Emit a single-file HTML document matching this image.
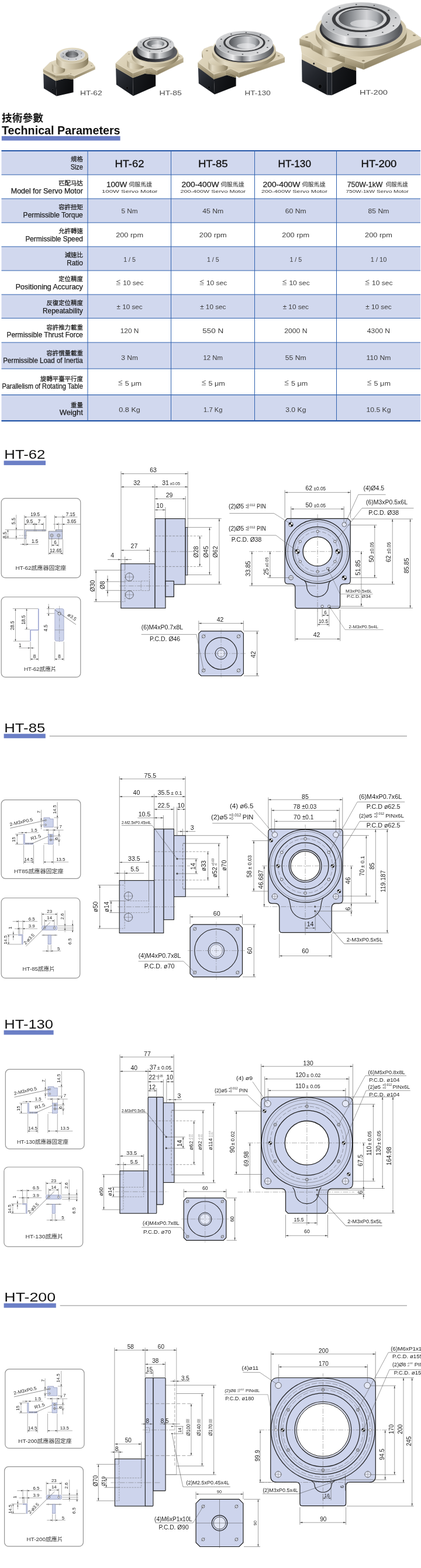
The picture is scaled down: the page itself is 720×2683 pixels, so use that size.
<!DOCTYPE html>
<html lang="zh-Hant">
<head>
<meta charset="utf-8">
<title>HT Series Hollow Rotary Table - Technical Parameters</title>
<style>
html,body{margin:0;padding:0;background:#fff;}
body{width:720px;height:2683px;overflow:hidden;}
svg{display:block;font-family:"Liberation Sans", "Noto Sans CJK TC", sans-serif;will-change:transform;}
</style>
</head>
<body>
<svg width="720" height="2683" viewBox="0 0 720 2683">
<rect width="720" height="2683" fill="#ffffff"/>
<g fill="#222">
<g id="header">
<defs>
<linearGradient id="gBlkL" x1="0" y1="0" x2="0.7" y2="1"><stop offset="0" stop-color="#3a3e46"/><stop offset="0.5" stop-color="#24272d"/><stop offset="1" stop-color="#15171b"/></linearGradient>
<linearGradient id="gBlkR" x1="0" y1="0" x2="1" y2="0.3"><stop offset="0" stop-color="#1a1c20"/><stop offset="1" stop-color="#0b0c0e"/></linearGradient>
<linearGradient id="gTop" x1="0" y1="0" x2="1" y2="0.4"><stop offset="0" stop-color="#e4dbc4"/><stop offset="0.55" stop-color="#d3c8ac"/><stop offset="1" stop-color="#ddd3ba"/></linearGradient>
<linearGradient id="gRim" x1="0" y1="0" x2="0" y2="1"><stop offset="0" stop-color="#bfb396"/><stop offset="1" stop-color="#8d8163"/></linearGradient>
<linearGradient id="gBodyL" x1="0" y1="0" x2="0" y2="1"><stop offset="0" stop-color="#ddd3ba"/><stop offset="1" stop-color="#c0b497"/></linearGradient>
<linearGradient id="gBodyF" x1="0" y1="0" x2="1" y2="0.5"><stop offset="0" stop-color="#c2b699"/><stop offset="1" stop-color="#7f7457"/></linearGradient>
<linearGradient id="gCylS" x1="0" y1="0" x2="1" y2="0"><stop offset="0" stop-color="#a99d80"/><stop offset="0.2" stop-color="#e3dbc5"/><stop offset="0.5" stop-color="#c9bea2"/><stop offset="0.8" stop-color="#a99d80"/><stop offset="1" stop-color="#84795c"/></linearGradient>
<linearGradient id="gCylT" x1="0" y1="0" x2="1" y2="1"><stop offset="0" stop-color="#e6dec8"/><stop offset="1" stop-color="#c6bb9e"/></linearGradient>
<linearGradient id="gSteelS" x1="0" y1="0" x2="1" y2="0"><stop offset="0" stop-color="#5f6164"/><stop offset="0.14" stop-color="#a5a7aa"/><stop offset="0.3" stop-color="#eeeeef"/><stop offset="0.46" stop-color="#6f7174"/><stop offset="0.6" stop-color="#dcdddf"/><stop offset="0.8" stop-color="#8e9093"/><stop offset="1" stop-color="#4f5154"/></linearGradient>
<linearGradient id="gSteelT" x1="0" y1="0" x2="1" y2="1"><stop offset="0" stop-color="#e9e9ea"/><stop offset="0.4" stop-color="#b4b6b9"/><stop offset="0.7" stop-color="#cfd0d2"/><stop offset="1" stop-color="#e6e6e7"/></linearGradient>
<linearGradient id="gHole" x1="0" y1="0" x2="1" y2="0"><stop offset="0" stop-color="#4d4f53"/><stop offset="0.3" stop-color="#8f9296"/><stop offset="0.62" stop-color="#d2d3d6"/><stop offset="0.85" stop-color="#a3a6aa"/><stop offset="1" stop-color="#5a5c60"/></linearGradient>
<linearGradient id="gHoleD" x1="0" y1="0" x2="1" y2="0"><stop offset="0" stop-color="#3a3b3e"/><stop offset="0.55" stop-color="#8a8c90"/><stop offset="1" stop-color="#55575a"/></linearGradient>
<linearGradient id="gSeal" x1="0" y1="0" x2="1" y2="0.3"><stop offset="0" stop-color="#4a4b50"/><stop offset="0.35" stop-color="#1d1d20"/><stop offset="0.7" stop-color="#34353a"/><stop offset="1" stop-color="#5a5b60"/></linearGradient>
</defs>
<polygon points="74.2,125.5 95.2,138.2 96.8,164.5 74.9,151.3" fill="url(#gBlkL)"/>
<polygon points="95.2,138.2 111.2,134.2 125.5,135.8 125.5,158.1 96.8,164.5" fill="url(#gBlkR)"/>
<polygon points="74.2,118.3 95.2,128.7 95.2,138.4 74.2,125.7" fill="url(#gBodyL)"/>
<polygon points="95.2,128.7 112.8,127.9 125.5,131 125.5,136 111.2,134.4 95.2,138.4" fill="url(#gBodyF)"/>
<polygon points="74.2,118.3 85.7,106.8 85.7,111.6 74.2,123.1" fill="url(#gRim)" stroke="#b3a88d" stroke-width="0.5" stroke-linejoin="round"/>
<polygon points="85.7,106.8 96,103 96,107.8 85.7,111.6" fill="url(#gRim)" stroke="#b3a88d" stroke-width="0.5" stroke-linejoin="round"/>
<polygon points="96,103 150,103 150,107.8 96,107.8" fill="url(#gRim)" stroke="#b3a88d" stroke-width="0.5" stroke-linejoin="round"/>
<polygon points="150,103 158,108 158,112.8 150,107.8" fill="url(#gRim)" stroke="#b3a88d" stroke-width="0.5" stroke-linejoin="round"/>
<polygon points="158,108 162.1,114 162.1,118.8 158,112.8" fill="url(#gRim)" stroke="#b3a88d" stroke-width="0.5" stroke-linejoin="round"/>
<polygon points="162.1,114 127.1,129.9 127.1,134.7 162.1,118.8" fill="url(#gRim)" stroke="#b3a88d" stroke-width="0.5" stroke-linejoin="round"/>
<polygon points="127.1,129.9 118.3,126.7 118.3,131.5 127.1,134.7" fill="url(#gRim)" stroke="#b3a88d" stroke-width="0.5" stroke-linejoin="round"/>
<polygon points="118.3,126.7 112.8,127.9 112.8,132.7 118.3,131.5" fill="url(#gRim)" stroke="#b3a88d" stroke-width="0.5" stroke-linejoin="round"/>
<polygon points="112.8,127.9 95.2,128.7 95.2,133.5 112.8,132.7" fill="url(#gRim)" stroke="#b3a88d" stroke-width="0.5" stroke-linejoin="round"/>
<polygon points="95.2,128.7 74.2,118.3 74.2,123.1 95.2,133.5" fill="url(#gRim)" stroke="#b3a88d" stroke-width="0.5" stroke-linejoin="round"/>
<polygon points="74.2,118.3 85.7,106.8 96,103 150,103 158,108 162.1,114 127.1,129.9 118.3,126.7 112.8,127.9 95.2,128.7" fill="url(#gTop)" stroke="#ebe4d1" stroke-width="0.6" stroke-linejoin="round"/>
<ellipse cx="156.5" cy="112.3" rx="1.3" ry="0.65" fill="#8d8268" stroke="#c9bfa6" stroke-width="0.4"/>
<ellipse cx="121" cy="126.2" rx="1.2" ry="0.6" fill="#8d8268" stroke="#c9bfa6" stroke-width="0.4"/>
<ellipse cx="90.3" cy="153.6" rx="1.5" ry="1.72" fill="#050505" stroke="#3d4046" stroke-width="0.5"/>
<path d="M88.8 108.5 V120.5 A11.2 5.6 0 0 0 111.2 120.5 V108.5 Z" fill="url(#gCylS)"/>
<ellipse cx="100" cy="108.5" rx="11.2" ry="5.6" fill="url(#gCylT)"/>
<path d="M96.2 94.9 V105.9 A27.4 13.1 0 0 0 151 105.9 V94.9 Z" fill="url(#gCylS)"/>
<ellipse cx="123.6" cy="94.9" rx="27.4" ry="13.1" fill="url(#gCylT)" stroke="#ece6d5" stroke-width="0.5"/>
<ellipse cx="123.6" cy="94.1" rx="21.5" ry="9.9" fill="url(#gSteelT)" stroke="#f6f6f6" stroke-width="0.5"/>
<ellipse cx="139.15" cy="96.99" rx="0.9" ry="0.6" fill="#55575a"/>
<ellipse cx="130.15" cy="101.21" rx="0.9" ry="0.6" fill="#55575a"/>
<ellipse cx="117.32" cy="101.26" rx="0.9" ry="0.6" fill="#55575a"/>
<ellipse cx="108.16" cy="97.12" rx="0.9" ry="0.6" fill="#55575a"/>
<ellipse cx="108.05" cy="91.21" rx="0.9" ry="0.6" fill="#55575a"/>
<ellipse cx="117.05" cy="86.99" rx="0.9" ry="0.6" fill="#55575a"/>
<ellipse cx="129.88" cy="86.94" rx="0.9" ry="0.6" fill="#55575a"/>
<ellipse cx="139.04" cy="91.08" rx="0.9" ry="0.6" fill="#55575a"/>
<ellipse cx="123.1" cy="93.3" rx="11.5" ry="6" fill="url(#gHoleD)" stroke="#e6e6e6" stroke-width="0.6"/>
<path d="M111.6 93.3 A11.5 6 0 0 1 129.42 88.32 A12.65 5.4 0 0 0 111.6 93.3 Z" fill="#3a3c40" opacity="0.8"/>
<ellipse cx="124.48" cy="96.3" rx="6.9" ry="2.28" fill="#f1f1f2" opacity="0.15"/>
<text x="137" y="163.4" font-size="10.6" textLength="37.8" lengthAdjust="spacingAndGlyphs" fill="#4a4a4a">HT-62</text>
<polygon points="198.1,116 227.1,133 227.8,164.2 198.9,144.7" fill="url(#gBlkL)"/>
<polygon points="227.1,133 247.3,125.8 266.2,127.8 266.2,147.3 227.8,164.2" fill="url(#gBlkR)"/>
<polygon points="198.1,108.2 227.1,125.2 227.1,133.2 198.1,116.2" fill="url(#gBodyL)"/>
<polygon points="227.1,125.2 247.3,118.5 266.2,120.5 266.2,128 247.3,126 227.1,133.2" fill="url(#gBodyF)"/>
<polygon points="198.1,108.2 215.4,91.5 215.4,99.3 198.1,116" fill="url(#gRim)" stroke="#b3a88d" stroke-width="0.5" stroke-linejoin="round"/>
<polygon points="215.4,91.5 219.3,88.1 219.3,95.9 215.4,99.3" fill="url(#gRim)" stroke="#b3a88d" stroke-width="0.5" stroke-linejoin="round"/>
<polygon points="219.3,88.1 232,85 232,92.8 219.3,95.9" fill="url(#gRim)" stroke="#b3a88d" stroke-width="0.5" stroke-linejoin="round"/>
<polygon points="232,85 305.3,92 305.3,99.8 232,92.8" fill="url(#gRim)" stroke="#b3a88d" stroke-width="0.5" stroke-linejoin="round"/>
<polygon points="305.3,92 311.1,95.3 311.1,103.1 305.3,99.8" fill="url(#gRim)" stroke="#b3a88d" stroke-width="0.5" stroke-linejoin="round"/>
<polygon points="311.1,95.3 313.1,98.8 313.1,106.6 311.1,103.1" fill="url(#gRim)" stroke="#b3a88d" stroke-width="0.5" stroke-linejoin="round"/>
<polygon points="313.1,98.8 268.1,120.7 268.1,128.5 313.1,106.6" fill="url(#gRim)" stroke="#b3a88d" stroke-width="0.5" stroke-linejoin="round"/>
<polygon points="268.1,120.7 257.4,115.4 257.4,123.2 268.1,128.5" fill="url(#gRim)" stroke="#b3a88d" stroke-width="0.5" stroke-linejoin="round"/>
<polygon points="257.4,115.4 248.6,117.4 248.6,125.2 257.4,123.2" fill="url(#gRim)" stroke="#b3a88d" stroke-width="0.5" stroke-linejoin="round"/>
<polygon points="248.6,117.4 227.1,125.2 227.1,133 248.6,125.2" fill="url(#gRim)" stroke="#b3a88d" stroke-width="0.5" stroke-linejoin="round"/>
<polygon points="227.1,125.2 198.1,108.2 198.1,116 227.1,133" fill="url(#gRim)" stroke="#b3a88d" stroke-width="0.5" stroke-linejoin="round"/>
<polygon points="198.1,108.2 215.4,91.5 219.3,88.1 232,85 305.3,92 311.1,95.3 313.1,98.8 268.1,120.7 257.4,115.4 248.6,117.4 227.1,125.2" fill="url(#gTop)" stroke="#ebe4d1" stroke-width="0.6" stroke-linejoin="round"/>
<ellipse cx="306.5" cy="96.5" rx="1.5" ry="0.75" fill="#8d8268" stroke="#c9bfa6" stroke-width="0.4"/>
<ellipse cx="259.5" cy="117.5" rx="1.5" ry="0.75" fill="#8d8268" stroke="#c9bfa6" stroke-width="0.4"/>
<ellipse cx="220.5" cy="92.5" rx="1.4" ry="0.7" fill="#8d8268" stroke="#c9bfa6" stroke-width="0.4"/>
<ellipse cx="217.5" cy="150.5" rx="1.9" ry="2.18" fill="#050505" stroke="#3d4046" stroke-width="0.5"/>
<path d="M217.5 102.5 V112.5 A14.5 6.5 0 0 0 246.5 112.5 V102.5 Z" fill="url(#gCylS)"/>
<ellipse cx="232" cy="102.5" rx="14.5" ry="6.5" fill="url(#gCylT)"/>
<path d="M225.2 90 V97 A40 18.6 0 0 0 305.2 97 V90 Z" fill="url(#gCylS)"/>
<ellipse cx="265.2" cy="90" rx="40" ry="18.6" fill="url(#gCylT)" stroke="#ece6d5" stroke-width="0.5"/>
<ellipse cx="265.2" cy="89.1" rx="38.1" ry="17.2" fill="url(#gSeal)"/>
<path d="M234.6 76.4 V87.1 A31.6 14.1 0 0 0 297.8 87.1 V76.4 Z" fill="url(#gSteelS)"/>
<ellipse cx="266.2" cy="76.4" rx="31.6" ry="14.1" fill="url(#gSteelT)" stroke="#f6f6f6" stroke-width="0.5"/>
<ellipse cx="266.2" cy="75.4" rx="22.5" ry="9.8" fill="#3a3b3e"/>
<ellipse cx="266.2" cy="75.1" rx="19.5" ry="8.4" fill="url(#gSteelT)" stroke="#fafafa" stroke-width="0.4"/>
<ellipse cx="291.4" cy="80.94" rx="0.9" ry="0.6" fill="#55575a"/>
<ellipse cx="276.82" cy="87.56" rx="0.9" ry="0.6" fill="#55575a"/>
<ellipse cx="256.02" cy="87.64" rx="0.9" ry="0.6" fill="#55575a"/>
<ellipse cx="241.18" cy="81.14" rx="0.9" ry="0.6" fill="#55575a"/>
<ellipse cx="241" cy="71.86" rx="0.9" ry="0.6" fill="#55575a"/>
<ellipse cx="255.58" cy="65.24" rx="0.9" ry="0.6" fill="#55575a"/>
<ellipse cx="276.38" cy="65.16" rx="0.9" ry="0.6" fill="#55575a"/>
<ellipse cx="291.22" cy="71.66" rx="0.9" ry="0.6" fill="#55575a"/>
<ellipse cx="266.2" cy="75" rx="15.2" ry="6.8" fill="url(#gHole)" stroke="#e6e6e6" stroke-width="0.6"/>
<path d="M251 75 A15.2 6.8 0 0 1 274.56 69.36 A16.72 6.12 0 0 0 251 75 Z" fill="#3a3c40" opacity="0.8"/>
<ellipse cx="268.02" cy="78.4" rx="9.12" ry="2.58" fill="#f1f1f2" opacity="0.55"/>
<text x="272.6" y="162.7" font-size="10.6" textLength="38.2" lengthAdjust="spacingAndGlyphs" fill="#4a4a4a">HT-85</text>
<polygon points="338.9,115.4 365.8,133.6 367.1,161.6 339.8,142.7" fill="url(#gBlkL)"/>
<polygon points="365.8,133.6 386,127.8 403.6,133 403.6,147.3 367.1,161.6" fill="url(#gBlkR)"/>
<polygon points="338.9,106.9 365.8,127.1 365.8,133.8 338.9,115.6" fill="url(#gBodyL)"/>
<polygon points="365.8,127.1 386,120.6 403.6,124 403.6,133.2 386,128 365.8,133.8" fill="url(#gBodyF)"/>
<polygon points="338.9,106.9 347.9,98.1 347.9,106.5 338.9,115.3" fill="url(#gRim)" stroke="#b3a88d" stroke-width="0.5" stroke-linejoin="round"/>
<polygon points="347.9,98.1 345.5,88.5 345.5,96.9 347.9,106.5" fill="url(#gRim)" stroke="#b3a88d" stroke-width="0.5" stroke-linejoin="round"/>
<polygon points="345.5,88.5 349.1,83.7 349.1,92.1 345.5,96.9" fill="url(#gRim)" stroke="#b3a88d" stroke-width="0.5" stroke-linejoin="round"/>
<polygon points="349.1,83.7 361,79 361,87.4 349.1,92.1" fill="url(#gRim)" stroke="#b3a88d" stroke-width="0.5" stroke-linejoin="round"/>
<polygon points="361,79 473.3,88.5 473.3,96.9 361,87.4" fill="url(#gRim)" stroke="#b3a88d" stroke-width="0.5" stroke-linejoin="round"/>
<polygon points="473.3,88.5 482.8,93.3 482.8,101.7 473.3,96.9" fill="url(#gRim)" stroke="#b3a88d" stroke-width="0.5" stroke-linejoin="round"/>
<polygon points="482.8,93.3 486.4,98.1 486.4,106.5 482.8,101.7" fill="url(#gRim)" stroke="#b3a88d" stroke-width="0.5" stroke-linejoin="round"/>
<polygon points="486.4,98.1 408.8,124.3 408.8,132.7 486.4,106.5" fill="url(#gRim)" stroke="#b3a88d" stroke-width="0.5" stroke-linejoin="round"/>
<polygon points="408.8,124.3 394.5,117.2 394.5,125.6 408.8,132.7" fill="url(#gRim)" stroke="#b3a88d" stroke-width="0.5" stroke-linejoin="round"/>
<polygon points="394.5,117.2 386,120.6 386,129 394.5,125.6" fill="url(#gRim)" stroke="#b3a88d" stroke-width="0.5" stroke-linejoin="round"/>
<polygon points="386,120.6 365.8,127.1 365.8,135.5 386,129" fill="url(#gRim)" stroke="#b3a88d" stroke-width="0.5" stroke-linejoin="round"/>
<polygon points="365.8,127.1 338.9,106.9 338.9,115.3 365.8,135.5" fill="url(#gRim)" stroke="#b3a88d" stroke-width="0.5" stroke-linejoin="round"/>
<polygon points="338.9,106.9 347.9,98.1 345.5,88.5 349.1,83.7 361,79 473.3,88.5 482.8,93.3 486.4,98.1 408.8,124.3 394.5,117.2 386,120.6 365.8,127.1" fill="url(#gTop)" stroke="#ebe4d1" stroke-width="0.6" stroke-linejoin="round"/>
<ellipse cx="354" cy="86.8" rx="2" ry="1" fill="#8d8268" stroke="#c9bfa6" stroke-width="0.4"/>
<ellipse cx="476.5" cy="95.5" rx="2" ry="1" fill="#8d8268" stroke="#c9bfa6" stroke-width="0.4"/>
<ellipse cx="419.5" cy="122" rx="2" ry="1" fill="#8d8268" stroke="#c9bfa6" stroke-width="0.4"/>
<ellipse cx="357.5" cy="149.5" rx="1.9" ry="2.18" fill="#050505" stroke="#3d4046" stroke-width="0.5"/>
<path d="M356.5 105 V116 A16.5 7.5 0 0 0 389.5 116 V105 Z" fill="url(#gCylS)"/>
<ellipse cx="373" cy="105" rx="16.5" ry="7.5" fill="url(#gCylT)"/>
<path d="M362.8 84.9 V91.9 A54.4 25.1 0 0 0 471.6 91.9 V84.9 Z" fill="url(#gCylS)"/>
<ellipse cx="417.2" cy="84.9" rx="54.4" ry="25.1" fill="url(#gCylT)" stroke="#ece6d5" stroke-width="0.5"/>
<ellipse cx="417.2" cy="83.7" rx="51.3" ry="23.4" fill="url(#gSeal)"/>
<path d="M369 74.2 V83.8 A48.9 21.5 0 0 0 466.8 83.8 V74.2 Z" fill="url(#gSteelS)"/>
<ellipse cx="417.9" cy="74.2" rx="48.9" ry="21.5" fill="url(#gSteelT)" stroke="#f6f6f6" stroke-width="0.5"/>
<ellipse cx="417.9" cy="73" rx="35.8" ry="15.5" fill="#3a3b3e"/>
<ellipse cx="417.9" cy="72.7" rx="32.2" ry="13.8" fill="url(#gSteelT)" stroke="#fafafa" stroke-width="0.4"/>
<ellipse cx="457.35" cy="81.21" rx="1.4" ry="0.9" fill="#55575a"/>
<ellipse cx="440.44" cy="90.06" rx="1.4" ry="0.9" fill="#55575a"/>
<ellipse cx="414.93" cy="92.86" rx="1.4" ry="0.9" fill="#55575a"/>
<ellipse cx="390.55" cy="88.53" rx="1.4" ry="0.9" fill="#55575a"/>
<ellipse cx="376.62" cy="78.73" rx="1.4" ry="0.9" fill="#55575a"/>
<ellipse cx="378.45" cy="67.19" rx="1.4" ry="0.9" fill="#55575a"/>
<ellipse cx="395.36" cy="58.34" rx="1.4" ry="0.9" fill="#55575a"/>
<ellipse cx="420.87" cy="55.54" rx="1.4" ry="0.9" fill="#55575a"/>
<ellipse cx="445.25" cy="59.87" rx="1.4" ry="0.9" fill="#55575a"/>
<ellipse cx="459.18" cy="69.67" rx="1.4" ry="0.9" fill="#55575a"/>
<ellipse cx="417.9" cy="72.5" rx="26.7" ry="11.9" fill="url(#gHole)" stroke="#e6e6e6" stroke-width="0.6"/>
<path d="M391.2 72.5 A26.7 11.9 0 0 1 432.58 62.62 A29.37 10.71 0 0 0 391.2 72.5 Z" fill="#3a3c40" opacity="0.8"/>
<ellipse cx="421.1" cy="78.45" rx="16.02" ry="4.52" fill="#f1f1f2" opacity="0.55"/>
<text x="418.5" y="163.3" font-size="10.6" textLength="44.2" lengthAdjust="spacingAndGlyphs" fill="#4a4a4a">HT-130</text>
<polygon points="516,101.6 559.4,123.6 559.4,162.4 516.6,139.8" fill="url(#gBlkL)"/>
<polygon points="559.4,123.6 567.5,124.2 567.5,162.9 559.4,162.4" fill="#23262c"/>
<polygon points="567.5,124.2 586.6,113.8 609.2,120.8 609.2,143.4 567.5,162.9" fill="url(#gBlkR)"/>
<polygon points="516,91.2 559.4,114.9 559.4,123.8 516,101.8" fill="url(#gBodyL)"/>
<polygon points="559.4,114.9 567.5,115.5 567.5,124.4 559.4,123.8" fill="#e9e2cf"/>
<polygon points="567.5,115.5 588.4,105.5 609.2,112 609.2,121 586.6,114 567.5,124.4" fill="url(#gBodyF)"/>
<polygon points="516,91.2 513.7,77.4 560,80 600,100 588.4,105.5 567.5,115.5 559.4,114.9" fill="url(#gTop)"/>
<polygon points="512.8,66.1 517.2,61.7 517.2,72.7 512.8,77.1" fill="url(#gRim)" stroke="#b3a88d" stroke-width="0.5" stroke-linejoin="round"/>
<polygon points="517.2,61.7 540.8,51.3 540.8,62.3 517.2,72.7" fill="url(#gRim)" stroke="#b3a88d" stroke-width="0.5" stroke-linejoin="round"/>
<polygon points="540.8,51.3 688.6,45.1 688.6,56.1 540.8,62.3" fill="url(#gRim)" stroke="#b3a88d" stroke-width="0.5" stroke-linejoin="round"/>
<polygon points="688.6,45.1 704,52.9 704,63.9 688.6,56.1" fill="url(#gRim)" stroke="#b3a88d" stroke-width="0.5" stroke-linejoin="round"/>
<polygon points="704,52.9 719.7,64.7 719.7,75.7 704,63.9" fill="url(#gRim)" stroke="#b3a88d" stroke-width="0.5" stroke-linejoin="round"/>
<polygon points="719.7,64.7 720,66 720,77 719.7,75.7" fill="url(#gRim)" stroke="#b3a88d" stroke-width="0.5" stroke-linejoin="round"/>
<polygon points="720,66 622,108 622,119 720,77" fill="url(#gRim)" stroke="#b3a88d" stroke-width="0.5" stroke-linejoin="round"/>
<polygon points="622,108 590,97 590,108 622,119" fill="url(#gRim)" stroke="#b3a88d" stroke-width="0.5" stroke-linejoin="round"/>
<polygon points="590,97 551.9,84.3 551.9,95.3 590,108" fill="url(#gRim)" stroke="#b3a88d" stroke-width="0.5" stroke-linejoin="round"/>
<polygon points="551.9,84.3 535.4,75.6 535.4,86.6 551.9,95.3" fill="url(#gRim)" stroke="#b3a88d" stroke-width="0.5" stroke-linejoin="round"/>
<polygon points="535.4,75.6 531,71.3 531,82.3 535.4,86.6" fill="url(#gRim)" stroke="#b3a88d" stroke-width="0.5" stroke-linejoin="round"/>
<polygon points="531,71.3 512.8,66.1 512.8,77.1 531,82.3" fill="url(#gRim)" stroke="#b3a88d" stroke-width="0.5" stroke-linejoin="round"/>
<polygon points="512.8,66.1 517.2,61.7 540.8,51.3 688.6,45.1 704,52.9 719.7,64.7 720,66 622,108 590,97 551.9,84.3 535.4,75.6 531,71.3" fill="url(#gTop)" stroke="#ebe4d1" stroke-width="0.6" stroke-linejoin="round"/>
<ellipse cx="524.5" cy="63.5" rx="2.6" ry="1.3" fill="#8d8268" stroke="#c9bfa6" stroke-width="0.4"/>
<ellipse cx="708.5" cy="60.5" rx="2.6" ry="1.3" fill="#8d8268" stroke="#c9bfa6" stroke-width="0.4"/>
<ellipse cx="621.4" cy="104" rx="2.6" ry="1.3" fill="#8d8268" stroke="#c9bfa6" stroke-width="0.4"/>
<ellipse cx="547.3" cy="147.9" rx="3.2" ry="3.68" fill="#050505" stroke="#3d4046" stroke-width="0.5"/>
<ellipse cx="536.8" cy="108.9" rx="1.2" ry="1.38" fill="#050505" stroke="#3d4046" stroke-width="0.5"/>
<path d="M550 76 V91 A16 7.5 0 0 0 582 91 V76 Z" fill="url(#gCylS)"/>
<ellipse cx="566" cy="76" rx="16" ry="7.5" fill="url(#gCylT)"/>
<path d="M539.8 51.3 V61.3 A77.8 35.8 0 0 0 695.4 61.3 V51.3 Z" fill="url(#gCylS)"/>
<ellipse cx="617.6" cy="51.3" rx="77.8" ry="35.8" fill="url(#gCylT)" stroke="#ece6d5" stroke-width="0.5"/>
<ellipse cx="617.6" cy="49.8" rx="70.9" ry="32.4" fill="url(#gSeal)"/>
<path d="M549.8 34.2 V48.2 A67.8 30.5 0 0 0 685.4 48.2 V34.2 Z" fill="url(#gSteelS)"/>
<ellipse cx="617.6" cy="34.2" rx="67.8" ry="30.5" fill="url(#gSteelT)" stroke="#f6f6f6" stroke-width="0.5"/>
<ellipse cx="617.6" cy="32.7" rx="49.8" ry="22.4" fill="#3a3b3e"/>
<ellipse cx="617.6" cy="32.4" rx="43.6" ry="19.3" fill="url(#gSteelT)" stroke="#fafafa" stroke-width="0.4"/>
<ellipse cx="672.92" cy="44.25" rx="1.4" ry="0.9" fill="#55575a"/>
<ellipse cx="654.33" cy="55.35" rx="1.4" ry="0.9" fill="#55575a"/>
<ellipse cx="625.9" cy="60.78" rx="1.4" ry="0.9" fill="#55575a"/>
<ellipse cx="595.25" cy="59.09" rx="1.4" ry="0.9" fill="#55575a"/>
<ellipse cx="570.58" cy="50.72" rx="1.4" ry="0.9" fill="#55575a"/>
<ellipse cx="558.52" cy="37.94" rx="1.4" ry="0.9" fill="#55575a"/>
<ellipse cx="562.28" cy="24.15" rx="1.4" ry="0.9" fill="#55575a"/>
<ellipse cx="580.87" cy="13.05" rx="1.4" ry="0.9" fill="#55575a"/>
<ellipse cx="609.3" cy="7.62" rx="1.4" ry="0.9" fill="#55575a"/>
<ellipse cx="639.95" cy="9.31" rx="1.4" ry="0.9" fill="#55575a"/>
<ellipse cx="664.62" cy="17.68" rx="1.4" ry="0.9" fill="#55575a"/>
<ellipse cx="676.68" cy="30.46" rx="1.4" ry="0.9" fill="#55575a"/>
<ellipse cx="617.6" cy="31.7" rx="38.9" ry="17.1" fill="url(#gHole)" stroke="#e6e6e6" stroke-width="0.6"/>
<path d="M578.7 31.7 A38.9 17.1 0 0 1 639 17.51 A42.79 15.39 0 0 0 578.7 31.7 Z" fill="#3a3c40" opacity="0.8"/>
<ellipse cx="622.27" cy="40.25" rx="23.34" ry="6.5" fill="#f1f1f2" opacity="0.55"/>
<text x="615" y="161.5" font-size="10.6" textLength="48" lengthAdjust="spacingAndGlyphs" fill="#4a4a4a">HT-200</text>
<text x="3" y="207.5" font-size="17.5" font-weight="bold" textLength="71" lengthAdjust="spacingAndGlyphs" fill="#111">技術參數</text>
<text x="3" y="229.6" font-size="19.8" font-weight="bold" textLength="202.6" lengthAdjust="spacingAndGlyphs" fill="#111">Technical Parameters</text>
<rect x="2.8" y="232.9" width="202.8" height="7.6" fill="#6b7fc6"/>
</g>
<g id="table">
<rect x="2.5" y="258" width="716.5" height="41" fill="#d1d8ee"/>
<rect x="2.5" y="340" width="716.5" height="41" fill="#d1d8ee"/>
<rect x="2.5" y="422" width="716.5" height="41" fill="#d1d8ee"/>
<rect x="2.5" y="504" width="716.5" height="40.5" fill="#d1d8ee"/>
<rect x="2.5" y="586" width="716.5" height="45" fill="#d1d8ee"/>
<rect x="2.5" y="675.6" width="716.5" height="44.9" fill="#d1d8ee"/>
<line x1="2.5" y1="258" x2="719" y2="258" stroke="#2456a8" stroke-width="2"/>
<line x1="2.5" y1="299" x2="719" y2="299" stroke="#2f61ae" stroke-width="1.1"/>
<line x1="2.5" y1="340" x2="719" y2="340" stroke="#2f61ae" stroke-width="1.1"/>
<line x1="2.5" y1="381" x2="719" y2="381" stroke="#2f61ae" stroke-width="1.1"/>
<line x1="2.5" y1="422" x2="719" y2="422" stroke="#2f61ae" stroke-width="1.1"/>
<line x1="2.5" y1="463" x2="719" y2="463" stroke="#2f61ae" stroke-width="1.1"/>
<line x1="2.5" y1="504" x2="719" y2="504" stroke="#2f61ae" stroke-width="1.1"/>
<line x1="2.5" y1="544.5" x2="719" y2="544.5" stroke="#2f61ae" stroke-width="1.1"/>
<line x1="2.5" y1="586" x2="719" y2="586" stroke="#2f61ae" stroke-width="1.1"/>
<line x1="2.5" y1="631" x2="719" y2="631" stroke="#2f61ae" stroke-width="1.1"/>
<line x1="2.5" y1="675.6" x2="719" y2="675.6" stroke="#2f61ae" stroke-width="1.1"/>
<line x1="2.5" y1="720.2" x2="719" y2="720.2" stroke="#2456a8" stroke-width="2.2"/>
<line x1="150" y1="258" x2="150" y2="720.5" stroke="#2f61ae" stroke-width="1"/>
<line x1="292.5" y1="258" x2="292.5" y2="720.5" stroke="#2f61ae" stroke-width="1"/>
<line x1="435.5" y1="258" x2="435.5" y2="720.5" stroke="#2f61ae" stroke-width="1"/>
<line x1="575.5" y1="258" x2="575.5" y2="720.5" stroke="#2f61ae" stroke-width="1"/>
<text x="141.8" y="276.2" font-size="10.4" text-anchor="end" fill="#1a1a1a" stroke="#1a1a1a" stroke-width="0.25">規格</text>
<text x="141.8" y="289.5" font-size="12.3" text-anchor="end" textLength="21.1" lengthAdjust="spacingAndGlyphs" fill="#1a1a1a" stroke="#1a1a1a" stroke-width="0.25">Size</text>
<text x="141.8" y="317.2" font-size="10.4" text-anchor="end" fill="#1a1a1a" stroke="#1a1a1a" stroke-width="0.25">匹配马达</text>
<text x="141.8" y="330.5" font-size="12.3" text-anchor="end" textLength="123" lengthAdjust="spacingAndGlyphs" fill="#1a1a1a" stroke="#1a1a1a" stroke-width="0.25">Model for Servo Motor</text>
<text x="141.8" y="358.2" font-size="10.4" text-anchor="end" fill="#1a1a1a" stroke="#1a1a1a" stroke-width="0.25">容許扭矩</text>
<text x="141.8" y="371.5" font-size="12.3" text-anchor="end" textLength="102.2" lengthAdjust="spacingAndGlyphs" fill="#1a1a1a" stroke="#1a1a1a" stroke-width="0.25">Permissible Torque</text>
<text x="141.8" y="399.2" font-size="10.4" text-anchor="end" fill="#1a1a1a" stroke="#1a1a1a" stroke-width="0.25">允許轉速</text>
<text x="141.8" y="412.5" font-size="12.3" text-anchor="end" textLength="98.4" lengthAdjust="spacingAndGlyphs" fill="#1a1a1a" stroke="#1a1a1a" stroke-width="0.25">Permissible Speed</text>
<text x="141.8" y="440.2" font-size="10.4" text-anchor="end" fill="#1a1a1a" stroke="#1a1a1a" stroke-width="0.25">減速比</text>
<text x="141.8" y="453.5" font-size="12.3" text-anchor="end" textLength="27.5" lengthAdjust="spacingAndGlyphs" fill="#1a1a1a" stroke="#1a1a1a" stroke-width="0.25">Ratio</text>
<text x="141.8" y="481.2" font-size="10.4" text-anchor="end" fill="#1a1a1a" stroke="#1a1a1a" stroke-width="0.25">定位精度</text>
<text x="141.8" y="494.5" font-size="12.3" text-anchor="end" textLength="115" lengthAdjust="spacingAndGlyphs" fill="#1a1a1a" stroke="#1a1a1a" stroke-width="0.25">Positioning Accuracy</text>
<text x="141.8" y="522.2" font-size="10.4" text-anchor="end" fill="#1a1a1a" stroke="#1a1a1a" stroke-width="0.25">反復定位精度</text>
<text x="141.8" y="535.5" font-size="12.3" text-anchor="end" textLength="68.9" lengthAdjust="spacingAndGlyphs" fill="#1a1a1a" stroke="#1a1a1a" stroke-width="0.25">Repeatability</text>
<text x="141.8" y="564.2" font-size="10.4" text-anchor="end" fill="#1a1a1a" stroke="#1a1a1a" stroke-width="0.25">容許推力載重</text>
<text x="141.8" y="577.3" font-size="12.3" text-anchor="end" textLength="130.2" lengthAdjust="spacingAndGlyphs" fill="#1a1a1a" stroke="#1a1a1a" stroke-width="0.25">Permissible Thrust Force</text>
<text x="141.8" y="608.2" font-size="10.4" text-anchor="end" fill="#1a1a1a" stroke="#1a1a1a" stroke-width="0.25">容許慣量載重</text>
<text x="141.8" y="621.3" font-size="12.3" text-anchor="end" textLength="136.6" lengthAdjust="spacingAndGlyphs" fill="#1a1a1a" stroke="#1a1a1a" stroke-width="0.25">Permissible Load of Inertia</text>
<text x="141.8" y="651.6" font-size="10.4" text-anchor="end" fill="#1a1a1a" stroke="#1a1a1a" stroke-width="0.25">旋轉平臺平行度</text>
<text x="141.8" y="665" font-size="12.3" text-anchor="end" textLength="138.4" lengthAdjust="spacingAndGlyphs" fill="#1a1a1a" stroke="#1a1a1a" stroke-width="0.25">Parallelism of Rotating Table</text>
<text x="141.8" y="697.3" font-size="10.4" text-anchor="end" fill="#1a1a1a" stroke="#1a1a1a" stroke-width="0.25">重量</text>
<text x="141.8" y="709.6" font-size="12.3" text-anchor="end" textLength="40" lengthAdjust="spacingAndGlyphs" fill="#1a1a1a" stroke="#1a1a1a" stroke-width="0.25">Weight</text>
<text x="196.4" y="285.6" font-size="16.2" textLength="50" lengthAdjust="spacingAndGlyphs" fill="#111" stroke="#111" stroke-width="0.3">HT-62</text>
<text x="338.9" y="285.6" font-size="16.2" textLength="50.8" lengthAdjust="spacingAndGlyphs" fill="#111" stroke="#111" stroke-width="0.3">HT-85</text>
<text x="475.6" y="285.6" font-size="16.2" textLength="56.4" lengthAdjust="spacingAndGlyphs" fill="#111" stroke="#111" stroke-width="0.3">HT-130</text>
<text x="617.6" y="285.6" font-size="16.2" textLength="60.8" lengthAdjust="spacingAndGlyphs" fill="#111" stroke="#111" stroke-width="0.3">HT-200</text>
<text x="182.1" y="319.5" font-size="12.8" textLength="35.2" lengthAdjust="spacingAndGlyphs" stroke="#222" stroke-width="0.25">100W</text>
<text x="220.3" y="318.6" font-size="9.4" textLength="40" lengthAdjust="spacingAndGlyphs">伺服馬達</text>
<text x="173.9" y="330.3" font-size="8" textLength="95.5" lengthAdjust="spacingAndGlyphs" fill="#333">100W Servo Motor</text>
<text x="310.6" y="319.5" font-size="12.8" textLength="63.9" lengthAdjust="spacingAndGlyphs" stroke="#222" stroke-width="0.25">200-400W</text>
<text x="377.5" y="318.6" font-size="9.4" textLength="40.4" lengthAdjust="spacingAndGlyphs">伺服馬達</text>
<text x="308.5" y="330.3" font-size="8" textLength="111.6" lengthAdjust="spacingAndGlyphs" fill="#333">200-400W Servo Motor</text>
<text x="449.5" y="319.5" font-size="12.8" textLength="63.9" lengthAdjust="spacingAndGlyphs" stroke="#222" stroke-width="0.25">200-400W</text>
<text x="516.4" y="318.6" font-size="9.4" textLength="40.4" lengthAdjust="spacingAndGlyphs">伺服馬達</text>
<text x="446.9" y="330.3" font-size="8" textLength="112.9" lengthAdjust="spacingAndGlyphs" fill="#333">200-400W Servo Motor</text>
<text x="593.7" y="319.5" font-size="12.8" textLength="60.8" lengthAdjust="spacingAndGlyphs" stroke="#222" stroke-width="0.25">750W-1kW</text>
<text x="659.7" y="318.6" font-size="9.4" textLength="38.2" lengthAdjust="spacingAndGlyphs">伺服馬達</text>
<text x="591.5" y="330.3" font-size="8" textLength="107.3" lengthAdjust="spacingAndGlyphs" fill="#333">750W-1kW Servo Motor</text>
<text x="221.6" y="364.8" font-size="11.5" text-anchor="middle" textLength="28.2" lengthAdjust="spacingAndGlyphs" fill="#3c3c3c">5 Nm</text>
<text x="364.3" y="364.8" font-size="11.5" text-anchor="middle" textLength="36" lengthAdjust="spacingAndGlyphs" fill="#3c3c3c">45 Nm</text>
<text x="505.8" y="364.8" font-size="11.5" text-anchor="middle" textLength="35.9" lengthAdjust="spacingAndGlyphs" fill="#3c3c3c">60 Nm</text>
<text x="647.5" y="364.8" font-size="11.5" text-anchor="middle" textLength="35.9" lengthAdjust="spacingAndGlyphs" fill="#3c3c3c">85 Nm</text>
<text x="221.6" y="406" font-size="11.5" text-anchor="middle" textLength="46.9" lengthAdjust="spacingAndGlyphs" fill="#3c3c3c">200 rpm</text>
<text x="364.3" y="406" font-size="11.5" text-anchor="middle" textLength="46.9" lengthAdjust="spacingAndGlyphs" fill="#3c3c3c">200 rpm</text>
<text x="505.8" y="406" font-size="11.5" text-anchor="middle" textLength="46.9" lengthAdjust="spacingAndGlyphs" fill="#3c3c3c">200 rpm</text>
<text x="647.5" y="406" font-size="11.5" text-anchor="middle" textLength="46.9" lengthAdjust="spacingAndGlyphs" fill="#3c3c3c">200 rpm</text>
<text x="221.6" y="447.7" font-size="11.5" text-anchor="middle" textLength="20.8" lengthAdjust="spacingAndGlyphs" fill="#3c3c3c">1 / 5</text>
<text x="364.3" y="447.7" font-size="11.5" text-anchor="middle" textLength="20.8" lengthAdjust="spacingAndGlyphs" fill="#3c3c3c">1 / 5</text>
<text x="505.8" y="447.7" font-size="11.5" text-anchor="middle" textLength="20.8" lengthAdjust="spacingAndGlyphs" fill="#3c3c3c">1 / 5</text>
<text x="647.5" y="447.7" font-size="11.5" text-anchor="middle" textLength="27.5" lengthAdjust="spacingAndGlyphs" fill="#3c3c3c">1 / 10</text>
<text x="197.7" y="487" font-size="9" fill="#3c3c3c">≦</text>
<text x="245.5" y="487.6" font-size="11.5" text-anchor="end" textLength="35.3" lengthAdjust="spacingAndGlyphs" fill="#3c3c3c">10 sec</text>
<text x="340.4" y="487" font-size="9" fill="#3c3c3c">≦</text>
<text x="388.2" y="487.6" font-size="11.5" text-anchor="end" textLength="35.3" lengthAdjust="spacingAndGlyphs" fill="#3c3c3c">10 sec</text>
<text x="481.9" y="487" font-size="9" fill="#3c3c3c">≦</text>
<text x="529.7" y="487.6" font-size="11.5" text-anchor="end" textLength="35.3" lengthAdjust="spacingAndGlyphs" fill="#3c3c3c">10 sec</text>
<text x="623.6" y="487" font-size="9" fill="#3c3c3c">≦</text>
<text x="671.4" y="487.6" font-size="11.5" text-anchor="end" textLength="35.3" lengthAdjust="spacingAndGlyphs" fill="#3c3c3c">10 sec</text>
<text x="221.6" y="529.1" font-size="11.5" text-anchor="middle" textLength="44.3" lengthAdjust="spacingAndGlyphs" fill="#3c3c3c">± 10 sec</text>
<text x="364.3" y="529.1" font-size="11.5" text-anchor="middle" textLength="44.3" lengthAdjust="spacingAndGlyphs" fill="#3c3c3c">± 10 sec</text>
<text x="505.8" y="529.1" font-size="11.5" text-anchor="middle" textLength="44.3" lengthAdjust="spacingAndGlyphs" fill="#3c3c3c">± 10 sec</text>
<text x="647.5" y="529.1" font-size="11.5" text-anchor="middle" textLength="44.3" lengthAdjust="spacingAndGlyphs" fill="#3c3c3c">± 10 sec</text>
<text x="221.6" y="570.3" font-size="11.5" text-anchor="middle" textLength="31.7" lengthAdjust="spacingAndGlyphs" fill="#3c3c3c">120 N</text>
<text x="364.3" y="570.3" font-size="11.5" text-anchor="middle" textLength="36" lengthAdjust="spacingAndGlyphs" fill="#3c3c3c">550 N</text>
<text x="505.8" y="570.3" font-size="11.5" text-anchor="middle" textLength="39.31" lengthAdjust="spacingAndGlyphs" fill="#3c3c3c">2000 N</text>
<text x="647.5" y="570.3" font-size="11.5" text-anchor="middle" textLength="39.31" lengthAdjust="spacingAndGlyphs" fill="#3c3c3c">4300 N</text>
<text x="221.6" y="616.4" font-size="11.5" text-anchor="middle" textLength="28.7" lengthAdjust="spacingAndGlyphs" fill="#3c3c3c">3 Nm</text>
<text x="364.3" y="616.4" font-size="11.5" text-anchor="middle" textLength="33.5" lengthAdjust="spacingAndGlyphs" fill="#3c3c3c">12 Nm</text>
<text x="505.8" y="616.4" font-size="11.5" text-anchor="middle" textLength="35.9" lengthAdjust="spacingAndGlyphs" fill="#3c3c3c">55 Nm</text>
<text x="647.5" y="616.4" font-size="11.5" text-anchor="middle" textLength="41.78" lengthAdjust="spacingAndGlyphs" fill="#3c3c3c">110 Nm</text>
<text x="201.2" y="658.9" font-size="9" fill="#3c3c3c">≦</text>
<text x="242" y="659.5" font-size="11.5" text-anchor="end" textLength="28.3" lengthAdjust="spacingAndGlyphs" fill="#3c3c3c">5 μm</text>
<text x="343.9" y="658.9" font-size="9" fill="#3c3c3c">≦</text>
<text x="384.7" y="659.5" font-size="11.5" text-anchor="end" textLength="28.3" lengthAdjust="spacingAndGlyphs" fill="#3c3c3c">5 μm</text>
<text x="485.4" y="658.9" font-size="9" fill="#3c3c3c">≦</text>
<text x="526.2" y="659.5" font-size="11.5" text-anchor="end" textLength="28.3" lengthAdjust="spacingAndGlyphs" fill="#3c3c3c">5 μm</text>
<text x="627.1" y="658.9" font-size="9" fill="#3c3c3c">≦</text>
<text x="667.9" y="659.5" font-size="11.5" text-anchor="end" textLength="28.3" lengthAdjust="spacingAndGlyphs" fill="#3c3c3c">5 μm</text>
<text x="221.6" y="705.1" font-size="11.5" text-anchor="middle" textLength="36.5" lengthAdjust="spacingAndGlyphs" fill="#3c3c3c">0.8 Kg</text>
<text x="364.3" y="705.1" font-size="11.5" text-anchor="middle" textLength="32.5" lengthAdjust="spacingAndGlyphs" fill="#3c3c3c">1.7 Kg</text>
<text x="505.8" y="705.1" font-size="11.5" text-anchor="middle" textLength="35.24" lengthAdjust="spacingAndGlyphs" fill="#3c3c3c">3.0 Kg</text>
<text x="647.5" y="705.1" font-size="11.5" text-anchor="middle" textLength="42.02" lengthAdjust="spacingAndGlyphs" fill="#3c3c3c">10.5 Kg</text>
</g>
<g id="ht62">
<text x="7.3" y="785.2" font-size="21.5" textLength="70.1" lengthAdjust="spacingAndGlyphs" fill="#111">HT-62</text>
<rect x="6.6" y="788.3" width="71.4" height="7.6" fill="#6b7fc6"/>
<rect x="2.2" y="852.6" width="135.6" height="136.1" fill="#fff" rx="7" stroke="#939393" stroke-width="1.2"/>
<path d="M41.68 906.43 H78.58 V908.6 H44.5 V922.06 H41.68 Z" fill="#cdd4ec" stroke="#555" stroke-width="0.6"/>
<line x1="58.61" y1="905.78" x2="58.61" y2="909.25" stroke="#666" stroke-width="0.5"/>
<line x1="61.43" y1="905.78" x2="61.43" y2="909.25" stroke="#666" stroke-width="0.5"/>
<line x1="72.72" y1="905.78" x2="72.72" y2="909.25" stroke="#666" stroke-width="0.5"/>
<line x1="75.54" y1="905.78" x2="75.54" y2="909.25" stroke="#666" stroke-width="0.5"/>
<line x1="32.56" y1="916.2" x2="46.67" y2="916.2" stroke="#666" stroke-width="0.4" stroke-dasharray="3 1.2"/>
<line x1="41.68" y1="881.47" x2="41.68" y2="905.78" stroke="#5a5a5a" stroke-width="0.5"/>
<line x1="78.58" y1="881.47" x2="78.58" y2="905.78" stroke="#5a5a5a" stroke-width="0.5"/>
<line x1="41.68" y1="884.72" x2="78.58" y2="884.72" stroke="#666" stroke-width="0.5"/>
<polygon points="41.68,884.72 44.88,883.62 44.88,885.82" fill="#444"/>
<polygon points="78.58,884.72 75.38,885.82 75.38,883.62" fill="#444"/>
<text x="60.13" y="882.77" font-size="8.2" text-anchor="middle">19.5</text>
<line x1="59.69" y1="894.06" x2="59.69" y2="905.78" stroke="#5a5a5a" stroke-width="0.5"/>
<line x1="74.45" y1="894.06" x2="74.45" y2="905.78" stroke="#5a5a5a" stroke-width="0.5"/>
<line x1="41.68" y1="897.09" x2="59.69" y2="897.09" stroke="#666" stroke-width="0.5"/>
<polygon points="41.68,897.09 44.88,895.99 44.88,898.19" fill="#444"/>
<polygon points="59.69,897.09 56.49,898.19 56.49,895.99" fill="#444"/>
<text x="50.68" y="894.71" font-size="8.2" text-anchor="middle">9.5</text>
<line x1="59.69" y1="897.09" x2="74.45" y2="897.09" stroke="#666" stroke-width="0.5"/>
<polygon points="59.69,897.09 62.89,895.99 62.89,898.19" fill="#444"/>
<polygon points="74.45,897.09 71.25,898.19 71.25,895.99" fill="#444"/>
<text x="67.07" y="894.71" font-size="8.2" text-anchor="middle">7</text>
<line x1="8.68" y1="906.43" x2="40.16" y2="906.43" stroke="#5a5a5a" stroke-width="0.5"/>
<line x1="8.68" y1="920.97" x2="40.16" y2="920.97" stroke="#5a5a5a" stroke-width="0.5"/>
<line x1="13.46" y1="906.43" x2="13.46" y2="920.97" stroke="#666" stroke-width="0.5"/>
<polygon points="13.46,906.43 14.56,909.63 12.36,909.63" fill="#444"/>
<polygon points="13.46,920.97 12.36,917.77 14.56,917.77" fill="#444"/>
<text x="11.29" y="915.54" font-size="8.2" text-anchor="middle" transform="rotate(-90 11.29 915.54)">8.5</text>
<line x1="27.78" y1="880.82" x2="27.78" y2="923.58" stroke="#5a5a5a" stroke-width="0.5"/>
<polygon points="27.78,906.43 26.68,903.23 28.88,903.23" fill="#444"/>
<polygon points="27.78,916.2 28.88,919.4 26.68,919.4" fill="#444"/>
<text x="26.05" y="891.67" font-size="8.2" text-anchor="middle" transform="rotate(-90 26.05 891.67)">5.5</text>
<line x1="34.73" y1="931.39" x2="66.2" y2="931.39" stroke="#5a5a5a" stroke-width="0.5"/>
<line x1="41.68" y1="923.14" x2="41.68" y2="934" stroke="#5a5a5a" stroke-width="0.5"/>
<line x1="44.5" y1="923.14" x2="44.5" y2="934" stroke="#5a5a5a" stroke-width="0.5"/>
<polygon points="41.68,931.39 38.48,932.49 38.48,930.29" fill="#444"/>
<polygon points="44.5,931.39 47.7,930.29 47.7,932.49" fill="#444"/>
<text x="59.69" y="929.22" font-size="8.2" text-anchor="middle">1.5</text>
<rect x="95.51" y="906.43" width="11.29" height="3.04" fill="#cdd4ec" stroke="#555" stroke-width="0.6"/>
<rect x="83.13" y="909.03" width="23.66" height="13.02" fill="#cdd4ec" stroke="#555" stroke-width="0.6"/>
<circle cx="88.56" cy="916.2" r="2.6" fill="#e9ecf8" stroke="#444" stroke-width="0.6"/>
<circle cx="88.56" cy="916.2" r="1.3" fill="none" stroke="#444" stroke-width="0.5"/>
<circle cx="100.28" cy="916.2" r="2.6" fill="#e9ecf8" stroke="#444" stroke-width="0.6"/>
<circle cx="100.28" cy="916.2" r="1.3" fill="none" stroke="#444" stroke-width="0.5"/>
<line x1="93.34" y1="881.47" x2="93.34" y2="905.78" stroke="#5a5a5a" stroke-width="0.5"/>
<line x1="106.79" y1="881.47" x2="106.79" y2="905.78" stroke="#5a5a5a" stroke-width="0.5"/>
<line x1="100.28" y1="894.06" x2="100.28" y2="905.78" stroke="#5a5a5a" stroke-width="0.5"/>
<line x1="93.34" y1="884.72" x2="132.41" y2="884.72" stroke="#5a5a5a" stroke-width="0.5"/>
<polygon points="93.34,884.72 96.54,883.62 96.54,885.82" fill="#444"/>
<polygon points="106.79,884.72 109.99,883.62 109.99,885.82" fill="#444"/>
<text x="120.69" y="882.77" font-size="8.2" text-anchor="middle">7.15</text>
<line x1="91.17" y1="897.09" x2="137.83" y2="897.09" stroke="#5a5a5a" stroke-width="0.5"/>
<polygon points="100.28,897.09 97.08,898.19 97.08,895.99" fill="#444"/>
<polygon points="106.79,897.09 109.99,895.99 109.99,898.19" fill="#444"/>
<text x="122.42" y="894.71" font-size="8.2" text-anchor="middle">3.65</text>
<line x1="88.56" y1="919.89" x2="88.56" y2="935.08" stroke="#5a5a5a" stroke-width="0.5"/>
<line x1="100.28" y1="919.89" x2="100.28" y2="935.08" stroke="#5a5a5a" stroke-width="0.5"/>
<line x1="88.56" y1="932.91" x2="100.28" y2="932.91" stroke="#666" stroke-width="0.5"/>
<polygon points="88.56,932.91 91.76,931.81 91.76,934.01" fill="#444"/>
<polygon points="100.28,932.91 97.08,934.01 97.08,931.81" fill="#444"/>
<text x="94.42" y="930.52" font-size="8.2" text-anchor="middle">6</text>
<line x1="83.13" y1="922.71" x2="83.13" y2="949.19" stroke="#5a5a5a" stroke-width="0.5"/>
<line x1="107.45" y1="922.71" x2="107.45" y2="949.19" stroke="#5a5a5a" stroke-width="0.5"/>
<line x1="83.13" y1="947.02" x2="107.45" y2="947.02" stroke="#666" stroke-width="0.5"/>
<polygon points="83.13,947.02 86.33,945.92 86.33,948.12" fill="#444"/>
<polygon points="107.45,947.02 104.25,948.12 104.25,945.92" fill="#444"/>
<text x="95.29" y="944.85" font-size="8.2" text-anchor="middle">12.65</text>
<text x="69.89" y="975.24" font-size="9.6" text-anchor="middle" textLength="86.8" lengthAdjust="spacingAndGlyphs" fill="#333">HT-62感應器固定座</text>
<rect x="2.2" y="1021.5" width="135.6" height="137.2" fill="#fff" rx="7" stroke="#939393" stroke-width="1.2"/>
<polyline points="65.77,1041.48 65.77,1077.95 52.09,1077.95 52.09,1097.05" fill="none" stroke="#9aa3cf" stroke-width="1.6"/>
<line x1="21.71" y1="1041.48" x2="65.12" y2="1041.48" stroke="#5a5a5a" stroke-width="0.5"/>
<line x1="22.79" y1="1097.05" x2="51.01" y2="1097.05" stroke="#5a5a5a" stroke-width="0.5"/>
<line x1="26.48" y1="1041.48" x2="26.48" y2="1097.05" stroke="#666" stroke-width="0.5"/>
<polygon points="26.48,1041.48 27.58,1044.68 25.38,1044.68" fill="#444"/>
<polygon points="26.48,1097.05 25.38,1093.85 27.58,1093.85" fill="#444"/>
<text x="23.88" y="1070.35" font-size="8.2" text-anchor="middle" transform="rotate(-90 23.88 1070.35)">28.5</text>
<line x1="42.33" y1="1076.86" x2="51.01" y2="1076.86" stroke="#5a5a5a" stroke-width="0.5"/>
<line x1="45.58" y1="1041.48" x2="45.58" y2="1076.86" stroke="#666" stroke-width="0.5"/>
<polygon points="45.58,1041.48 46.68,1044.68 44.48,1044.68" fill="#444"/>
<polygon points="45.58,1076.86 44.48,1073.66 46.68,1073.66" fill="#444"/>
<text x="42.98" y="1060.58" font-size="8.2" text-anchor="middle" transform="rotate(-90 42.98 1060.58)">18.5</text>
<line x1="32.56" y1="1108.77" x2="58.61" y2="1108.77" stroke="#5a5a5a" stroke-width="0.5"/>
<polygon points="51.23,1108.77 48.03,1109.87 48.03,1107.67" fill="#444"/>
<polygon points="52.96,1108.77 56.16,1107.67 56.16,1109.87" fill="#444"/>
<text x="34.3" y="1106.6" font-size="8.2" text-anchor="middle">1</text>
<line x1="52.09" y1="1097.92" x2="52.09" y2="1130.48" stroke="#5a5a5a" stroke-width="0.5"/>
<line x1="65.77" y1="1078.82" x2="65.77" y2="1130.48" stroke="#5a5a5a" stroke-width="0.5"/>
<line x1="52.09" y1="1127.87" x2="65.77" y2="1127.87" stroke="#666" stroke-width="0.5"/>
<polygon points="52.09,1127.87 55.29,1126.77 55.29,1128.97" fill="#444"/>
<polygon points="65.77,1127.87 62.57,1128.97 62.57,1126.77" fill="#444"/>
<text x="58.93" y="1125.7" font-size="8.2" text-anchor="middle">8</text>
<rect x="93.77" y="1041.48" width="15.41" height="55.57" fill="#cdd4ec" rx="3" stroke="#8a90b5" stroke-width="0.6"/>
<line x1="93.77" y1="1077.95" x2="109.18" y2="1077.95" stroke="#666" stroke-width="0.5"/>
<line x1="101.58" y1="1036.71" x2="101.58" y2="1099.65" stroke="#666" stroke-width="0.4" stroke-dasharray="6 1.5 1.5 1.5"/>
<circle cx="101.58" cy="1049.73" r="2.6" fill="#e9ecf8" stroke="#333" stroke-width="0.7"/>
<line x1="83.13" y1="1033.45" x2="83.13" y2="1054.07" stroke="#5a5a5a" stroke-width="0.5"/>
<line x1="79.88" y1="1041.48" x2="93.34" y2="1041.48" stroke="#5a5a5a" stroke-width="0.5"/>
<line x1="79.88" y1="1049.73" x2="93.34" y2="1049.73" stroke="#5a5a5a" stroke-width="0.5"/>
<polygon points="83.13,1041.48 82.03,1038.28 84.23,1038.28" fill="#444"/>
<polygon points="83.13,1049.73 84.23,1052.93 82.03,1052.93" fill="#444"/>
<text x="81.4" y="1074.69" font-size="8.2" text-anchor="middle" transform="rotate(-90 81.4 1074.69)">4.5</text>
<line x1="93.34" y1="1043.22" x2="129.8" y2="1068.61" stroke="#444" stroke-width="0.6"/>
<text x="121.55" y="1057.98" font-size="8.2" text-anchor="middle" transform="rotate(35 121.55 1057.98)">ø3.5</text>
<line x1="93.77" y1="1097.92" x2="93.77" y2="1130.48" stroke="#5a5a5a" stroke-width="0.5"/>
<line x1="109.18" y1="1097.92" x2="109.18" y2="1130.48" stroke="#5a5a5a" stroke-width="0.5"/>
<line x1="93.77" y1="1127.87" x2="109.18" y2="1127.87" stroke="#666" stroke-width="0.5"/>
<polygon points="93.77,1127.87 96.97,1126.77 96.97,1128.97" fill="#444"/>
<polygon points="109.18,1127.87 105.98,1128.97 105.98,1126.77" fill="#444"/>
<text x="101.48" y="1125.7" font-size="8.2" text-anchor="middle">8</text>
<text x="68.81" y="1148.49" font-size="9.6" text-anchor="middle" textLength="55.4" lengthAdjust="spacingAndGlyphs" fill="#333">HT-62感應片</text>
<line x1="207" y1="806.5" x2="207" y2="964.7" stroke="#5a5a5a" stroke-width="0.6"/>
<line x1="321.2" y1="806.5" x2="321.2" y2="902" stroke="#5a5a5a" stroke-width="0.6"/>
<line x1="264.8" y1="829" x2="264.8" y2="887.5" stroke="#5a5a5a" stroke-width="0.6"/>
<line x1="317.3" y1="849" x2="317.3" y2="887.5" stroke="#5a5a5a" stroke-width="0.6"/>
<line x1="282.9" y1="868" x2="282.9" y2="887.5" stroke="#5a5a5a" stroke-width="0.6"/>
<line x1="207" y1="810.6" x2="321.2" y2="810.6" stroke="#666" stroke-width="0.6"/>
<polygon points="207,810.6 211.5,809.5 211.5,811.7" fill="#444"/>
<polygon points="321.2,810.6 316.7,811.7 316.7,809.5" fill="#444"/>
<text x="262" y="807.9" font-size="10.5" text-anchor="middle">63</text>
<line x1="207" y1="833.2" x2="264.8" y2="833.2" stroke="#666" stroke-width="0.6"/>
<polygon points="207,833.2 211.5,832.1 211.5,834.3" fill="#444"/>
<polygon points="264.8,833.2 260.3,834.3 260.3,832.1" fill="#444"/>
<text x="234" y="829.9" font-size="10.5" text-anchor="middle">32</text>
<line x1="264.8" y1="833.2" x2="321.2" y2="833.2" stroke="#666" stroke-width="0.6"/>
<polygon points="264.8,833.2 269.3,832.1 269.3,834.3" fill="#444"/>
<polygon points="321.2,833.2 316.7,834.3 316.7,832.1" fill="#444"/>
<text x="277.2" y="829.9" font-size="10.5">31</text>
<text x="290.38" y="829.9" font-size="7">±0.05</text>
<line x1="264.8" y1="853.5" x2="317.3" y2="853.5" stroke="#666" stroke-width="0.6"/>
<polygon points="264.8,853.5 269.3,852.4 269.3,854.6" fill="#444"/>
<polygon points="317.3,853.5 312.8,854.6 312.8,852.4" fill="#444"/>
<text x="289.5" y="850.5" font-size="10.5" text-anchor="middle">29</text>
<line x1="264.8" y1="872.5" x2="282.9" y2="872.5" stroke="#666" stroke-width="0.6"/>
<polygon points="264.8,872.5 269.3,871.4 269.3,873.6" fill="#444"/>
<polygon points="282.9,872.5 278.4,873.6 278.4,871.4" fill="#444"/>
<text x="273.2" y="868.9" font-size="10.5" text-anchor="middle">10</text>
<rect x="206.8" y="964.7" width="58.3" height="75.9" fill="#cdd4ec" stroke="#1c1c1c" stroke-width="1.1"/>
<rect x="317.2" y="902.4" width="3.6" height="81.6" fill="#cdd4ec" stroke="#1c1c1c" stroke-width="0.9"/>
<rect x="283" y="994.3" width="14.3" height="26.7" fill="#cdd4ec" stroke="#1c1c1c" stroke-width="1.1"/>
<rect x="265.1" y="887.5" width="17.9" height="153.1" fill="#cdd4ec" stroke="#1c1c1c" stroke-width="1.1"/>
<rect x="283" y="887.5" width="33.9" height="112.6" fill="#cdd4ec" stroke="#1c1c1c" stroke-width="1.1"/>
<rect x="283" y="994.3" width="14.3" height="26.7" fill="#cdd4ec" stroke="#1c1c1c" stroke-width="1.1"/>
<line x1="265.1" y1="917.1" x2="346" y2="917.1" stroke="#666" stroke-width="0.6" stroke-dasharray="4 2"/>
<line x1="265.1" y1="969.4" x2="346" y2="969.4" stroke="#666" stroke-width="0.6" stroke-dasharray="4 2"/>
<line x1="262" y1="943.8" x2="330" y2="943.8" stroke="#666" stroke-width="0.5" stroke-dasharray="9 2 2 2"/>
<line x1="204.6" y1="1002.6" x2="290" y2="1002.6" stroke="#666" stroke-width="0.5" stroke-dasharray="9 2 2 2"/>
<path d="M206.8 975.7 H213.7 V1029.6 H206.8" fill="none" stroke="#666" stroke-width="0.5" stroke-dasharray="3 1.5"/>
<path d="M213.7 994.6 H241.2 M213.7 1010.4 H241.2" fill="none" stroke="#666" stroke-width="0.5" stroke-dasharray="3 1.5"/>
<rect x="241.2" y="994.1" width="14.3" height="16.5" fill="none" stroke="#666" stroke-width="0.5" stroke-dasharray="3 1.5"/>
<line x1="255.5" y1="941" x2="255.5" y2="1010.6" stroke="#666" stroke-width="0.5" stroke-dasharray="3 1.5"/>
<circle cx="221.3" cy="987.3" r="6.9" fill="#cdd4ec" stroke="#333" stroke-width="0.7"/>
<line x1="213.4" y1="987.3" x2="229.2" y2="987.3" stroke="#555" stroke-width="0.4"/>
<line x1="221.3" y1="979.4" x2="221.3" y2="995.2" stroke="#555" stroke-width="0.4"/>
<circle cx="221.3" cy="1017.7" r="6.9" fill="#cdd4ec" stroke="#333" stroke-width="0.7"/>
<line x1="213.4" y1="1017.7" x2="229.2" y2="1017.7" stroke="#555" stroke-width="0.4"/>
<line x1="221.3" y1="1009.8" x2="221.3" y2="1025.6" stroke="#555" stroke-width="0.4"/>
<line x1="255.5" y1="937" x2="255.5" y2="962" stroke="#5a5a5a" stroke-width="0.6"/>
<line x1="206.8" y1="941.6" x2="255.5" y2="941.6" stroke="#666" stroke-width="0.6"/>
<polygon points="206.8,941.6 211.3,940.5 211.3,942.7" fill="#444"/>
<polygon points="255.5,941.6 251,942.7 251,940.5" fill="#444"/>
<text x="229.4" y="938.3" font-size="10.5" text-anchor="middle">27</text>
<line x1="184" y1="957.5" x2="225.2" y2="957.5" stroke="#5a5a5a" stroke-width="0.6"/>
<line x1="213.7" y1="952.5" x2="213.7" y2="975" stroke="#5a5a5a" stroke-width="0.6"/>
<polygon points="206.8,957.5 202.3,958.6 202.3,956.4" fill="#444"/>
<polygon points="213.7,957.5 218.2,956.4 218.2,958.6" fill="#444"/>
<text x="192.2" y="953.7" font-size="10.5" text-anchor="middle">4</text>
<line x1="160.5" y1="975.7" x2="206.8" y2="975.7" stroke="#5a5a5a" stroke-width="0.6"/>
<line x1="160.5" y1="1029.6" x2="206.8" y2="1029.6" stroke="#5a5a5a" stroke-width="0.6"/>
<line x1="164.2" y1="975.7" x2="164.2" y2="1029.6" stroke="#666" stroke-width="0.6"/>
<polygon points="164.2,975.7 165.3,980.2 163.1,980.2" fill="#444"/>
<polygon points="164.2,1029.6 163.1,1025.1 165.3,1025.1" fill="#444"/>
<text x="162" y="1002.6" font-size="10.5" text-anchor="middle" transform="rotate(-90 162 1002.6)">Ø30</text>
<line x1="180.5" y1="995.2" x2="214" y2="995.2" stroke="#5a5a5a" stroke-width="0.6"/>
<line x1="180.5" y1="1010.3" x2="214" y2="1010.3" stroke="#5a5a5a" stroke-width="0.6"/>
<line x1="184" y1="984.7" x2="184" y2="1020.5" stroke="#5a5a5a" stroke-width="0.6"/>
<polygon points="184,995.2 182.9,990.7 185.1,990.7" fill="#444"/>
<polygon points="184,1010.3 185.1,1014.8 182.9,1014.8" fill="#444"/>
<text x="179.5" y="1001.2" font-size="10.5" text-anchor="middle" transform="rotate(-90 179.5 1001.2)">Ø8</text>
<line x1="320.5" y1="887.3" x2="378.8" y2="887.3" stroke="#5a5a5a" stroke-width="0.6"/>
<line x1="317" y1="999.8" x2="378.8" y2="999.8" stroke="#5a5a5a" stroke-width="0.6"/>
<line x1="321" y1="902.4" x2="362.3" y2="902.4" stroke="#5a5a5a" stroke-width="0.6"/>
<line x1="321" y1="983.6" x2="362.3" y2="983.6" stroke="#5a5a5a" stroke-width="0.6"/>
<line x1="346" y1="918.1" x2="346" y2="918.1" stroke="#5a5a5a" stroke-width="0.6"/>
<line x1="374.9" y1="887.3" x2="374.9" y2="999.8" stroke="#666" stroke-width="0.6"/>
<polygon points="374.9,887.3 376,891.8 373.8,891.8" fill="#444"/>
<polygon points="374.9,999.8 373.8,995.3 376,995.3" fill="#444"/>
<text x="372.4" y="944.2" font-size="10.5" text-anchor="middle" transform="rotate(-90 372.4 944.2)">Ø62</text>
<line x1="358.4" y1="902.4" x2="358.4" y2="983.6" stroke="#666" stroke-width="0.6"/>
<polygon points="358.4,902.4 359.5,906.9 357.3,906.9" fill="#444"/>
<polygon points="358.4,983.6 357.3,979.1 359.5,979.1" fill="#444"/>
<text x="355.9" y="944.2" font-size="10.5" text-anchor="middle" transform="rotate(-90 355.9 944.2)">Ø45</text>
<line x1="341.7" y1="917.1" x2="341.7" y2="969.4" stroke="#666" stroke-width="0.6"/>
<polygon points="341.7,917.1 342.8,921.6 340.6,921.6" fill="#444"/>
<polygon points="341.7,969.4 340.6,964.9 342.8,964.9" fill="#444"/>
<text x="339.3" y="944.2" font-size="10.5" text-anchor="middle" transform="rotate(-90 339.3 944.2)">Ø28</text>
<path d="M343.9 1079.9 H412.4 L416.4 1083.9 V1152.5 L412.4 1156.5 H343.9 L339.9 1152.5 V1083.9 Z" fill="#cdd4ec" stroke="#1c1c1c" stroke-width="1.1"/>
<circle cx="378.1" cy="1118.2" r="27.3" fill="none" stroke="#1c1c1c" stroke-width="1.1"/>
<circle cx="378.1" cy="1118.2" r="10" fill="none" stroke="#1c1c1c" stroke-width="1"/>
<circle cx="378.1" cy="1118.2" r="6" fill="#e4e8f6" stroke="#555" stroke-width="0.6"/>
<line x1="378.1" y1="1076" x2="378.1" y2="1160" stroke="#666" stroke-width="0.4" stroke-dasharray="9 2 2 2"/>
<line x1="336" y1="1118.2" x2="420" y2="1118.2" stroke="#666" stroke-width="0.4" stroke-dasharray="9 2 2 2"/>
<circle cx="348.2" cy="1088.9" r="2.7" fill="#e4e8f6" stroke="#333" stroke-width="0.7"/>
<line x1="344.96" y1="1092.14" x2="351.44" y2="1085.66" stroke="#333" stroke-width="0.5"/>
<circle cx="348.2" cy="1147.2" r="2.7" fill="#e4e8f6" stroke="#333" stroke-width="0.7"/>
<line x1="344.96" y1="1150.44" x2="351.44" y2="1143.96" stroke="#333" stroke-width="0.5"/>
<circle cx="408.1" cy="1088.9" r="2.7" fill="#e4e8f6" stroke="#333" stroke-width="0.7"/>
<line x1="404.86" y1="1092.14" x2="411.34" y2="1085.66" stroke="#333" stroke-width="0.5"/>
<circle cx="408.1" cy="1147.2" r="2.7" fill="#e4e8f6" stroke="#333" stroke-width="0.7"/>
<line x1="404.86" y1="1150.44" x2="411.34" y2="1143.96" stroke="#333" stroke-width="0.5"/>
<line x1="339.9" y1="1062" x2="339.9" y2="1079" stroke="#5a5a5a" stroke-width="0.6"/>
<line x1="416.4" y1="1062" x2="416.4" y2="1079" stroke="#5a5a5a" stroke-width="0.6"/>
<line x1="339.9" y1="1066.6" x2="416.4" y2="1066.6" stroke="#666" stroke-width="0.6"/>
<polygon points="339.9,1066.6 344.4,1065.5 344.4,1067.7" fill="#444"/>
<polygon points="416.4,1066.6 411.9,1067.7 411.9,1065.5" fill="#444"/>
<text x="376.5" y="1064" font-size="10.5" text-anchor="middle">42</text>
<line x1="417" y1="1079.9" x2="443" y2="1079.9" stroke="#5a5a5a" stroke-width="0.6"/>
<line x1="417" y1="1156.5" x2="443" y2="1156.5" stroke="#5a5a5a" stroke-width="0.6"/>
<line x1="439.7" y1="1079.9" x2="439.7" y2="1156.5" stroke="#666" stroke-width="0.6"/>
<polygon points="439.7,1079.9 440.8,1084.4 438.6,1084.4" fill="#444"/>
<polygon points="439.7,1156.5 438.6,1152 440.8,1152" fill="#444"/>
<text x="437.4" y="1119.9" font-size="10.5" text-anchor="middle" transform="rotate(-90 437.4 1119.9)">42</text>
<text x="241.7" y="1077.3" font-size="10" textLength="71.5" lengthAdjust="spacingAndGlyphs">(6)M4xP0.7x8L</text>
<polyline points="241.7,1085.6 335.9,1085.6 348.2,1147.2" fill="none" stroke="#5a5a5a" stroke-width="0.6"/>
<text x="256" y="1097.3" font-size="10" textLength="52.2" lengthAdjust="spacingAndGlyphs">P.C.D. Ø46</text>
<path d="M491.1 887.4 H595.2 L599.2 891.4 V993.8 Q599.2 999.1 594.2 999.1 H588.4 Q581.6 999.1 581.6 1005.9 V1036.2 Q581.6 1040.9 576.9 1040.9 H509.5 Q504.8 1040.9 504.8 1036.2 V1005.9 Q504.8 999.1 498 999.1 H492.1 Q487.1 999.1 487.1 993.8 V891.4 Z" fill="#cdd4ec" stroke="#1c1c1c" stroke-width="1.2"/>
<path d="M520.5 993.8 Q523.7 996 524.6 1003 A18.4 18.1 0 0 0 561.4 1003 Q562.3 996 565.6 993.8" fill="none" stroke="#1c1c1c" stroke-width="1.1"/>
<circle cx="543.1" cy="943.7" r="54.6" fill="none" stroke="#1c1c1c" stroke-width="1.2"/>
<circle cx="543.1" cy="943.7" r="51.3" fill="none" stroke="#444" stroke-width="0.6"/>
<circle cx="543.1" cy="943.7" r="42.3" fill="none" stroke="#1c1c1c" stroke-width="1.2"/>
<circle cx="543.1" cy="943.7" r="39.5" fill="none" stroke="#555" stroke-width="0.5"/>
<circle cx="543.1" cy="943.7" r="34.4" fill="none" stroke-dasharray="7 3" stroke="#555" stroke-width="0.5"/>
<circle cx="543.1" cy="943.7" r="25" fill="#fff" stroke="#1c1c1c" stroke-width="1.3"/>
<circle cx="543.1" cy="909.3" r="2.2" fill="#dfe3f3" stroke="#333" stroke-width="0.7"/>
<circle cx="572.89" cy="926.5" r="2.2" fill="#dfe3f3" stroke="#333" stroke-width="0.7"/>
<circle cx="572.89" cy="960.9" r="2.2" fill="#dfe3f3" stroke="#333" stroke-width="0.7"/>
<circle cx="543.1" cy="978.1" r="2.2" fill="#dfe3f3" stroke="#333" stroke-width="0.7"/>
<circle cx="513.31" cy="960.9" r="2.2" fill="#dfe3f3" stroke="#333" stroke-width="0.7"/>
<circle cx="513.31" cy="926.5" r="2.2" fill="#dfe3f3" stroke="#333" stroke-width="0.7"/>
<circle cx="508.5" cy="943.7" r="3.8" fill="#fff" stroke="#1c1c1c" stroke-width="0.7"/>
<path d="M508.5 943.7 L504.7 943.7 A3.8 3.8 0 0 1 508.5 939.9 Z M508.5 943.7 L512.3 943.7 A3.8 3.8 0 0 1 508.5 947.5 Z" fill="#111"/>
<circle cx="577.7" cy="943.7" r="3.8" fill="#fff" stroke="#1c1c1c" stroke-width="0.7"/>
<path d="M577.7 943.7 L573.9 943.7 A3.8 3.8 0 0 1 577.7 939.9 Z M577.7 943.7 L581.5 943.7 A3.8 3.8 0 0 1 577.7 947.5 Z" fill="#111"/>
<circle cx="560.7" cy="973" r="2.2" fill="#dfe3f3" stroke="#333" stroke-width="0.7"/>
<circle cx="497.5" cy="897.5" r="3.8" fill="#fff" stroke="#1c1c1c" stroke-width="0.7"/>
<path d="M497.5 897.5 L493.7 897.5 A3.8 3.8 0 0 1 497.5 893.7 Z M497.5 897.5 L501.3 897.5 A3.8 3.8 0 0 1 497.5 901.3 Z" fill="#111"/>
<circle cx="588.8" cy="988.8" r="3.8" fill="#fff" stroke="#1c1c1c" stroke-width="0.7"/>
<path d="M588.8 988.8 L585 988.8 A3.8 3.8 0 0 1 588.8 985 Z M588.8 988.8 L592.6 988.8 A3.8 3.8 0 0 1 588.8 992.6 Z" fill="#111"/>
<circle cx="588.8" cy="897.5" r="3.8" fill="#e4e8f6" stroke="#333" stroke-width="0.7"/>
<circle cx="497.6" cy="988.5" r="3.8" fill="#e4e8f6" stroke="#333" stroke-width="0.7"/>
<line x1="492.8" y1="988.5" x2="502.4" y2="988.5" stroke="#555" stroke-width="0.4"/>
<line x1="497.6" y1="983.7" x2="497.6" y2="993.3" stroke="#555" stroke-width="0.4"/>
<circle cx="551.1" cy="1037.5" r="2.2" fill="#dfe3f3" stroke="#333" stroke-width="0.7"/>
<circle cx="562.7" cy="1037.5" r="2.2" fill="#dfe3f3" stroke="#333" stroke-width="0.7"/>
<line x1="426.3" y1="943.7" x2="622" y2="943.7" stroke="#666" stroke-width="0.5" stroke-dasharray="9 2 2 2"/>
<line x1="543.1" y1="880" x2="543.1" y2="1046" stroke="#666" stroke-width="0.5" stroke-dasharray="9 2 2 2"/>
<line x1="487.2" y1="838.5" x2="487.2" y2="886" stroke="#5a5a5a" stroke-width="0.6"/>
<line x1="599.4" y1="838.5" x2="599.4" y2="886" stroke="#5a5a5a" stroke-width="0.6"/>
<line x1="487.2" y1="842.6" x2="599.4" y2="842.6" stroke="#666" stroke-width="0.6"/>
<polygon points="487.2,842.6 491.7,841.5 491.7,843.7" fill="#444"/>
<polygon points="599.4,842.6 594.9,843.7 594.9,841.5" fill="#444"/>
<text x="522.4" y="839.3" font-size="10.5">62</text>
<text x="536.58" y="839.3" font-size="8.2">±0.05</text>
<line x1="497.7" y1="866.5" x2="497.7" y2="893" stroke="#5a5a5a" stroke-width="0.6"/>
<line x1="588.2" y1="866.5" x2="588.2" y2="893" stroke="#5a5a5a" stroke-width="0.6"/>
<line x1="497.7" y1="870.9" x2="588.2" y2="870.9" stroke="#666" stroke-width="0.6"/>
<polygon points="497.7,870.9 502.2,869.8 502.2,872" fill="#444"/>
<polygon points="588.2,870.9 583.7,872 583.7,869.8" fill="#444"/>
<text x="522.5" y="867.9" font-size="10.5">50</text>
<text x="536.68" y="867.9" font-size="8.2">±0.05</text>
<text x="391" y="870.1" font-size="10.2" textLength="26.1" lengthAdjust="spacingAndGlyphs">(2)Ø5</text>
<text x="439.1" y="870.1" font-size="10.2" textLength="15.7" lengthAdjust="spacingAndGlyphs">PIN</text>
<text x="419.9" y="865.6" font-size="5" textLength="16.5" lengthAdjust="spacingAndGlyphs">+0.012</text>
<text x="419.9" y="870.3" font-size="5">+0</text>
<polyline points="392.4,878.4 468.5,878.4 494.9,894.9" fill="none" stroke="#5a5a5a" stroke-width="0.6"/>
<text x="391" y="908.1" font-size="10.2" textLength="26.1" lengthAdjust="spacingAndGlyphs">(2)Ø5</text>
<text x="439.1" y="908.1" font-size="10.2" textLength="15.7" lengthAdjust="spacingAndGlyphs">PIN</text>
<text x="419.9" y="903.6" font-size="5" textLength="16.5" lengthAdjust="spacingAndGlyphs">+0.012</text>
<text x="419.9" y="908.3" font-size="5">+0</text>
<polyline points="392.4,916 472.1,916 506,941.5" fill="none" stroke="#5a5a5a" stroke-width="0.6"/>
<text x="395.7" y="927" font-size="10.2" textLength="51.7" lengthAdjust="spacingAndGlyphs">P.C.D. Ø38</text>
<line x1="426.3" y1="1002.3" x2="540" y2="1002.3" stroke="#5a5a5a" stroke-width="0.6"/>
<line x1="430.8" y1="943.6" x2="430.8" y2="1002.3" stroke="#666" stroke-width="0.6"/>
<polygon points="430.8,943.6 431.9,948.1 429.7,948.1" fill="#444"/>
<polygon points="430.8,1002.3 429.7,997.8 431.9,997.8" fill="#444"/>
<text x="428.4" y="973" font-size="10.5" text-anchor="middle" transform="rotate(-90 428.4 973)">33.85</text>
<line x1="457.7" y1="988.5" x2="495" y2="988.5" stroke="#5a5a5a" stroke-width="0.6"/>
<line x1="461.8" y1="943.6" x2="461.8" y2="988.5" stroke="#666" stroke-width="0.6"/>
<polygon points="461.8,943.6 462.9,948.1 460.7,948.1" fill="#444"/>
<polygon points="461.8,988.5 460.7,984 462.9,984" fill="#444"/>
<g transform="translate(459.3 984) rotate(-90)">
<text x="0" y="0" font-size="10.5">25</text>
<text x="13.18" y="0" font-size="7">±0.05</text>
</g>
<text x="621.4" y="839.4" font-size="10.2" textLength="35.8" lengthAdjust="spacingAndGlyphs">(4)Ø4.5</text>
<polyline points="659.6,846.3 612.8,846.3 590.1,896.1" fill="none" stroke="#5a5a5a" stroke-width="0.6"/>
<text x="626" y="863" font-size="10.2" textLength="71" lengthAdjust="spacingAndGlyphs">(6)M3xP0.5x6L</text>
<polyline points="707.5,869.5 619,869.5 573.9,926.2" fill="none" stroke="#5a5a5a" stroke-width="0.6"/>
<text x="630.2" y="880.6" font-size="10.2" textLength="51.8" lengthAdjust="spacingAndGlyphs">P.C.D. Ø38</text>
<line x1="599.4" y1="888" x2="705.9" y2="888" stroke="#5a5a5a" stroke-width="0.6"/>
<line x1="594.7" y1="898.4" x2="644.5" y2="898.4" stroke="#5a5a5a" stroke-width="0.6"/>
<line x1="599.2" y1="988.5" x2="644.8" y2="988.5" stroke="#5a5a5a" stroke-width="0.6"/>
<line x1="597.2" y1="999.7" x2="674.8" y2="999.7" stroke="#5a5a5a" stroke-width="0.6"/>
<line x1="565" y1="1037.4" x2="621.5" y2="1037.4" stroke="#5a5a5a" stroke-width="0.6"/>
<line x1="581.4" y1="1040.4" x2="706" y2="1040.4" stroke="#5a5a5a" stroke-width="0.6"/>
<line x1="617.9" y1="943.6" x2="617.9" y2="1037.4" stroke="#666" stroke-width="0.6"/>
<polygon points="617.9,943.6 619,948.1 616.8,948.1" fill="#444"/>
<polygon points="617.9,1037.4 616.8,1032.9 619,1032.9" fill="#444"/>
<text x="615.6" y="971.3" font-size="10.5" text-anchor="middle" transform="rotate(-90 615.6 971.3)">51.85</text>
<line x1="640.8" y1="898.4" x2="640.8" y2="988.5" stroke="#666" stroke-width="0.6"/>
<polygon points="640.8,898.4 641.9,902.9 639.7,902.9" fill="#444"/>
<polygon points="640.8,988.5 639.7,984 641.9,984" fill="#444"/>
<g transform="translate(638.7 962) rotate(-90)">
<text x="0" y="0" font-size="10.5">50</text>
<text x="14.18" y="0" font-size="8.2">±0.05</text>
</g>
<line x1="671.2" y1="888" x2="671.2" y2="999.7" stroke="#666" stroke-width="0.6"/>
<polygon points="671.2,888 672.3,892.5 670.1,892.5" fill="#444"/>
<polygon points="671.2,999.7 670.1,995.2 672.3,995.2" fill="#444"/>
<g transform="translate(668.4 962) rotate(-90)">
<text x="0" y="0" font-size="10.5">62</text>
<text x="14.18" y="0" font-size="8.2">±0.05</text>
</g>
<line x1="701.6" y1="888" x2="701.6" y2="1040.4" stroke="#666" stroke-width="0.6"/>
<polygon points="701.6,888 702.7,892.5 700.5,892.5" fill="#444"/>
<polygon points="701.6,1040.4 700.5,1035.9 702.7,1035.9" fill="#444"/>
<text x="699.4" y="967.9" font-size="10.5" text-anchor="middle" transform="rotate(-90 699.4 967.9)">85.85</text>
<text x="591" y="1014.2" font-size="7.3" textLength="45.3" lengthAdjust="spacingAndGlyphs">M3xP0.5x6L</text>
<polyline points="637.7,1016.4 581.4,1016.4 561,973.5" fill="none" stroke="#5a5a5a" stroke-width="0.5"/>
<text x="592.9" y="1023.2" font-size="7.3" textLength="41.2" lengthAdjust="spacingAndGlyphs">P.C.D.  Ø34</text>
<text x="596.5" y="1074.9" font-size="7.6" textLength="50.3" lengthAdjust="spacingAndGlyphs">2-M3xP0.5x4L</text>
<polyline points="655.6,1077.4 590.2,1077.4 563.5,1038.3" fill="none" stroke="#5a5a5a" stroke-width="0.5"/>
<polygon points="563.3,1038 566.58,1040.59 564.61,1041.96" fill="#222"/>
<polygon points="561,973.3 563.89,976.32 561.75,977.41" fill="#222"/>
<line x1="543.1" y1="1042" x2="543.1" y2="1072" stroke="#5a5a5a" stroke-width="0.6"/>
<line x1="551.1" y1="1042" x2="551.1" y2="1056" stroke="#5a5a5a" stroke-width="0.6"/>
<line x1="562.7" y1="1042" x2="562.7" y2="1072" stroke="#5a5a5a" stroke-width="0.6"/>
<line x1="551.1" y1="1052.9" x2="562.7" y2="1052.9" stroke="#666" stroke-width="0.6"/>
<polygon points="551.1,1052.9 554.6,1051.8 554.6,1054" fill="#444"/>
<polygon points="562.7,1052.9 559.2,1054 559.2,1051.8" fill="#444"/>
<text x="556.5" y="1050.7" font-size="8.2" text-anchor="middle">6</text>
<line x1="543.1" y1="1068.6" x2="562.7" y2="1068.6" stroke="#666" stroke-width="0.6"/>
<polygon points="543.1,1068.6 546.6,1067.5 546.6,1069.7" fill="#444"/>
<polygon points="562.7,1068.6 559.2,1069.7 559.2,1067.5" fill="#444"/>
<text x="553" y="1066" font-size="8.2" text-anchor="middle">10.5</text>
<line x1="504.8" y1="1043" x2="504.8" y2="1097" stroke="#5a5a5a" stroke-width="0.6"/>
<line x1="581.6" y1="1043" x2="581.6" y2="1097" stroke="#5a5a5a" stroke-width="0.6"/>
<line x1="504.8" y1="1093.4" x2="581.6" y2="1093.4" stroke="#666" stroke-width="0.6"/>
<polygon points="504.8,1093.4 509.3,1092.3 509.3,1094.5" fill="#444"/>
<polygon points="581.6,1093.4 577.1,1094.5 577.1,1092.3" fill="#444"/>
<text x="541.5" y="1090" font-size="10.5" text-anchor="middle">42</text>
</g>
<g id="ht85">
<text x="7.3" y="1252.5" font-size="21.5" textLength="69.9" lengthAdjust="spacingAndGlyphs" fill="#111">HT-85</text>
<rect x="6.6" y="1255.6" width="71.2" height="7.6" fill="#6b7fc6"/>
<line x1="84.7" y1="1259.5" x2="696" y2="1259.5" stroke="#8a8a8a" stroke-width="1"/>
<rect x="2.2" y="1368.7" width="135.6" height="134.6" fill="#fff" rx="7" stroke="#939393" stroke-width="1.2"/>
<path d="M74.89 1399.07 H85.09 V1401.24 H91.17 V1415.35 H74.89 Z" fill="#cdd4ec" stroke="#7f86ad" stroke-width="0.6"/>
<circle cx="78.14" cy="1403.41" r="1.3" fill="#fff" stroke="#333" stroke-width="0.6"/>
<circle cx="78.14" cy="1411.44" r="1.3" fill="#fff" stroke="#333" stroke-width="0.6"/>
<g transform="rotate(-12.5 17.36 1413.4)">
<text x="17.36" y="1413.4" font-size="7.8" textLength="40" lengthAdjust="spacingAndGlyphs">2-M3xP0.5</text>
</g>
<line x1="17.36" y1="1417.09" x2="77.71" y2="1403.85" stroke="#444" stroke-width="0.6"/>
<line x1="70.54" y1="1385.61" x2="70.54" y2="1419.04" stroke="#5a5a5a" stroke-width="0.5"/>
<polygon points="70.54,1403.41 69.44,1400.41 71.64,1400.41" fill="#444"/>
<polygon points="70.54,1411.44 71.64,1414.44 69.44,1414.44" fill="#444"/>
<line x1="68.37" y1="1403.41" x2="74.89" y2="1403.41" stroke="#5a5a5a" stroke-width="0.5"/>
<line x1="68.37" y1="1411.44" x2="74.89" y2="1411.44" stroke="#5a5a5a" stroke-width="0.5"/>
<text x="69.46" y="1389.3" font-size="7.8" text-anchor="middle" transform="rotate(-90 69.46 1389.3)">7</text>
<line x1="98.11" y1="1372.59" x2="98.11" y2="1416" stroke="#5a5a5a" stroke-width="0.5"/>
<polygon points="98.11,1399.07 97.01,1396.07 99.21,1396.07" fill="#444"/>
<polygon points="98.11,1415.35 99.21,1418.35 97.01,1418.35" fill="#444"/>
<line x1="92.25" y1="1399.07" x2="100.28" y2="1399.07" stroke="#5a5a5a" stroke-width="0.5"/>
<line x1="92.25" y1="1415.35" x2="100.28" y2="1415.35" stroke="#5a5a5a" stroke-width="0.5"/>
<text x="95.51" y="1384.96" font-size="7.8" text-anchor="middle" transform="rotate(-90 95.51 1384.96)">14.5</text>
<text x="103.76" y="1416.87" font-size="7.8" text-anchor="middle">7</text>
<line x1="73.8" y1="1420.34" x2="108.53" y2="1420.34" stroke="#5a5a5a" stroke-width="0.5"/>
<line x1="82.48" y1="1418.17" x2="82.48" y2="1426.85" stroke="#5a5a5a" stroke-width="0.5"/>
<line x1="91.17" y1="1418.17" x2="91.17" y2="1426.85" stroke="#5a5a5a" stroke-width="0.5"/>
<polygon points="82.48,1420.34 79.48,1421.44 79.48,1419.24" fill="#444"/>
<polygon points="91.17,1420.34 94.17,1419.24 94.17,1421.44" fill="#444"/>
<path d="M40.16 1427.29 H42.33 V1442.48 H56.87 V1444.65 H40.16 Z" fill="#cdd4ec" stroke="#7f86ad" stroke-width="0.6"/>
<line x1="31.47" y1="1424.68" x2="66.2" y2="1424.68" stroke="#5a5a5a" stroke-width="0.5"/>
<polygon points="40.16,1424.68 37.16,1425.78 37.16,1423.58" fill="#444"/>
<polygon points="42.33,1424.68 45.33,1423.58 45.33,1425.78" fill="#444"/>
<text x="58.17" y="1422.95" font-size="7.8" text-anchor="middle">1.5</text>
<line x1="26.05" y1="1427.29" x2="39.51" y2="1427.29" stroke="#5a5a5a" stroke-width="0.5"/>
<line x1="26.05" y1="1444.65" x2="39.51" y2="1444.65" stroke="#5a5a5a" stroke-width="0.5"/>
<line x1="29.3" y1="1427.29" x2="29.3" y2="1444.65" stroke="#666" stroke-width="0.5"/>
<polygon points="29.3,1427.29 30.4,1430.29 28.2,1430.29" fill="#444"/>
<polygon points="29.3,1444.65 28.2,1441.65 30.4,1441.65" fill="#444"/>
<text x="26.48" y="1436.41" font-size="7.8" text-anchor="middle" transform="rotate(-90 26.48 1436.41)">15</text>
<g transform="rotate(-16 53.18 1437.71)">
<text x="53.18" y="1437.71" font-size="7.8" textLength="18" lengthAdjust="spacingAndGlyphs">R1.5</text>
</g>
<line x1="54.27" y1="1443.57" x2="85.09" y2="1430.11" stroke="#444" stroke-width="0.6"/>
<circle cx="44.5" cy="1443.57" r="0.8" fill="#fff" stroke="#444" stroke-width="0.4"/>
<circle cx="48.19" cy="1443.57" r="0.8" fill="#fff" stroke="#444" stroke-width="0.4"/>
<circle cx="53.18" cy="1443.57" r="0.8" fill="#fff" stroke="#444" stroke-width="0.4"/>
<line x1="43.41" y1="1443.57" x2="56.87" y2="1443.57" stroke="#666" stroke-width="0.4"/>
<rect x="82.48" y="1427.29" width="8.68" height="17.36" fill="#cdd4ec" stroke="#7f86ad" stroke-width="0.6"/>
<circle cx="86.82" cy="1430.54" r="1.7" fill="#fff" stroke="#333" stroke-width="0.6"/>
<circle cx="86.82" cy="1430.54" r="0.8" fill="none" stroke="#333" stroke-width="0.4"/>
<circle cx="86.82" cy="1437.06" r="1.7" fill="#fff" stroke="#333" stroke-width="0.6"/>
<circle cx="86.82" cy="1437.06" r="0.8" fill="none" stroke="#333" stroke-width="0.4"/>
<line x1="100.93" y1="1420.78" x2="100.93" y2="1447.26" stroke="#5a5a5a" stroke-width="0.5"/>
<polygon points="100.93,1430.54 99.83,1427.54 102.03,1427.54" fill="#444"/>
<polygon points="100.93,1437.06 102.03,1440.06 99.83,1440.06" fill="#444"/>
<line x1="89" y1="1430.54" x2="103.76" y2="1430.54" stroke="#5a5a5a" stroke-width="0.5"/>
<line x1="89" y1="1437.06" x2="103.76" y2="1437.06" stroke="#5a5a5a" stroke-width="0.5"/>
<text x="98.98" y="1434.89" font-size="7.8" text-anchor="middle" transform="rotate(-90 98.98 1434.89)">6</text>
<line x1="74.89" y1="1443.57" x2="82.48" y2="1443.57" stroke="#666" stroke-width="0.4"/>
<line x1="40.59" y1="1445.74" x2="40.59" y2="1478.3" stroke="#5a5a5a" stroke-width="0.5"/>
<line x1="57.52" y1="1445.74" x2="57.52" y2="1478.3" stroke="#5a5a5a" stroke-width="0.5"/>
<line x1="40.59" y1="1475.04" x2="57.52" y2="1475.04" stroke="#666" stroke-width="0.5"/>
<polygon points="40.59,1475.04 43.59,1473.94 43.59,1476.14" fill="#444"/>
<polygon points="57.52,1475.04 54.52,1476.14 54.52,1473.94" fill="#444"/>
<text x="49.06" y="1472.87" font-size="7.8" text-anchor="middle">14.5</text>
<line x1="74.89" y1="1445.74" x2="74.89" y2="1478.3" stroke="#5a5a5a" stroke-width="0.5"/>
<line x1="91.17" y1="1445.74" x2="91.17" y2="1478.3" stroke="#5a5a5a" stroke-width="0.5"/>
<line x1="74.89" y1="1475.04" x2="117.21" y2="1475.04" stroke="#5a5a5a" stroke-width="0.5"/>
<polygon points="74.89,1475.04 77.89,1473.94 77.89,1476.14" fill="#444"/>
<polygon points="91.17,1475.04 88.17,1476.14 88.17,1473.94" fill="#444"/>
<text x="103.76" y="1472.87" font-size="7.8" text-anchor="middle">13.5</text>
<text x="66.2" y="1494.1" font-size="9.6" text-anchor="middle" textLength="84.6" lengthAdjust="spacingAndGlyphs" fill="#333">HT85感應器固定座</text>
<rect x="2.2" y="1536.5" width="134.6" height="137.2" fill="#fff" rx="7" stroke="#939393" stroke-width="1.2"/>
<rect x="71.63" y="1584.27" width="26.05" height="7.16" fill="#cdd4ec" rx="1.8" stroke="#7f86ad" stroke-width="0.6"/>
<circle cx="76.41" cy="1587.96" r="1.6" fill="#fff" stroke="#333" stroke-width="0.6"/>
<circle cx="92.9" cy="1587.96" r="1.6" fill="#fff" stroke="#333" stroke-width="0.6"/>
<line x1="71.63" y1="1561.47" x2="71.63" y2="1583.83" stroke="#5a5a5a" stroke-width="0.5"/>
<line x1="97.68" y1="1561.47" x2="97.68" y2="1583.83" stroke="#5a5a5a" stroke-width="0.5"/>
<line x1="71.63" y1="1564.3" x2="97.68" y2="1564.3" stroke="#666" stroke-width="0.5"/>
<polygon points="71.63,1564.3 74.63,1563.2 74.63,1565.4" fill="#444"/>
<polygon points="97.68,1564.3 94.68,1565.4 94.68,1563.2" fill="#444"/>
<text x="84.65" y="1562.13" font-size="7.8" text-anchor="middle">23</text>
<line x1="76.41" y1="1572.98" x2="76.41" y2="1586.87" stroke="#5a5a5a" stroke-width="0.5"/>
<line x1="92.9" y1="1572.98" x2="92.9" y2="1586.87" stroke="#5a5a5a" stroke-width="0.5"/>
<line x1="76.41" y1="1575.58" x2="92.9" y2="1575.58" stroke="#666" stroke-width="0.5"/>
<polygon points="76.41,1575.58 79.41,1574.48 79.41,1576.68" fill="#444"/>
<polygon points="92.9,1575.58 89.9,1576.68 89.9,1574.48" fill="#444"/>
<text x="84.65" y="1573.41" font-size="7.8" text-anchor="middle">14</text>
<line x1="111.14" y1="1557.78" x2="111.14" y2="1595.12" stroke="#5a5a5a" stroke-width="0.5"/>
<polygon points="111.14,1584.27 110.04,1581.27 112.24,1581.27" fill="#444"/>
<polygon points="111.14,1587.96 112.24,1590.96 110.04,1590.96" fill="#444"/>
<text x="108.53" y="1567.99" font-size="7.8" text-anchor="middle" transform="rotate(-90 108.53 1567.99)">2.6</text>
<line x1="124.16" y1="1574.5" x2="124.16" y2="1595.12" stroke="#5a5a5a" stroke-width="0.5"/>
<polygon points="124.16,1584.27 123.06,1581.27 125.26,1581.27" fill="#444"/>
<polygon points="124.16,1591.43 125.26,1594.43 123.06,1594.43" fill="#444"/>
<text x="121.55" y="1610.75" font-size="7.8" text-anchor="middle" transform="rotate(-90 121.55 1610.75)">6.5</text>
<line x1="98.76" y1="1584.27" x2="126.33" y2="1584.27" stroke="#5a5a5a" stroke-width="0.5"/>
<line x1="98.76" y1="1587.96" x2="126.33" y2="1587.96" stroke="#5a5a5a" stroke-width="0.5"/>
<line x1="98.76" y1="1591.43" x2="126.33" y2="1591.43" stroke="#5a5a5a" stroke-width="0.5"/>
<line x1="71.63" y1="1600.11" x2="97.68" y2="1600.11" stroke="#555" stroke-width="0.8"/>
<line x1="74.89" y1="1598.59" x2="74.89" y2="1601.63" stroke="#666" stroke-width="0.4"/>
<line x1="94.42" y1="1598.59" x2="94.42" y2="1601.63" stroke="#666" stroke-width="0.4"/>
<rect x="82.05" y="1600.11" width="5.21" height="15.63" fill="#cdd4ec" stroke="#7f86ad" stroke-width="0.6"/>
<line x1="82.05" y1="1616.82" x2="82.05" y2="1629.41" stroke="#5a5a5a" stroke-width="0.5"/>
<line x1="87.26" y1="1616.82" x2="87.26" y2="1629.41" stroke="#5a5a5a" stroke-width="0.5"/>
<line x1="72.72" y1="1627.24" x2="104.19" y2="1627.24" stroke="#5a5a5a" stroke-width="0.5"/>
<polygon points="82.05,1627.24 79.05,1628.34 79.05,1626.14" fill="#444"/>
<polygon points="87.26,1627.24 90.26,1626.14 90.26,1628.34" fill="#444"/>
<text x="100.28" y="1625.51" font-size="7.8" text-anchor="middle">5</text>
<path d="M31.47 1599.03 H39.07 V1615.74 H37.33 V1600.54 H31.47 Z" fill="#cdd4ec" stroke="#7f86ad" stroke-width="0.6"/>
<line x1="31.47" y1="1574.5" x2="31.47" y2="1598.37" stroke="#5a5a5a" stroke-width="0.5"/>
<line x1="39.07" y1="1574.5" x2="39.07" y2="1598.37" stroke="#5a5a5a" stroke-width="0.5"/>
<line x1="33.64" y1="1586.87" x2="33.64" y2="1598.37" stroke="#5a5a5a" stroke-width="0.5"/>
<line x1="21.71" y1="1576.67" x2="64.03" y2="1576.67" stroke="#5a5a5a" stroke-width="0.5"/>
<polygon points="31.47,1576.67 28.47,1577.77 28.47,1575.57" fill="#444"/>
<polygon points="39.07,1576.67 42.07,1575.57 42.07,1577.77" fill="#444"/>
<text x="54.27" y="1574.71" font-size="7.8" text-anchor="middle">6.5</text>
<line x1="24.96" y1="1589.04" x2="64.03" y2="1589.04" stroke="#5a5a5a" stroke-width="0.5"/>
<polygon points="33.64,1589.04 30.64,1590.14 30.64,1587.94" fill="#444"/>
<polygon points="39.07,1589.04 42.07,1587.94 42.07,1590.14" fill="#444"/>
<text x="54.27" y="1587.09" font-size="7.8" text-anchor="middle">3.9</text>
<line x1="22.79" y1="1592.95" x2="22.79" y2="1608.58" stroke="#5a5a5a" stroke-width="0.5"/>
<polygon points="22.79,1599.03 21.69,1596.03 23.89,1596.03" fill="#444"/>
<polygon points="22.79,1600.76 23.89,1603.76 21.69,1603.76" fill="#444"/>
<line x1="20.62" y1="1599.46" x2="30.39" y2="1599.46" stroke="#5a5a5a" stroke-width="0.5"/>
<text x="19.97" y="1587.52" font-size="7.8" text-anchor="middle" transform="rotate(-90 19.97 1587.52)">1</text>
<line x1="11.94" y1="1599.46" x2="19.97" y2="1599.46" stroke="#5a5a5a" stroke-width="0.5"/>
<line x1="11.94" y1="1615.74" x2="36.47" y2="1615.74" stroke="#5a5a5a" stroke-width="0.5"/>
<line x1="14.76" y1="1599.46" x2="14.76" y2="1615.74" stroke="#666" stroke-width="0.5"/>
<polygon points="14.76,1599.46 15.86,1602.46 13.66,1602.46" fill="#444"/>
<polygon points="14.76,1615.74 13.66,1612.74 15.86,1612.74" fill="#444"/>
<text x="11.94" y="1608.14" font-size="7.8" text-anchor="middle" transform="rotate(-90 11.94 1608.14)">14.5</text>
<line x1="44.5" y1="1619" x2="85.74" y2="1578.19" stroke="#444" stroke-width="0.6"/>
<text x="51.66" y="1608.58" font-size="7.8" text-anchor="middle" transform="rotate(-45 51.66 1608.58)">2-ø3.5</text>
<text x="66.2" y="1661.3" font-size="9.6" text-anchor="middle" textLength="55.2" lengthAdjust="spacingAndGlyphs" fill="#333">HT-85感應片</text>
<line x1="204.3" y1="1328.5" x2="204.3" y2="1506.6" stroke="#5a5a5a" stroke-width="0.6"/>
<line x1="317" y1="1328.5" x2="317" y2="1429.6" stroke="#5a5a5a" stroke-width="0.6"/>
<line x1="263.7" y1="1358.5" x2="263.7" y2="1418.5" stroke="#5a5a5a" stroke-width="0.6"/>
<line x1="297.2" y1="1380.5" x2="297.2" y2="1418.5" stroke="#5a5a5a" stroke-width="0.6"/>
<line x1="302.7" y1="1380.5" x2="302.7" y2="1429.5" stroke="#5a5a5a" stroke-width="0.6"/>
<line x1="279.4" y1="1395" x2="279.4" y2="1418.5" stroke="#5a5a5a" stroke-width="0.6"/>
<line x1="204.3" y1="1332.8" x2="317" y2="1332.8" stroke="#666" stroke-width="0.6"/>
<polygon points="204.3,1332.8 208.8,1331.7 208.8,1333.9" fill="#444"/>
<polygon points="317,1332.8 312.5,1333.9 312.5,1331.7" fill="#444"/>
<text x="256.8" y="1330.6" font-size="10.6" text-anchor="middle">75.5</text>
<line x1="204.3" y1="1363.1" x2="263.7" y2="1363.1" stroke="#666" stroke-width="0.6"/>
<polygon points="204.3,1363.1 208.8,1362 208.8,1364.2" fill="#444"/>
<polygon points="263.7,1363.1 259.2,1364.2 259.2,1362" fill="#444"/>
<text x="233.4" y="1360.3" font-size="10.6" text-anchor="middle">40</text>
<line x1="263.7" y1="1363.1" x2="317" y2="1363.1" stroke="#666" stroke-width="0.6"/>
<polygon points="263.7,1363.1 268.2,1362 268.2,1364.2" fill="#444"/>
<polygon points="317,1363.1 312.5,1364.2 312.5,1362" fill="#444"/>
<text x="269.7" y="1360.3" font-size="10.6">35.5</text>
<text x="292.33" y="1360.3" font-size="8.6">± 0.1</text>
<line x1="263.7" y1="1384.8" x2="297.2" y2="1384.8" stroke="#666" stroke-width="0.6"/>
<polygon points="263.7,1384.8 268.2,1383.7 268.2,1385.9" fill="#444"/>
<polygon points="297.2,1384.8 292.7,1385.9 292.7,1383.7" fill="#444"/>
<text x="280" y="1382" font-size="10.6" text-anchor="middle">22.5</text>
<line x1="302.7" y1="1384.8" x2="317" y2="1384.8" stroke="#666" stroke-width="0.6"/>
<polygon points="302.7,1384.8 306.7,1383.7 306.7,1385.9" fill="#444"/>
<polygon points="317,1384.8 313,1385.9 313,1383.7" fill="#444"/>
<text x="309.5" y="1382" font-size="10.6" text-anchor="middle">10</text>
<line x1="235.4" y1="1399.4" x2="279.4" y2="1399.4" stroke="#5a5a5a" stroke-width="0.6"/>
<polygon points="263.7,1399.4 268.2,1398.3 268.2,1400.5" fill="#444"/>
<polygon points="279.4,1399.4 274.9,1400.5 274.9,1398.3" fill="#444"/>
<text x="247" y="1396.6" font-size="10.6" text-anchor="middle">10.5</text>
<line x1="304.1" y1="1422.7" x2="334.3" y2="1422.7" stroke="#5a5a5a" stroke-width="0.6"/>
<line x1="312.4" y1="1418" x2="312.4" y2="1442" stroke="#5a5a5a" stroke-width="0.6"/>
<polygon points="312.4,1422.7 308.4,1423.8 308.4,1421.6" fill="#444"/>
<polygon points="317,1422.7 321,1421.6 321,1423.8" fill="#444"/>
<text x="328.8" y="1420" font-size="10.6" text-anchor="middle">3</text>
<rect x="204.2" y="1506.6" width="59.5" height="89.9" fill="#cdd4ec" stroke="#1c1c1c" stroke-width="1.1"/>
<rect x="297.4" y="1429.7" width="19.9" height="104.6" fill="#cdd4ec" stroke="#1c1c1c" stroke-width="1.1"/>
<rect x="279.8" y="1418.5" width="17.6" height="155.2" fill="#cdd4ec" stroke="#1c1c1c" stroke-width="1.1"/>
<rect x="263.7" y="1418.5" width="16.1" height="178" fill="#cdd4ec" stroke="#1c1c1c" stroke-width="1.1"/>
<line x1="263.7" y1="1457.2" x2="359" y2="1457.2" stroke="#666" stroke-width="0.6" stroke-dasharray="4 2"/>
<line x1="263.7" y1="1505.9" x2="359" y2="1505.9" stroke="#666" stroke-width="0.6" stroke-dasharray="4 2"/>
<line x1="260" y1="1481.7" x2="325" y2="1481.7" stroke="#666" stroke-width="0.5" stroke-dasharray="9 2 2 2"/>
<path d="M317.3 1443.2 H312.5 V1521 H317.3" fill="none" stroke="#555" stroke-width="0.6" stroke-dasharray="4 2"/>
<line x1="200.9" y1="1551.7" x2="299.8" y2="1551.7" stroke="#666" stroke-width="0.5" stroke-dasharray="9 2 2 2"/>
<path d="M204.2 1514.5 H213.2 V1588.8 H204.2" fill="none" stroke="#666" stroke-width="0.5" stroke-dasharray="3 1.5"/>
<rect x="213.2" y="1541.5" width="41.3" height="20.1" fill="none" stroke="#666" stroke-width="0.5" stroke-dasharray="3 1.5"/>
<line x1="254.5" y1="1472" x2="254.5" y2="1541.5" stroke="#5a5a5a" stroke-width="0.6"/>
<circle cx="219.6" cy="1533.2" r="7" fill="#cdd4ec" stroke="#333" stroke-width="0.7"/>
<line x1="211.6" y1="1533.2" x2="227.6" y2="1533.2" stroke="#555" stroke-width="0.4"/>
<line x1="219.6" y1="1525.2" x2="219.6" y2="1541.2" stroke="#555" stroke-width="0.4"/>
<circle cx="219.6" cy="1569.5" r="7" fill="#cdd4ec" stroke="#333" stroke-width="0.7"/>
<line x1="211.6" y1="1569.5" x2="227.6" y2="1569.5" stroke="#555" stroke-width="0.4"/>
<line x1="219.6" y1="1561.5" x2="219.6" y2="1577.5" stroke="#555" stroke-width="0.4"/>
<path d="M302.9 1468 l1.6 1.6 l-1.6 1.6 l-1.6 -1.6 Z" fill="#444" stroke="#333" stroke-width="0.5"/>
<path d="M302.9 1493.3 l1.6 1.6 l-1.6 1.6 l-1.6 -1.6 Z" fill="#444" stroke="#333" stroke-width="0.5"/>
<text x="207.9" y="1410.4" font-size="6.4" textLength="50.8" lengthAdjust="spacingAndGlyphs">2-M2.5xP0.45x4L</text>
<polyline points="207.9,1412.3 260.1,1412.3 302.5,1469" fill="none" stroke="#333" stroke-width="0.5"/>
<line x1="204.2" y1="1475.5" x2="254.5" y2="1475.5" stroke="#666" stroke-width="0.6"/>
<polygon points="204.2,1475.5 208.7,1474.4 208.7,1476.6" fill="#444"/>
<polygon points="254.5,1475.5 250,1476.6 250,1474.4" fill="#444"/>
<text x="229.4" y="1472.5" font-size="10.6" text-anchor="middle">33.5</text>
<line x1="195.4" y1="1494.2" x2="246.2" y2="1494.2" stroke="#5a5a5a" stroke-width="0.6"/>
<line x1="213.2" y1="1489.5" x2="213.2" y2="1513" stroke="#5a5a5a" stroke-width="0.6"/>
<polygon points="204.2,1494.2 199.7,1495.3 199.7,1493.1" fill="#444"/>
<polygon points="213.2,1494.2 217.7,1493.1 217.7,1495.3" fill="#444"/>
<text x="230.6" y="1491.4" font-size="10.6" text-anchor="middle">5.5</text>
<line x1="167.5" y1="1514.5" x2="204" y2="1514.5" stroke="#5a5a5a" stroke-width="0.6"/>
<line x1="167.5" y1="1588.8" x2="204" y2="1588.8" stroke="#5a5a5a" stroke-width="0.6"/>
<line x1="170.6" y1="1514.5" x2="170.6" y2="1588.8" stroke="#666" stroke-width="0.6"/>
<polygon points="170.6,1514.5 171.7,1519 169.5,1519" fill="#444"/>
<polygon points="170.6,1588.8 169.5,1584.3 171.7,1584.3" fill="#444"/>
<text x="167.5" y="1551.7" font-size="10.6" text-anchor="middle" transform="rotate(-90 167.5 1551.7)">ø50</text>
<line x1="187" y1="1541.5" x2="213" y2="1541.5" stroke="#5a5a5a" stroke-width="0.6"/>
<line x1="187" y1="1561.6" x2="213" y2="1561.6" stroke="#5a5a5a" stroke-width="0.6"/>
<line x1="189.9" y1="1541.5" x2="189.9" y2="1561.6" stroke="#666" stroke-width="0.6"/>
<polygon points="189.9,1541.5 191,1546 188.8,1546" fill="#444"/>
<polygon points="189.9,1561.6 188.8,1557.1 191,1557.1" fill="#444"/>
<text x="186" y="1551.7" font-size="10.6" text-anchor="middle" transform="rotate(-90 186 1551.7)">ø14</text>
<line x1="317.4" y1="1429.7" x2="392" y2="1429.7" stroke="#5a5a5a" stroke-width="0.6"/>
<line x1="317.4" y1="1534.3" x2="392" y2="1534.3" stroke="#5a5a5a" stroke-width="0.6"/>
<line x1="312.5" y1="1443.2" x2="377" y2="1443.2" stroke="#5a5a5a" stroke-width="0.6"/>
<line x1="312.5" y1="1521" x2="377" y2="1521" stroke="#5a5a5a" stroke-width="0.6"/>
<line x1="302.9" y1="1469.6" x2="338.5" y2="1469.6" stroke="#5a5a5a" stroke-width="0.6"/>
<line x1="302.9" y1="1494.9" x2="338.5" y2="1494.9" stroke="#5a5a5a" stroke-width="0.6"/>
<line x1="388.8" y1="1429.7" x2="388.8" y2="1534.3" stroke="#666" stroke-width="0.6"/>
<polygon points="388.8,1429.7 389.9,1434.2 387.7,1434.2" fill="#444"/>
<polygon points="388.8,1534.3 387.7,1529.8 389.9,1529.8" fill="#444"/>
<text x="386.8" y="1480.8" font-size="10.6" text-anchor="middle" transform="rotate(-90 386.8 1480.8)">ø70</text>
<line x1="374.2" y1="1443.2" x2="374.2" y2="1521" stroke="#666" stroke-width="0.6"/>
<polygon points="374.2,1443.2 375.3,1447.7 373.1,1447.7" fill="#444"/>
<polygon points="374.2,1521 373.1,1516.5 375.3,1516.5" fill="#444"/>
<g transform="translate(371.2 1501.6) rotate(-90)">
<text x="0" y="0" font-size="10.6">ø52</text>
<text x="19.77" y="0" font-size="5"></text>
</g>
<text x="365.8" y="1481.5" font-size="5" transform="rotate(-90 365.8 1481.5)">+0.03</text>
<text x="371" y="1481.5" font-size="5" transform="rotate(-90 371 1481.5)">-0</text>
<line x1="355.5" y1="1457.2" x2="355.5" y2="1505.9" stroke="#666" stroke-width="0.6"/>
<polygon points="355.5,1457.2 356.6,1461.7 354.4,1461.7" fill="#444"/>
<polygon points="355.5,1505.9 354.4,1501.4 356.6,1501.4" fill="#444"/>
<text x="352" y="1481.4" font-size="10.6" text-anchor="middle" transform="rotate(-90 352 1481.4)">ø33</text>
<line x1="335.3" y1="1469.6" x2="335.3" y2="1494.9" stroke="#666" stroke-width="0.6"/>
<polygon points="335.3,1469.6 336.4,1473.6 334.2,1473.6" fill="#444"/>
<polygon points="335.3,1494.9 334.2,1490.9 336.4,1490.9" fill="#444"/>
<text x="334" y="1482.3" font-size="10.6" text-anchor="middle" transform="rotate(-90 334 1482.3)">14</text>
<path d="M330.6 1581.9 H409 L414.5 1587.4 V1666.1 L409 1671.6 H330.6 L325.1 1666.1 V1587.4 Z" fill="#cdd4ec" stroke="#1c1c1c" stroke-width="1.2"/>
<circle cx="369.8" cy="1626.6" r="37.1" fill="none" stroke="#1c1c1c" stroke-width="1.1"/>
<circle cx="369.8" cy="1626.6" r="13.7" fill="none" stroke="#1c1c1c" stroke-width="1"/>
<circle cx="369.8" cy="1626.6" r="10.6" fill="#e4e8f6" stroke="#555" stroke-width="0.6"/>
<line x1="369.8" y1="1577" x2="369.8" y2="1676" stroke="#666" stroke-width="0.4" stroke-dasharray="9 2 2 2"/>
<line x1="321" y1="1626.6" x2="419" y2="1626.6" stroke="#666" stroke-width="0.4" stroke-dasharray="9 2 2 2"/>
<circle cx="333.3" cy="1589.5" r="2.5" fill="#e4e8f6" stroke="#333" stroke-width="0.7"/>
<line x1="330.3" y1="1592.5" x2="336.3" y2="1586.5" stroke="#333" stroke-width="0.5"/>
<circle cx="333.3" cy="1664" r="2.5" fill="#e4e8f6" stroke="#333" stroke-width="0.7"/>
<line x1="330.3" y1="1667" x2="336.3" y2="1661" stroke="#333" stroke-width="0.5"/>
<circle cx="406.3" cy="1589.5" r="2.5" fill="#e4e8f6" stroke="#333" stroke-width="0.7"/>
<line x1="403.3" y1="1592.5" x2="409.3" y2="1586.5" stroke="#333" stroke-width="0.5"/>
<circle cx="406.3" cy="1664" r="2.5" fill="#e4e8f6" stroke="#333" stroke-width="0.7"/>
<line x1="403.3" y1="1667" x2="409.3" y2="1661" stroke="#333" stroke-width="0.5"/>
<line x1="325.1" y1="1564.5" x2="325.1" y2="1581" stroke="#5a5a5a" stroke-width="0.6"/>
<line x1="414.5" y1="1564.5" x2="414.5" y2="1581" stroke="#5a5a5a" stroke-width="0.6"/>
<line x1="325.1" y1="1568.8" x2="414.5" y2="1568.8" stroke="#666" stroke-width="0.6"/>
<polygon points="325.1,1568.8 329.6,1567.7 329.6,1569.9" fill="#444"/>
<polygon points="414.5,1568.8 410,1569.9 410,1567.7" fill="#444"/>
<text x="370.7" y="1566.7" font-size="10.6" text-anchor="middle">60</text>
<line x1="415" y1="1581.9" x2="437.5" y2="1581.9" stroke="#5a5a5a" stroke-width="0.6"/>
<line x1="415" y1="1671.6" x2="437.5" y2="1671.6" stroke="#5a5a5a" stroke-width="0.6"/>
<line x1="434.3" y1="1581.9" x2="434.3" y2="1671.6" stroke="#666" stroke-width="0.6"/>
<polygon points="434.3,1581.9 435.4,1586.4 433.2,1586.4" fill="#444"/>
<polygon points="434.3,1671.6 433.2,1667.1 435.4,1667.1" fill="#444"/>
<text x="431.4" y="1626.6" font-size="10.6" text-anchor="middle" transform="rotate(-90 431.4 1626.6)">60</text>
<text x="236.7" y="1638.8" font-size="10.2" textLength="72.9" lengthAdjust="spacingAndGlyphs">(4)M4xP0.7x8L</text>
<polyline points="236.7,1644.8 313.6,1644.8 333.3,1664" fill="none" stroke="#5a5a5a" stroke-width="0.6"/>
<text x="246.7" y="1657.3" font-size="10.2" textLength="51.7" lengthAdjust="spacingAndGlyphs">P.C.D. ø70</text>
<path d="M463.9 1418.6 H581.2 Q586.2 1418.6 586.2 1423.6 V1539.3 Q586.2 1545.8 579.7 1545.8 H574.5 Q567.2 1545.8 567.2 1553.4 V1590.9 Q567.2 1595.7 562.4 1595.7 H482.6 Q477.8 1595.7 477.8 1590.9 V1553.4 Q477.8 1545.8 470.5 1545.8 H465.4 Q458.9 1545.8 458.9 1539.3 V1423.6 Q458.9 1418.6 463.9 1418.6 Z" fill="#cdd4ec" stroke="#1c1c1c" stroke-width="1.2"/>
<path d="M492.3 1536 Q495 1540 496.5 1549 A26.3 25 0 0 0 549 1549 Q550 1540 553 1536" fill="none" stroke="#1c1c1c" stroke-width="1.1"/>
<circle cx="522.1" cy="1481.7" r="62.4" fill="none" stroke="#1c1c1c" stroke-width="1.2"/>
<circle cx="522.1" cy="1481.7" r="59.5" fill="none" stroke="#444" stroke-width="0.5"/>
<circle cx="522.1" cy="1481.7" r="52.2" fill="none" stroke="#1c1c1c" stroke-width="1.2"/>
<circle cx="522.1" cy="1481.7" r="46.5" fill="none" stroke-dasharray="7 3" stroke="#555" stroke-width="0.5"/>
<circle cx="522.1" cy="1481.7" r="39.9" fill="none" stroke="#1c1c1c" stroke-width="1.2"/>
<circle cx="522.1" cy="1481.7" r="27.8" fill="#dfe3f3" stroke="#1c1c1c" stroke-width="1.2"/>
<circle cx="522.1" cy="1481.7" r="25" fill="#fff" stroke="#1c1c1c" stroke-width="1.2"/>
<circle cx="522.1" cy="1435.2" r="2.3" fill="#dfe3f3" stroke="#333" stroke-width="0.7"/>
<circle cx="562.37" cy="1458.45" r="2.3" fill="#dfe3f3" stroke="#333" stroke-width="0.7"/>
<circle cx="562.37" cy="1504.95" r="2.3" fill="#dfe3f3" stroke="#333" stroke-width="0.7"/>
<circle cx="522.1" cy="1528.2" r="2.3" fill="#dfe3f3" stroke="#333" stroke-width="0.7"/>
<circle cx="481.83" cy="1504.95" r="2.3" fill="#dfe3f3" stroke="#333" stroke-width="0.7"/>
<circle cx="481.83" cy="1458.45" r="2.3" fill="#dfe3f3" stroke="#333" stroke-width="0.7"/>
<circle cx="475.4" cy="1481.7" r="2.8" fill="#fff" stroke="#1c1c1c" stroke-width="0.7"/>
<path d="M475.4 1481.7 L472.6 1481.7 A2.8 2.8 0 0 1 475.4 1478.9 Z M475.4 1481.7 L478.2 1481.7 A2.8 2.8 0 0 1 475.4 1484.5 Z" fill="#111"/>
<circle cx="568.8" cy="1481.7" r="2.8" fill="#fff" stroke="#1c1c1c" stroke-width="0.7"/>
<path d="M568.8 1481.7 L566 1481.7 A2.8 2.8 0 0 1 568.8 1478.9 Z M568.8 1481.7 L571.6 1481.7 A2.8 2.8 0 0 1 568.8 1484.5 Z" fill="#111"/>
<circle cx="469.9" cy="1428.3" r="4.7" fill="#e4e8f6" stroke="#333" stroke-width="0.7"/>
<circle cx="574.4" cy="1428.3" r="4.7" fill="#e4e8f6" stroke="#333" stroke-width="0.7"/>
<circle cx="469.9" cy="1533.9" r="4.7" fill="#e4e8f6" stroke="#333" stroke-width="0.7"/>
<line x1="464.2" y1="1533.9" x2="475.6" y2="1533.9" stroke="#555" stroke-width="0.4"/>
<line x1="469.9" y1="1528.2" x2="469.9" y2="1539.6" stroke="#555" stroke-width="0.4"/>
<circle cx="574.4" cy="1533.9" r="4.7" fill="#e4e8f6" stroke="#333" stroke-width="0.7"/>
<line x1="568.7" y1="1533.9" x2="580.1" y2="1533.9" stroke="#555" stroke-width="0.4"/>
<line x1="574.4" y1="1528.2" x2="574.4" y2="1539.6" stroke="#555" stroke-width="0.4"/>
<circle cx="463.5" cy="1437.9" r="3" fill="#fff" stroke="#1c1c1c" stroke-width="0.7"/>
<path d="M463.5 1437.9 L460.5 1437.9 A3 3 0 0 1 463.5 1434.9 Z M463.5 1437.9 L466.5 1437.9 A3 3 0 0 1 463.5 1440.9 Z" fill="#111"/>
<circle cx="579.9" cy="1525.1" r="3" fill="#fff" stroke="#1c1c1c" stroke-width="0.7"/>
<path d="M579.9 1525.1 L576.9 1525.1 A3 3 0 0 1 579.9 1522.1 Z M579.9 1525.1 L582.9 1525.1 A3 3 0 0 1 579.9 1528.1 Z" fill="#111"/>
<path d="M538.8 1549.8 l1.6 1.6 l-1.6 1.6 l-1.6 -1.6 Z" fill="#555" stroke="#333" stroke-width="0.5"/>
<path d="M538.8 1557.5 l1.6 1.6 l-1.6 1.6 l-1.6 -1.6 Z" fill="#555" stroke="#333" stroke-width="0.5"/>
<line x1="522.1" y1="1411" x2="522.1" y2="1600" stroke="#666" stroke-width="0.5" stroke-dasharray="9 2 2 2"/>
<line x1="448" y1="1481.7" x2="604" y2="1481.7" stroke="#666" stroke-width="0.5" stroke-dasharray="9 2 2 2"/>
<line x1="450.6" y1="1551.4" x2="570" y2="1551.4" stroke="#666" stroke-width="0.5" stroke-dasharray="9 2 2 2"/>
<line x1="458.9" y1="1364.5" x2="458.9" y2="1418" stroke="#5a5a5a" stroke-width="0.6"/>
<line x1="585.8" y1="1364.5" x2="585.8" y2="1418" stroke="#5a5a5a" stroke-width="0.6"/>
<line x1="464.2" y1="1382.5" x2="464.2" y2="1424" stroke="#5a5a5a" stroke-width="0.6"/>
<line x1="580.3" y1="1382.5" x2="580.3" y2="1424" stroke="#5a5a5a" stroke-width="0.6"/>
<line x1="469.7" y1="1401" x2="469.7" y2="1424" stroke="#5a5a5a" stroke-width="0.6"/>
<line x1="574.5" y1="1401" x2="574.5" y2="1424" stroke="#5a5a5a" stroke-width="0.6"/>
<line x1="458.9" y1="1368.3" x2="585.8" y2="1368.3" stroke="#666" stroke-width="0.6"/>
<polygon points="458.9,1368.3 463.4,1367.2 463.4,1369.4" fill="#444"/>
<polygon points="585.8,1368.3 581.3,1369.4 581.3,1367.2" fill="#444"/>
<text x="521.9" y="1366.7" font-size="10.6" text-anchor="middle">85</text>
<line x1="464.2" y1="1386.7" x2="580.3" y2="1386.7" stroke="#666" stroke-width="0.6"/>
<polygon points="464.2,1386.7 468.7,1385.6 468.7,1387.8" fill="#444"/>
<polygon points="580.3,1386.7 575.8,1387.8 575.8,1385.6" fill="#444"/>
<text x="501.5" y="1384" font-size="10.6">78</text>
<text x="516.29" y="1384" font-size="10">±0.03</text>
<line x1="469.7" y1="1405.4" x2="574.5" y2="1405.4" stroke="#666" stroke-width="0.6"/>
<polygon points="469.7,1405.4 474.2,1404.3 474.2,1406.5" fill="#444"/>
<polygon points="574.5,1405.4 570,1406.5 570,1404.3" fill="#444"/>
<text x="502.1" y="1402.4" font-size="10.6">70</text>
<text x="516.89" y="1402.4" font-size="10">±0.1</text>
<text x="392.9" y="1382.6" font-size="10.4" textLength="40.5" lengthAdjust="spacingAndGlyphs">(4) ø6.5</text>
<polyline points="434,1386 467.7,1426.6" fill="none" stroke="#5a5a5a" stroke-width="0.6"/>
<text x="361" y="1402.4" font-size="10.8" textLength="28.4" lengthAdjust="spacingAndGlyphs">(2)ø5</text>
<text x="414.7" y="1402.4" font-size="10.8" textLength="18.7" lengthAdjust="spacingAndGlyphs">PIN</text>
<text x="391.6" y="1397.2" font-size="6.4" textLength="21" lengthAdjust="spacingAndGlyphs">+0.012</text>
<text x="391.6" y="1402.8" font-size="6.4">+0</text>
<polyline points="363.2,1408.7 430.6,1408.7 460.9,1436.2" fill="none" stroke="#5a5a5a" stroke-width="0.6"/>
<line x1="430.7" y1="1438.5" x2="459" y2="1438.5" stroke="#5a5a5a" stroke-width="0.6"/>
<line x1="430.7" y1="1525" x2="459" y2="1525" stroke="#5a5a5a" stroke-width="0.6"/>
<line x1="434" y1="1438.5" x2="434" y2="1525" stroke="#666" stroke-width="0.6"/>
<polygon points="434,1438.5 435.1,1443 432.9,1443" fill="#444"/>
<polygon points="434,1525 432.9,1520.5 435.1,1520.5" fill="#444"/>
<g transform="translate(430.2 1501.5) rotate(-90)">
<text x="0" y="0" font-size="10.6">58</text>
<text x="13.79" y="0" font-size="8.8">± 0.03</text>
</g>
<line x1="451.8" y1="1481.7" x2="451.8" y2="1551.4" stroke="#666" stroke-width="0.6"/>
<polygon points="451.8,1481.7 452.9,1486.2 450.7,1486.2" fill="#444"/>
<polygon points="451.8,1551.4 450.7,1546.9 452.9,1546.9" fill="#444"/>
<text x="449.6" y="1504.7" font-size="10.6" text-anchor="middle" transform="rotate(-90 449.6 1504.7)">46.687</text>
<text x="613.9" y="1366.7" font-size="10.4" textLength="73.4" lengthAdjust="spacingAndGlyphs">(6)M4xP0.7x6L</text>
<polyline points="692.2,1372.2 611.1,1372.2 563,1458.2" fill="none" stroke="#5a5a5a" stroke-width="0.6"/>
<text x="626.8" y="1384" font-size="10.4" textLength="57.7" lengthAdjust="spacingAndGlyphs">P.C.D ø62.5</text>
<text x="613.9" y="1398.6" font-size="9.8" textLength="22.8" lengthAdjust="spacingAndGlyphs">(2)ø5</text>
<text x="659.2" y="1398.6" font-size="9.8" textLength="31.6" lengthAdjust="spacingAndGlyphs">PINx6L</text>
<text x="639.4" y="1394" font-size="5.4" textLength="17.6" lengthAdjust="spacingAndGlyphs">+0.012</text>
<text x="639.4" y="1398.9" font-size="5.4">+0</text>
<polyline points="692.2,1405.4 615.2,1405.4 569.5,1481" fill="none" stroke="#5a5a5a" stroke-width="0.6"/>
<text x="626.8" y="1415.6" font-size="10.4" textLength="57.7" lengthAdjust="spacingAndGlyphs">P.C.D ø62.5</text>
<line x1="586" y1="1418.9" x2="664.7" y2="1418.9" stroke="#5a5a5a" stroke-width="0.6"/>
<line x1="580" y1="1429.6" x2="630.8" y2="1429.6" stroke="#5a5a5a" stroke-width="0.6"/>
<line x1="580.9" y1="1533.3" x2="634" y2="1533.3" stroke="#5a5a5a" stroke-width="0.6"/>
<line x1="570" y1="1545.2" x2="647.7" y2="1545.2" stroke="#5a5a5a" stroke-width="0.6"/>
<line x1="567.5" y1="1596.3" x2="665" y2="1596.3" stroke="#5a5a5a" stroke-width="0.6"/>
<line x1="541" y1="1559" x2="603" y2="1559" stroke="#5a5a5a" stroke-width="0.6"/>
<line x1="600.8" y1="1481.9" x2="600.8" y2="1551.3" stroke="#666" stroke-width="0.6"/>
<polygon points="600.8,1481.9 601.9,1486.4 599.7,1486.4" fill="#444"/>
<polygon points="600.8,1551.3 599.7,1546.8 601.9,1546.8" fill="#444"/>
<text x="598.8" y="1506.8" font-size="10.6" text-anchor="middle" transform="rotate(-90 598.8 1506.8)">46</text>
<line x1="600.8" y1="1551.3" x2="600.8" y2="1567.6" stroke="#5a5a5a" stroke-width="0.6"/>
<polygon points="600.8,1558.9 601.9,1562.9 599.7,1562.9" fill="#444"/>
<text x="599.2" y="1555" font-size="10.6" text-anchor="middle" transform="rotate(-90 599.2 1555)">6</text>
<line x1="626.4" y1="1429.8" x2="626.4" y2="1533.3" stroke="#666" stroke-width="0.6"/>
<polygon points="626.4,1429.8 627.5,1434.3 625.3,1434.3" fill="#444"/>
<polygon points="626.4,1533.3 625.3,1528.8 627.5,1528.8" fill="#444"/>
<g transform="translate(622.6 1499) rotate(-90)">
<text x="0" y="0" font-size="10.6">70</text>
<text x="13.79" y="0" font-size="9.4">± 0.1</text>
</g>
<line x1="642.3" y1="1418.9" x2="642.3" y2="1545.2" stroke="#666" stroke-width="0.6"/>
<polygon points="642.3,1418.9 643.4,1423.4 641.2,1423.4" fill="#444"/>
<polygon points="642.3,1545.2 641.2,1540.7 643.4,1540.7" fill="#444"/>
<text x="640" y="1481.9" font-size="10.6" text-anchor="middle" transform="rotate(-90 640 1481.9)">85</text>
<line x1="662.3" y1="1418.9" x2="662.3" y2="1596.3" stroke="#666" stroke-width="0.6"/>
<polygon points="662.3,1418.9 663.4,1423.4 661.2,1423.4" fill="#444"/>
<polygon points="662.3,1596.3 661.2,1591.8 663.4,1591.8" fill="#444"/>
<text x="659" y="1507.9" font-size="10.6" text-anchor="middle" transform="rotate(-90 659 1507.9)">119.187</text>
<line x1="522.1" y1="1578" x2="522.1" y2="1592" stroke="#5a5a5a" stroke-width="0.6"/>
<line x1="539.2" y1="1562" x2="539.2" y2="1592" stroke="#5a5a5a" stroke-width="0.6"/>
<line x1="522.1" y1="1588" x2="539.2" y2="1588" stroke="#666" stroke-width="0.6"/>
<polygon points="522.1,1588 526.1,1586.9 526.1,1589.1" fill="#444"/>
<polygon points="539.2,1588 535.2,1589.1 535.2,1586.9" fill="#444"/>
<text x="530.6" y="1584.7" font-size="10.6" text-anchor="middle">14</text>
<line x1="477.8" y1="1598" x2="477.8" y2="1639" stroke="#5a5a5a" stroke-width="0.6"/>
<line x1="567.2" y1="1598" x2="567.2" y2="1639" stroke="#5a5a5a" stroke-width="0.6"/>
<line x1="477.8" y1="1635.6" x2="567.2" y2="1635.6" stroke="#666" stroke-width="0.6"/>
<polygon points="477.8,1635.6 482.3,1634.5 482.3,1636.7" fill="#444"/>
<polygon points="567.2,1635.6 562.7,1636.7 562.7,1634.5" fill="#444"/>
<text x="522.1" y="1631.4" font-size="10.6" text-anchor="middle">60</text>
<text x="592.8" y="1611" font-size="9.6" textLength="61.4" lengthAdjust="spacingAndGlyphs">2-M3xP0.5x5L</text>
<polyline points="654.2,1614.9 588.4,1614.9 540,1560" fill="none" stroke="#333" stroke-width="0.6"/>
</g>
<g id="ht130">
<text x="7.3" y="1759.8" font-size="21.5" textLength="83.7" lengthAdjust="spacingAndGlyphs" fill="#111">HT-130</text>
<rect x="6.6" y="1762.9" width="85" height="7.6" fill="#6b7fc6"/>
<rect x="9.3" y="1829.7" width="134.7" height="136.2" fill="#fff" rx="7" stroke="#939393" stroke-width="1.2"/>
<path d="M81.99 1859.37 H92.19 V1861.54 H98.27 V1875.65 H81.99 Z" fill="#cdd4ec" stroke="#7f86ad" stroke-width="0.6"/>
<circle cx="85.24" cy="1863.71" r="1.3" fill="#fff" stroke="#333" stroke-width="0.6"/>
<circle cx="85.24" cy="1871.74" r="1.3" fill="#fff" stroke="#333" stroke-width="0.6"/>
<g transform="rotate(-12.5 24.46 1873.7)">
<text x="24.46" y="1873.7" font-size="7.8" textLength="40" lengthAdjust="spacingAndGlyphs">2-M3xP0.5</text>
</g>
<line x1="24.46" y1="1877.39" x2="84.81" y2="1864.15" stroke="#444" stroke-width="0.6"/>
<line x1="77.64" y1="1845.91" x2="77.64" y2="1879.34" stroke="#5a5a5a" stroke-width="0.5"/>
<polygon points="77.64,1863.71 76.54,1860.71 78.74,1860.71" fill="#444"/>
<polygon points="77.64,1871.74 78.74,1874.74 76.54,1874.74" fill="#444"/>
<line x1="75.47" y1="1863.71" x2="81.99" y2="1863.71" stroke="#5a5a5a" stroke-width="0.5"/>
<line x1="75.47" y1="1871.74" x2="81.99" y2="1871.74" stroke="#5a5a5a" stroke-width="0.5"/>
<text x="76.56" y="1849.6" font-size="7.8" text-anchor="middle" transform="rotate(-90 76.56 1849.6)">7</text>
<line x1="105.21" y1="1832.89" x2="105.21" y2="1876.3" stroke="#5a5a5a" stroke-width="0.5"/>
<polygon points="105.21,1859.37 104.11,1856.37 106.31,1856.37" fill="#444"/>
<polygon points="105.21,1875.65 106.31,1878.65 104.11,1878.65" fill="#444"/>
<line x1="99.35" y1="1859.37" x2="107.38" y2="1859.37" stroke="#5a5a5a" stroke-width="0.5"/>
<line x1="99.35" y1="1875.65" x2="107.38" y2="1875.65" stroke="#5a5a5a" stroke-width="0.5"/>
<text x="102.61" y="1845.26" font-size="7.8" text-anchor="middle" transform="rotate(-90 102.61 1845.26)">14.5</text>
<text x="110.86" y="1877.17" font-size="7.8" text-anchor="middle">7</text>
<line x1="80.9" y1="1880.64" x2="115.63" y2="1880.64" stroke="#5a5a5a" stroke-width="0.5"/>
<line x1="89.58" y1="1878.47" x2="89.58" y2="1887.15" stroke="#5a5a5a" stroke-width="0.5"/>
<line x1="98.27" y1="1878.47" x2="98.27" y2="1887.15" stroke="#5a5a5a" stroke-width="0.5"/>
<polygon points="89.58,1880.64 86.58,1881.74 86.58,1879.54" fill="#444"/>
<polygon points="98.27,1880.64 101.27,1879.54 101.27,1881.74" fill="#444"/>
<path d="M47.26 1887.59 H49.43 V1902.78 H63.97 V1904.95 H47.26 Z" fill="#cdd4ec" stroke="#7f86ad" stroke-width="0.6"/>
<line x1="38.57" y1="1884.98" x2="73.3" y2="1884.98" stroke="#5a5a5a" stroke-width="0.5"/>
<polygon points="47.26,1884.98 44.26,1886.08 44.26,1883.88" fill="#444"/>
<polygon points="49.43,1884.98 52.43,1883.88 52.43,1886.08" fill="#444"/>
<text x="65.27" y="1883.25" font-size="7.8" text-anchor="middle">1.5</text>
<line x1="33.15" y1="1887.59" x2="46.61" y2="1887.59" stroke="#5a5a5a" stroke-width="0.5"/>
<line x1="33.15" y1="1904.95" x2="46.61" y2="1904.95" stroke="#5a5a5a" stroke-width="0.5"/>
<line x1="36.4" y1="1887.59" x2="36.4" y2="1904.95" stroke="#666" stroke-width="0.5"/>
<polygon points="36.4,1887.59 37.5,1890.59 35.3,1890.59" fill="#444"/>
<polygon points="36.4,1904.95 35.3,1901.95 37.5,1901.95" fill="#444"/>
<text x="33.58" y="1896.71" font-size="7.8" text-anchor="middle" transform="rotate(-90 33.58 1896.71)">15</text>
<g transform="rotate(-16 60.28 1898.01)">
<text x="60.28" y="1898.01" font-size="7.8" textLength="18" lengthAdjust="spacingAndGlyphs">R1.5</text>
</g>
<line x1="61.37" y1="1903.87" x2="92.19" y2="1890.41" stroke="#444" stroke-width="0.6"/>
<circle cx="51.6" cy="1903.87" r="0.8" fill="#fff" stroke="#444" stroke-width="0.4"/>
<circle cx="55.29" cy="1903.87" r="0.8" fill="#fff" stroke="#444" stroke-width="0.4"/>
<circle cx="60.28" cy="1903.87" r="0.8" fill="#fff" stroke="#444" stroke-width="0.4"/>
<line x1="50.51" y1="1903.87" x2="63.97" y2="1903.87" stroke="#666" stroke-width="0.4"/>
<rect x="89.58" y="1887.59" width="8.68" height="17.36" fill="#cdd4ec" stroke="#7f86ad" stroke-width="0.6"/>
<circle cx="93.92" cy="1890.84" r="1.7" fill="#fff" stroke="#333" stroke-width="0.6"/>
<circle cx="93.92" cy="1890.84" r="0.8" fill="none" stroke="#333" stroke-width="0.4"/>
<circle cx="93.92" cy="1897.36" r="1.7" fill="#fff" stroke="#333" stroke-width="0.6"/>
<circle cx="93.92" cy="1897.36" r="0.8" fill="none" stroke="#333" stroke-width="0.4"/>
<line x1="108.03" y1="1881.08" x2="108.03" y2="1907.56" stroke="#5a5a5a" stroke-width="0.5"/>
<polygon points="108.03,1890.84 106.93,1887.84 109.13,1887.84" fill="#444"/>
<polygon points="108.03,1897.36 109.13,1900.36 106.93,1900.36" fill="#444"/>
<line x1="96.1" y1="1890.84" x2="110.86" y2="1890.84" stroke="#5a5a5a" stroke-width="0.5"/>
<line x1="96.1" y1="1897.36" x2="110.86" y2="1897.36" stroke="#5a5a5a" stroke-width="0.5"/>
<text x="106.08" y="1895.19" font-size="7.8" text-anchor="middle" transform="rotate(-90 106.08 1895.19)">6</text>
<line x1="81.99" y1="1903.87" x2="89.58" y2="1903.87" stroke="#666" stroke-width="0.4"/>
<line x1="47.69" y1="1906.04" x2="47.69" y2="1938.6" stroke="#5a5a5a" stroke-width="0.5"/>
<line x1="64.62" y1="1906.04" x2="64.62" y2="1938.6" stroke="#5a5a5a" stroke-width="0.5"/>
<line x1="47.69" y1="1935.34" x2="64.62" y2="1935.34" stroke="#666" stroke-width="0.5"/>
<polygon points="47.69,1935.34 50.69,1934.24 50.69,1936.44" fill="#444"/>
<polygon points="64.62,1935.34 61.62,1936.44 61.62,1934.24" fill="#444"/>
<text x="56.16" y="1933.17" font-size="7.8" text-anchor="middle">14.5</text>
<line x1="81.99" y1="1906.04" x2="81.99" y2="1938.6" stroke="#5a5a5a" stroke-width="0.5"/>
<line x1="98.27" y1="1906.04" x2="98.27" y2="1938.6" stroke="#5a5a5a" stroke-width="0.5"/>
<line x1="81.99" y1="1935.34" x2="124.31" y2="1935.34" stroke="#5a5a5a" stroke-width="0.5"/>
<polygon points="81.99,1935.34 84.99,1934.24 84.99,1936.44" fill="#444"/>
<polygon points="98.27,1935.34 95.27,1936.44 95.27,1934.24" fill="#444"/>
<text x="110.86" y="1933.17" font-size="7.8" text-anchor="middle">13.5</text>
<text x="72.9" y="1956.6" font-size="9.6" text-anchor="middle" textLength="88" lengthAdjust="spacingAndGlyphs" fill="#333">HT-130感應器固定座</text>
<rect x="6.9" y="1997" width="134.8" height="136.2" fill="#fff" rx="7" stroke="#939393" stroke-width="1.2"/>
<rect x="78.73" y="2044.77" width="26.05" height="7.16" fill="#cdd4ec" rx="1.8" stroke="#7f86ad" stroke-width="0.6"/>
<circle cx="83.51" cy="2048.46" r="1.6" fill="#fff" stroke="#333" stroke-width="0.6"/>
<circle cx="100" cy="2048.46" r="1.6" fill="#fff" stroke="#333" stroke-width="0.6"/>
<line x1="78.73" y1="2021.97" x2="78.73" y2="2044.33" stroke="#5a5a5a" stroke-width="0.5"/>
<line x1="104.78" y1="2021.97" x2="104.78" y2="2044.33" stroke="#5a5a5a" stroke-width="0.5"/>
<line x1="78.73" y1="2024.8" x2="104.78" y2="2024.8" stroke="#666" stroke-width="0.5"/>
<polygon points="78.73,2024.8 81.73,2023.7 81.73,2025.9" fill="#444"/>
<polygon points="104.78,2024.8 101.78,2025.9 101.78,2023.7" fill="#444"/>
<text x="91.75" y="2022.63" font-size="7.8" text-anchor="middle">23</text>
<line x1="83.51" y1="2033.48" x2="83.51" y2="2047.37" stroke="#5a5a5a" stroke-width="0.5"/>
<line x1="100" y1="2033.48" x2="100" y2="2047.37" stroke="#5a5a5a" stroke-width="0.5"/>
<line x1="83.51" y1="2036.08" x2="100" y2="2036.08" stroke="#666" stroke-width="0.5"/>
<polygon points="83.51,2036.08 86.51,2034.98 86.51,2037.18" fill="#444"/>
<polygon points="100,2036.08 97,2037.18 97,2034.98" fill="#444"/>
<text x="91.75" y="2033.91" font-size="7.8" text-anchor="middle">14</text>
<line x1="118.24" y1="2018.28" x2="118.24" y2="2055.62" stroke="#5a5a5a" stroke-width="0.5"/>
<polygon points="118.24,2044.77 117.14,2041.77 119.34,2041.77" fill="#444"/>
<polygon points="118.24,2048.46 119.34,2051.46 117.14,2051.46" fill="#444"/>
<text x="115.63" y="2028.49" font-size="7.8" text-anchor="middle" transform="rotate(-90 115.63 2028.49)">2.6</text>
<line x1="131.26" y1="2035" x2="131.26" y2="2055.62" stroke="#5a5a5a" stroke-width="0.5"/>
<polygon points="131.26,2044.77 130.16,2041.77 132.36,2041.77" fill="#444"/>
<polygon points="131.26,2051.93 132.36,2054.93 130.16,2054.93" fill="#444"/>
<text x="128.65" y="2071.25" font-size="7.8" text-anchor="middle" transform="rotate(-90 128.65 2071.25)">6.5</text>
<line x1="105.86" y1="2044.77" x2="133.43" y2="2044.77" stroke="#5a5a5a" stroke-width="0.5"/>
<line x1="105.86" y1="2048.46" x2="133.43" y2="2048.46" stroke="#5a5a5a" stroke-width="0.5"/>
<line x1="105.86" y1="2051.93" x2="133.43" y2="2051.93" stroke="#5a5a5a" stroke-width="0.5"/>
<line x1="78.73" y1="2060.61" x2="104.78" y2="2060.61" stroke="#555" stroke-width="0.8"/>
<line x1="81.99" y1="2059.09" x2="81.99" y2="2062.13" stroke="#666" stroke-width="0.4"/>
<line x1="101.52" y1="2059.09" x2="101.52" y2="2062.13" stroke="#666" stroke-width="0.4"/>
<rect x="89.15" y="2060.61" width="5.21" height="15.63" fill="#cdd4ec" stroke="#7f86ad" stroke-width="0.6"/>
<line x1="89.15" y1="2077.32" x2="89.15" y2="2089.91" stroke="#5a5a5a" stroke-width="0.5"/>
<line x1="94.36" y1="2077.32" x2="94.36" y2="2089.91" stroke="#5a5a5a" stroke-width="0.5"/>
<line x1="79.82" y1="2087.74" x2="111.29" y2="2087.74" stroke="#5a5a5a" stroke-width="0.5"/>
<polygon points="89.15,2087.74 86.15,2088.84 86.15,2086.64" fill="#444"/>
<polygon points="94.36,2087.74 97.36,2086.64 97.36,2088.84" fill="#444"/>
<text x="107.38" y="2086.01" font-size="7.8" text-anchor="middle">5</text>
<path d="M38.57 2059.53 H46.17 V2076.24 H44.43 V2061.04 H38.57 Z" fill="#cdd4ec" stroke="#7f86ad" stroke-width="0.6"/>
<line x1="38.57" y1="2035" x2="38.57" y2="2058.87" stroke="#5a5a5a" stroke-width="0.5"/>
<line x1="46.17" y1="2035" x2="46.17" y2="2058.87" stroke="#5a5a5a" stroke-width="0.5"/>
<line x1="40.74" y1="2047.37" x2="40.74" y2="2058.87" stroke="#5a5a5a" stroke-width="0.5"/>
<line x1="28.81" y1="2037.17" x2="71.13" y2="2037.17" stroke="#5a5a5a" stroke-width="0.5"/>
<polygon points="38.57,2037.17 35.57,2038.27 35.57,2036.07" fill="#444"/>
<polygon points="46.17,2037.17 49.17,2036.07 49.17,2038.27" fill="#444"/>
<text x="61.37" y="2035.21" font-size="7.8" text-anchor="middle">6.5</text>
<line x1="32.06" y1="2049.54" x2="71.13" y2="2049.54" stroke="#5a5a5a" stroke-width="0.5"/>
<polygon points="40.74,2049.54 37.74,2050.64 37.74,2048.44" fill="#444"/>
<polygon points="46.17,2049.54 49.17,2048.44 49.17,2050.64" fill="#444"/>
<text x="61.37" y="2047.59" font-size="7.8" text-anchor="middle">3.9</text>
<line x1="29.89" y1="2053.45" x2="29.89" y2="2069.08" stroke="#5a5a5a" stroke-width="0.5"/>
<polygon points="29.89,2059.53 28.79,2056.53 30.99,2056.53" fill="#444"/>
<polygon points="29.89,2061.26 30.99,2064.26 28.79,2064.26" fill="#444"/>
<line x1="27.72" y1="2059.96" x2="37.49" y2="2059.96" stroke="#5a5a5a" stroke-width="0.5"/>
<text x="27.07" y="2048.02" font-size="7.8" text-anchor="middle" transform="rotate(-90 27.07 2048.02)">1</text>
<line x1="19.04" y1="2059.96" x2="27.07" y2="2059.96" stroke="#5a5a5a" stroke-width="0.5"/>
<line x1="19.04" y1="2076.24" x2="43.57" y2="2076.24" stroke="#5a5a5a" stroke-width="0.5"/>
<line x1="21.86" y1="2059.96" x2="21.86" y2="2076.24" stroke="#666" stroke-width="0.5"/>
<polygon points="21.86,2059.96 22.96,2062.96 20.76,2062.96" fill="#444"/>
<polygon points="21.86,2076.24 20.76,2073.24 22.96,2073.24" fill="#444"/>
<text x="19.04" y="2068.64" font-size="7.8" text-anchor="middle" transform="rotate(-90 19.04 2068.64)">14.5</text>
<line x1="51.6" y1="2079.5" x2="92.84" y2="2038.69" stroke="#444" stroke-width="0.6"/>
<text x="58.76" y="2069.08" font-size="7.8" text-anchor="middle" transform="rotate(-45 58.76 2069.08)">2-ø3.5</text>
<text x="76" y="2119.3" font-size="9.6" text-anchor="middle" textLength="64.9" lengthAdjust="spacingAndGlyphs" fill="#333">HT-130感應片</text>
<line x1="205.1" y1="1804.5" x2="205.1" y2="2003.5" stroke="#5a5a5a" stroke-width="0.6"/>
<line x1="297.2" y1="1804.5" x2="297.2" y2="1886.5" stroke="#5a5a5a" stroke-width="0.6"/>
<line x1="253.2" y1="1829" x2="253.2" y2="1877" stroke="#5a5a5a" stroke-width="0.6"/>
<line x1="279.4" y1="1847" x2="279.4" y2="1877" stroke="#5a5a5a" stroke-width="0.6"/>
<line x1="284.9" y1="1847" x2="284.9" y2="1886.5" stroke="#5a5a5a" stroke-width="0.6"/>
<line x1="267.8" y1="1862" x2="267.8" y2="1877" stroke="#5a5a5a" stroke-width="0.6"/>
<line x1="205.1" y1="1808.7" x2="297.2" y2="1808.7" stroke="#666" stroke-width="0.6"/>
<polygon points="205.1,1808.7 209.6,1807.6 209.6,1809.8" fill="#444"/>
<polygon points="297.2,1808.7 292.7,1809.8 292.7,1807.6" fill="#444"/>
<text x="251.9" y="1806.5" font-size="10.4" text-anchor="middle">77</text>
<line x1="205.1" y1="1833.2" x2="253.2" y2="1833.2" stroke="#666" stroke-width="0.6"/>
<polygon points="205.1,1833.2 209.6,1832.1 209.6,1834.3" fill="#444"/>
<polygon points="253.2,1833.2 248.7,1834.3 248.7,1832.1" fill="#444"/>
<text x="229.3" y="1830.7" font-size="10.4" text-anchor="middle">40</text>
<line x1="253.2" y1="1833.2" x2="297.2" y2="1833.2" stroke="#666" stroke-width="0.6"/>
<polygon points="253.2,1833.2 257.7,1832.1 257.7,1834.3" fill="#444"/>
<polygon points="297.2,1833.2 292.7,1834.3 292.7,1832.1" fill="#444"/>
<text x="256" y="1829.9" font-size="10.4">37</text>
<text x="268.77" y="1829.9" font-size="8.8">± 0.05</text>
<line x1="253.2" y1="1851" x2="279.4" y2="1851" stroke="#666" stroke-width="0.6"/>
<polygon points="253.2,1851 257.7,1849.9 257.7,1852.1" fill="#444"/>
<polygon points="279.4,1851 274.9,1852.1 274.9,1849.9" fill="#444"/>
<text x="254.6" y="1847.2" font-size="10.4">22</text>
<text x="267" y="1843" font-size="4.6">+0.05</text>
<text x="269.5" y="1847.4" font-size="4.6">0</text>
<line x1="284.9" y1="1851" x2="297.2" y2="1851" stroke="#666" stroke-width="0.6"/>
<polygon points="284.9,1851 288.9,1849.9 288.9,1852.1" fill="#444"/>
<polygon points="297.2,1851 293.2,1852.1 293.2,1849.9" fill="#444"/>
<text x="290.3" y="1847.2" font-size="10.4" text-anchor="middle">10</text>
<line x1="253.2" y1="1866.4" x2="267.8" y2="1866.4" stroke="#666" stroke-width="0.6"/>
<polygon points="253.2,1866.4 257.2,1865.3 257.2,1867.5" fill="#444"/>
<polygon points="267.8,1866.4 263.8,1867.5 263.8,1865.3" fill="#444"/>
<text x="260.3" y="1863.7" font-size="10.4" text-anchor="middle">12</text>
<line x1="286.2" y1="1881.6" x2="311" y2="1881.6" stroke="#5a5a5a" stroke-width="0.6"/>
<polygon points="293.1,1881.6 289.6,1882.7 289.6,1880.5" fill="#444"/>
<polygon points="297.2,1881.6 300.7,1880.5 300.7,1882.7" fill="#444"/>
<text x="306.3" y="1879.4" font-size="10.4" text-anchor="middle">3</text>
<rect x="205" y="2003.5" width="48.2" height="72.7" fill="#cdd4ec" stroke="#1c1c1c" stroke-width="1.1"/>
<rect x="279.3" y="1886.9" width="18.6" height="136.5" fill="#cdd4ec" stroke="#1c1c1c" stroke-width="1.1"/>
<rect x="267.8" y="1877.4" width="11.5" height="183.7" fill="#cdd4ec" rx="1" stroke="#1c1c1c" stroke-width="1.1"/>
<rect x="253.2" y="1877.4" width="14.6" height="198.8" fill="#cdd4ec" rx="1" stroke="#1c1c1c" stroke-width="1.1"/>
<line x1="253.2" y1="1917.9" x2="334.5" y2="1917.9" stroke="#666" stroke-width="0.6" stroke-dasharray="4 2"/>
<line x1="253.2" y1="1992.7" x2="334.5" y2="1992.7" stroke="#666" stroke-width="0.6" stroke-dasharray="4 2"/>
<path d="M297.8 1899.8 H293.1 V2009.2 H297.8" fill="none" stroke="#555" stroke-width="0.6" stroke-dasharray="4 2"/>
<line x1="196.7" y1="2039.1" x2="287.5" y2="2039.1" stroke="#666" stroke-width="0.5" stroke-dasharray="9 2 2 2"/>
<path d="M205 2009.7 H211 V2069.9 H205" fill="none" stroke="#666" stroke-width="0.5" stroke-dasharray="3 1.5"/>
<rect x="211" y="2031.4" width="34.7" height="16.5" fill="none" stroke="#666" stroke-width="0.5" stroke-dasharray="3 1.5"/>
<line x1="245.7" y1="1975" x2="245.7" y2="2031.4" stroke="#5a5a5a" stroke-width="0.6"/>
<path d="M284.3 1943.8 l1.6 1.6 l-1.6 1.6 l-1.6 -1.6 Z" fill="#444" stroke="#333" stroke-width="0.5"/>
<path d="M284.3 1963.1 l1.6 1.6 l-1.6 1.6 l-1.6 -1.6 Z" fill="#444" stroke="#333" stroke-width="0.5"/>
<text x="207.9" y="1902.7" font-size="6.4" textLength="41.2" lengthAdjust="spacingAndGlyphs">2-M3xP0.5x5L</text>
<polyline points="207.9,1904.1 250.5,1904.1 284,1945" fill="none" stroke="#333" stroke-width="0.5"/>
<line x1="205.1" y1="1978.2" x2="245.7" y2="1978.2" stroke="#666" stroke-width="0.6"/>
<polygon points="205.1,1978.2 209.6,1977.1 209.6,1979.3" fill="#444"/>
<polygon points="245.7,1978.2 241.2,1979.3 241.2,1977.1" fill="#444"/>
<text x="225.2" y="1976.2" font-size="9.4" text-anchor="middle">33.5</text>
<line x1="196.9" y1="1992.7" x2="239.5" y2="1992.7" stroke="#5a5a5a" stroke-width="0.6"/>
<line x1="211.2" y1="1988.5" x2="211.2" y2="2009" stroke="#5a5a5a" stroke-width="0.6"/>
<polygon points="205.1,1992.7 201.1,1993.8 201.1,1991.6" fill="#444"/>
<polygon points="211.2,1992.7 215.2,1991.6 215.2,1993.8" fill="#444"/>
<text x="229.3" y="1990.5" font-size="9.4" text-anchor="middle">5.5</text>
<line x1="174.5" y1="2009.7" x2="205" y2="2009.7" stroke="#5a5a5a" stroke-width="0.6"/>
<line x1="174.5" y1="2069.9" x2="205" y2="2069.9" stroke="#5a5a5a" stroke-width="0.6"/>
<line x1="177.5" y1="2009.7" x2="177.5" y2="2069.9" stroke="#666" stroke-width="0.6"/>
<polygon points="177.5,2009.7 178.6,2014.2 176.4,2014.2" fill="#444"/>
<polygon points="177.5,2069.9 176.4,2065.4 178.6,2065.4" fill="#444"/>
<text x="176.3" y="2039.1" font-size="8.6" text-anchor="middle" transform="rotate(-90 176.3 2039.1)">ø50</text>
<line x1="191" y1="2031.4" x2="211" y2="2031.4" stroke="#5a5a5a" stroke-width="0.6"/>
<line x1="191" y1="2047.9" x2="211" y2="2047.9" stroke="#5a5a5a" stroke-width="0.6"/>
<line x1="194" y1="2031.4" x2="194" y2="2047.9" stroke="#666" stroke-width="0.6"/>
<polygon points="194,2031.4 195.1,2035.4 192.9,2035.4" fill="#444"/>
<polygon points="194,2047.9 192.9,2043.9 195.1,2043.9" fill="#444"/>
<text x="190.6" y="2039.1" font-size="8.6" text-anchor="middle" transform="rotate(-90 190.6 2039.1)">ø14</text>
<line x1="297.8" y1="1886.9" x2="368.7" y2="1886.9" stroke="#5a5a5a" stroke-width="0.6"/>
<line x1="297.8" y1="2023.8" x2="368.7" y2="2023.8" stroke="#5a5a5a" stroke-width="0.6"/>
<line x1="293.1" y1="1900" x2="350" y2="1900" stroke="#5a5a5a" stroke-width="0.6"/>
<line x1="293.1" y1="2010.5" x2="350" y2="2010.5" stroke="#5a5a5a" stroke-width="0.6"/>
<line x1="284.3" y1="1945.6" x2="316.5" y2="1945.6" stroke="#5a5a5a" stroke-width="0.6"/>
<line x1="284.3" y1="1964.9" x2="316.5" y2="1964.9" stroke="#5a5a5a" stroke-width="0.6"/>
<line x1="365.3" y1="1886.9" x2="365.3" y2="2023.8" stroke="#666" stroke-width="0.6"/>
<polygon points="365.3,1886.9 366.4,1891.4 364.2,1891.4" fill="#444"/>
<polygon points="365.3,2023.8 364.2,2019.3 366.4,2019.3" fill="#444"/>
<text x="363.2" y="1968" font-size="9.2" transform="rotate(-90 363.2 1968)">ø114</text>
<text x="359.6" y="1946" font-size="4" transform="rotate(-90 359.6 1946)" fill="#777">-0.015</text>
<text x="363.6" y="1946" font-size="4" transform="rotate(-90 363.6 1946)" fill="#777">-0.01</text>
<line x1="347.2" y1="1900" x2="347.2" y2="2010.5" stroke="#666" stroke-width="0.6"/>
<polygon points="347.2,1900 348.3,1904.5 346.1,1904.5" fill="#444"/>
<polygon points="347.2,2010.5 346.1,2006 348.3,2006" fill="#444"/>
<text x="345.2" y="1968" font-size="9.2" transform="rotate(-90 345.2 1968)">ø92</text>
<text x="341.6" y="1951" font-size="4" transform="rotate(-90 341.6 1951)" fill="#777">+0.03</text>
<text x="345.6" y="1951" font-size="4" transform="rotate(-90 345.6 1951)" fill="#777">+0.01</text>
<line x1="331.7" y1="1917.9" x2="331.7" y2="1992.7" stroke="#666" stroke-width="0.6"/>
<polygon points="331.7,1917.9 332.8,1922.4 330.6,1922.4" fill="#444"/>
<polygon points="331.7,1992.7 330.6,1988.2 332.8,1988.2" fill="#444"/>
<text x="330" y="1968" font-size="9.2" transform="rotate(-90 330 1968)">ø62</text>
<text x="326.4" y="1951" font-size="4" transform="rotate(-90 326.4 1951)" fill="#777">+0.03</text>
<text x="330.4" y="1951" font-size="4" transform="rotate(-90 330.4 1951)" fill="#777">+0.01</text>
<line x1="313.2" y1="1945.6" x2="313.2" y2="1964.9" stroke="#666" stroke-width="0.6"/>
<polygon points="313.2,1945.6 314.3,1949.6 312.1,1949.6" fill="#444"/>
<polygon points="313.2,1964.9 312.1,1960.9 314.3,1960.9" fill="#444"/>
<text x="311.2" y="1956.2" font-size="10.4" text-anchor="middle" transform="rotate(-90 311.2 1956.2)">14</text>
<path d="M318.9 2049.8 H382.2 L386.8 2054.4 V2117.7 L382.2 2122.3 H318.9 L314.3 2117.7 V2054.4 Z" fill="#cdd4ec" stroke="#1c1c1c" stroke-width="1.2"/>
<circle cx="350.7" cy="2085.9" r="30.1" fill="none" stroke="#1c1c1c" stroke-width="1.1"/>
<circle cx="350.7" cy="2085.9" r="11.1" fill="none" stroke="#1c1c1c" stroke-width="1"/>
<circle cx="350.7" cy="2085.9" r="8.8" fill="#e4e8f6" stroke="#555" stroke-width="0.6"/>
<line x1="350.7" y1="2046" x2="350.7" y2="2126" stroke="#666" stroke-width="0.4" stroke-dasharray="9 2 2 2"/>
<line x1="310.5" y1="2085.9" x2="391" y2="2085.9" stroke="#666" stroke-width="0.4" stroke-dasharray="9 2 2 2"/>
<circle cx="320.8" cy="2055.8" r="2.2" fill="#e4e8f6" stroke="#333" stroke-width="0.7"/>
<line x1="318.16" y1="2058.44" x2="323.44" y2="2053.16" stroke="#333" stroke-width="0.5"/>
<circle cx="320.8" cy="2116" r="2.2" fill="#e4e8f6" stroke="#333" stroke-width="0.7"/>
<line x1="318.16" y1="2118.64" x2="323.44" y2="2113.36" stroke="#333" stroke-width="0.5"/>
<circle cx="380.3" cy="2055.8" r="2.2" fill="#e4e8f6" stroke="#333" stroke-width="0.7"/>
<line x1="377.66" y1="2058.44" x2="382.94" y2="2053.16" stroke="#333" stroke-width="0.5"/>
<circle cx="380.3" cy="2116" r="2.2" fill="#e4e8f6" stroke="#333" stroke-width="0.7"/>
<line x1="377.66" y1="2118.64" x2="382.94" y2="2113.36" stroke="#333" stroke-width="0.5"/>
<line x1="314.3" y1="2034.5" x2="314.3" y2="2049" stroke="#5a5a5a" stroke-width="0.6"/>
<line x1="386.8" y1="2034.5" x2="386.8" y2="2049" stroke="#5a5a5a" stroke-width="0.6"/>
<line x1="314.3" y1="2038.9" x2="386.8" y2="2038.9" stroke="#666" stroke-width="0.6"/>
<polygon points="314.3,2038.9 318.8,2037.8 318.8,2040" fill="#444"/>
<polygon points="386.8,2038.9 382.3,2040 382.3,2037.8" fill="#444"/>
<text x="350.7" y="2036.2" font-size="8.6" text-anchor="middle">60</text>
<line x1="387.5" y1="2049.8" x2="405" y2="2049.8" stroke="#5a5a5a" stroke-width="0.6"/>
<line x1="387.5" y1="2122.3" x2="405" y2="2122.3" stroke="#5a5a5a" stroke-width="0.6"/>
<line x1="401.6" y1="2049.8" x2="401.6" y2="2122.3" stroke="#666" stroke-width="0.6"/>
<polygon points="401.6,2049.8 402.7,2054.3 400.5,2054.3" fill="#444"/>
<polygon points="401.6,2122.3 400.5,2117.8 402.7,2117.8" fill="#444"/>
<text x="399.6" y="2085.9" font-size="8.6" text-anchor="middle" transform="rotate(-90 399.6 2085.9)">60</text>
<text x="244" y="2095.5" font-size="9.2" textLength="62.7" lengthAdjust="spacingAndGlyphs">(4)M4xP0.7x8L</text>
<polyline points="242.1,2100.2 309.5,2100.2 320.8,2116" fill="none" stroke="#5a5a5a" stroke-width="0.6"/>
<text x="244.9" y="2110.6" font-size="9.2" textLength="47.5" lengthAdjust="spacingAndGlyphs">P.C.D.  ø70</text>
<path d="M456.1 1877 H593.7 Q603.3 1877 603.3 1886.6 V2025 Q603.3 2033.8 594.3 2033.8 H568 Q560.5 2033.8 560.5 2041.5 V2072 L556.5 2076.1 H492.5 L488.5 2072 V2041.5 Q488.5 2033.8 481 2033.8 H455.5 Q446.5 2033.8 446.5 2025 V1886.6 Q446.5 1877 456.1 1877 Z" fill="#cdd4ec" stroke="#1c1c1c" stroke-width="1.2"/>
<path d="M500.3 2031.8 Q504 2035 505 2043 A20 18.5 0 0 0 544.8 2043 Q545.8 2035 549.5 2031.8" fill="none" stroke="#1c1c1c" stroke-width="1.1"/>
<circle cx="524.9" cy="1955.7" r="77.8" fill="none" stroke="#1c1c1c" stroke-width="1.2"/>
<circle cx="524.9" cy="1955.7" r="74" fill="none" stroke="#444" stroke-width="0.5"/>
<circle cx="524.9" cy="1955.7" r="68" fill="none" stroke="#555" stroke-width="0.5"/>
<circle cx="524.9" cy="1955.7" r="62.7" fill="none" stroke-dasharray="7 3" stroke="#555" stroke-width="0.5"/>
<circle cx="524.9" cy="1955.7" r="55.5" fill="none" stroke="#1c1c1c" stroke-width="1.2"/>
<circle cx="524.9" cy="1955.7" r="37.7" fill="#fff" stroke="#1c1c1c" stroke-width="1.3"/>
<circle cx="524.9" cy="1893" r="2.5" fill="#dfe3f3" stroke="#333" stroke-width="0.7"/>
<circle cx="524.9" cy="1893" r="1.2" fill="none" stroke="#333" stroke-width="0.4"/>
<circle cx="579.2" cy="1924.35" r="2.5" fill="#dfe3f3" stroke="#333" stroke-width="0.7"/>
<circle cx="579.2" cy="1924.35" r="1.2" fill="none" stroke="#333" stroke-width="0.4"/>
<circle cx="579.2" cy="1987.05" r="2.5" fill="#dfe3f3" stroke="#333" stroke-width="0.7"/>
<circle cx="579.2" cy="1987.05" r="1.2" fill="none" stroke="#333" stroke-width="0.4"/>
<circle cx="524.9" cy="2018.4" r="2.5" fill="#dfe3f3" stroke="#333" stroke-width="0.7"/>
<circle cx="524.9" cy="2018.4" r="1.2" fill="none" stroke="#333" stroke-width="0.4"/>
<circle cx="470.6" cy="1987.05" r="2.5" fill="#dfe3f3" stroke="#333" stroke-width="0.7"/>
<circle cx="470.6" cy="1987.05" r="1.2" fill="none" stroke="#333" stroke-width="0.4"/>
<circle cx="470.6" cy="1924.35" r="2.5" fill="#dfe3f3" stroke="#333" stroke-width="0.7"/>
<circle cx="470.6" cy="1924.35" r="1.2" fill="none" stroke="#333" stroke-width="0.4"/>
<circle cx="462" cy="1955.7" r="2.8" fill="#fff" stroke="#1c1c1c" stroke-width="0.7"/>
<path d="M462 1955.7 L459.2 1955.7 A2.8 2.8 0 0 1 462 1952.9 Z M462 1955.7 L464.8 1955.7 A2.8 2.8 0 0 1 462 1958.5 Z" fill="#111"/>
<circle cx="587.8" cy="1955.7" r="2.8" fill="#fff" stroke="#1c1c1c" stroke-width="0.7"/>
<path d="M587.8 1955.7 L585 1955.7 A2.8 2.8 0 0 1 587.8 1952.9 Z M587.8 1955.7 L590.6 1955.7 A2.8 2.8 0 0 1 587.8 1958.5 Z" fill="#111"/>
<circle cx="457.7" cy="1888.4" r="5.5" fill="#e4e8f6" stroke="#333" stroke-width="0.7"/>
<circle cx="590.9" cy="1888.4" r="5.5" fill="#e4e8f6" stroke="#333" stroke-width="0.7"/>
<circle cx="458" cy="2021.1" r="5.5" fill="#e4e8f6" stroke="#333" stroke-width="0.7"/>
<line x1="451.5" y1="2021.1" x2="464.5" y2="2021.1" stroke="#555" stroke-width="0.4"/>
<line x1="458" y1="2014.6" x2="458" y2="2027.6" stroke="#555" stroke-width="0.4"/>
<circle cx="590.8" cy="2021.1" r="5.5" fill="#e4e8f6" stroke="#333" stroke-width="0.7"/>
<line x1="584.3" y1="2021.1" x2="597.3" y2="2021.1" stroke="#555" stroke-width="0.4"/>
<line x1="590.8" y1="2014.6" x2="590.8" y2="2027.6" stroke="#555" stroke-width="0.4"/>
<circle cx="452.4" cy="1901.2" r="2.8" fill="#fff" stroke="#1c1c1c" stroke-width="0.7"/>
<path d="M452.4 1901.2 L449.6 1901.2 A2.8 2.8 0 0 1 452.4 1898.4 Z M452.4 1901.2 L455.2 1901.2 A2.8 2.8 0 0 1 452.4 1904 Z" fill="#111"/>
<circle cx="596.4" cy="2009.2" r="2.8" fill="#fff" stroke="#1c1c1c" stroke-width="0.7"/>
<path d="M596.4 2009.2 L593.6 2009.2 A2.8 2.8 0 0 1 596.4 2006.4 Z M596.4 2009.2 L599.2 2009.2 A2.8 2.8 0 0 1 596.4 2012 Z" fill="#111"/>
<path d="M542.2 2034.6 l1.6 1.6 l-1.6 1.6 l-1.6 -1.6 Z" fill="#555" stroke="#333" stroke-width="0.5"/>
<path d="M542.2 2042.6 l1.6 1.6 l-1.6 1.6 l-1.6 -1.6 Z" fill="#555" stroke="#333" stroke-width="0.5"/>
<line x1="524.9" y1="1869" x2="524.9" y2="2080" stroke="#666" stroke-width="0.5" stroke-dasharray="9 2 2 2"/>
<line x1="423.9" y1="1955.7" x2="625" y2="1955.7" stroke="#666" stroke-width="0.5" stroke-dasharray="9 2 2 2"/>
<line x1="406.5" y1="2039.8" x2="606" y2="2039.8" stroke="#666" stroke-width="0.5" stroke-dasharray="9 2 2 2"/>
<line x1="446.6" y1="1820.5" x2="446.6" y2="1884" stroke="#5a5a5a" stroke-width="0.6"/>
<line x1="603.4" y1="1820.5" x2="603.4" y2="1884" stroke="#5a5a5a" stroke-width="0.6"/>
<line x1="452.7" y1="1842" x2="452.7" y2="1895" stroke="#5a5a5a" stroke-width="0.6"/>
<line x1="596.8" y1="1842" x2="596.8" y2="1895" stroke="#5a5a5a" stroke-width="0.6"/>
<line x1="458.4" y1="1862" x2="458.4" y2="1884" stroke="#5a5a5a" stroke-width="0.6"/>
<line x1="591" y1="1862" x2="591" y2="1884" stroke="#5a5a5a" stroke-width="0.6"/>
<line x1="446.6" y1="1824.7" x2="603.4" y2="1824.7" stroke="#666" stroke-width="0.6"/>
<polygon points="446.6,1824.7 451.1,1823.6 451.1,1825.8" fill="#444"/>
<polygon points="603.4,1824.7 598.9,1825.8 598.9,1823.6" fill="#444"/>
<text x="527.2" y="1822.5" font-size="10.4" text-anchor="middle">130</text>
<line x1="452.7" y1="1846.2" x2="596.8" y2="1846.2" stroke="#666" stroke-width="0.6"/>
<polygon points="452.7,1846.2 457.2,1845.1 457.2,1847.3" fill="#444"/>
<polygon points="596.8,1846.2 592.3,1847.3 592.3,1845.1" fill="#444"/>
<text x="505.2" y="1842.6" font-size="10.4">120</text>
<text x="524.05" y="1842.6" font-size="8.8">± 0.02</text>
<line x1="458.4" y1="1866" x2="591" y2="1866" stroke="#666" stroke-width="0.6"/>
<polygon points="458.4,1866 462.9,1864.9 462.9,1867.1" fill="#444"/>
<polygon points="591,1866 586.5,1867.1 586.5,1864.9" fill="#444"/>
<text x="505.2" y="1861.9" font-size="10.4">110</text>
<text x="523.28" y="1861.9" font-size="8.8">± 0.05</text>
<text x="404" y="1848.1" font-size="9.6" textLength="28" lengthAdjust="spacingAndGlyphs">(4) ø9</text>
<polyline points="432,1850.9 457.6,1888" fill="none" stroke="#5a5a5a" stroke-width="0.6"/>
<text x="366.9" y="1868.7" font-size="9.2" textLength="22" lengthAdjust="spacingAndGlyphs">(2)ø5</text>
<text x="408.7" y="1868.7" font-size="9.2" textLength="15.1" lengthAdjust="spacingAndGlyphs">PIN</text>
<text x="390.8" y="1864.4" font-size="4.9" textLength="15.9" lengthAdjust="spacingAndGlyphs">+0.012</text>
<text x="390.8" y="1868.9" font-size="4.9">+0</text>
<polyline points="367.7,1873.7 423.2,1873.7 450.7,1899.5" fill="none" stroke="#5a5a5a" stroke-width="0.6"/>
<line x1="400.7" y1="1901.3" x2="448" y2="1901.3" stroke="#5a5a5a" stroke-width="0.6"/>
<line x1="400.7" y1="2009.5" x2="449" y2="2009.5" stroke="#5a5a5a" stroke-width="0.6"/>
<line x1="404.2" y1="1901.3" x2="404.2" y2="2009.5" stroke="#666" stroke-width="0.6"/>
<polygon points="404.2,1901.3 405.3,1905.8 403.1,1905.8" fill="#444"/>
<polygon points="404.2,2009.5 403.1,2005 405.3,2005" fill="#444"/>
<g transform="translate(401 1972.5) rotate(-90)">
<text x="0" y="0" font-size="10.4">90</text>
<text x="12.57" y="0" font-size="8.8">± 0.02</text>
</g>
<line x1="427.3" y1="1955.7" x2="427.3" y2="2039.8" stroke="#666" stroke-width="0.6"/>
<polygon points="427.3,1955.7 428.4,1960.2 426.2,1960.2" fill="#444"/>
<polygon points="427.3,2039.8 426.2,2035.3 428.4,2035.3" fill="#444"/>
<text x="424.8" y="1983" font-size="10.4" text-anchor="middle" transform="rotate(-90 424.8 1983)">69.98</text>
<text x="629.5" y="1837.9" font-size="9.2" textLength="63.3" lengthAdjust="spacingAndGlyphs">(6)M5xP0.8x8L</text>
<polyline points="695,1840.7 624.9,1840.7 579.5,1923.7" fill="none" stroke="#5a5a5a" stroke-width="0.6"/>
<text x="631.2" y="1850.9" font-size="9.2" textLength="52.2" lengthAdjust="spacingAndGlyphs">P.C.D.  ø104</text>
<text x="629.5" y="1862.7" font-size="9.2" textLength="21.5" lengthAdjust="spacingAndGlyphs">(2)ø5</text>
<text x="671.6" y="1862.7" font-size="9.2" textLength="29.4" lengthAdjust="spacingAndGlyphs">PINx6L</text>
<text x="654.3" y="1858.4" font-size="4.9" textLength="15.9" lengthAdjust="spacingAndGlyphs">+0.012</text>
<text x="654.3" y="1862.9" font-size="4.9">+0</text>
<polyline points="701.8,1866 626.2,1866 588.5,1954" fill="none" stroke="#5a5a5a" stroke-width="0.6"/>
<text x="631.2" y="1875.6" font-size="9.2" textLength="52.2" lengthAdjust="spacingAndGlyphs">P.C.D.  ø104</text>
<line x1="593.2" y1="1877" x2="675.7" y2="1877" stroke="#5a5a5a" stroke-width="0.6"/>
<line x1="597" y1="1889.4" x2="641.4" y2="1889.4" stroke="#5a5a5a" stroke-width="0.6"/>
<line x1="602.6" y1="2021.1" x2="641.6" y2="2021.1" stroke="#5a5a5a" stroke-width="0.6"/>
<line x1="589.5" y1="2033.5" x2="657.9" y2="2033.5" stroke="#5a5a5a" stroke-width="0.6"/>
<line x1="560.6" y1="2075.8" x2="675.3" y2="2075.8" stroke="#5a5a5a" stroke-width="0.6"/>
<line x1="544" y1="2036.2" x2="624.3" y2="2036.2" stroke="#5a5a5a" stroke-width="0.6"/>
<line x1="544" y1="2043.7" x2="624.3" y2="2043.7" stroke="#5a5a5a" stroke-width="0.6"/>
<line x1="621.7" y1="1955.4" x2="621.7" y2="2035.7" stroke="#666" stroke-width="0.6"/>
<polygon points="621.7,1955.4 622.8,1959.9 620.6,1959.9" fill="#444"/>
<polygon points="621.7,2035.7 620.6,2031.2 622.8,2031.2" fill="#444"/>
<text x="619.9" y="1985.7" font-size="10.4" text-anchor="middle" transform="rotate(-90 619.9 1985.7)">67.5</text>
<line x1="621.7" y1="2035.7" x2="621.7" y2="2051.9" stroke="#5a5a5a" stroke-width="0.6"/>
<polygon points="621.7,2043.7 622.8,2047.7 620.6,2047.7" fill="#444"/>
<text x="619.9" y="2040" font-size="10.4" text-anchor="middle" transform="rotate(-90 619.9 2040)">6</text>
<line x1="638.4" y1="1889.4" x2="638.4" y2="2021.1" stroke="#666" stroke-width="0.6"/>
<polygon points="638.4,1889.4 639.5,1893.9 637.3,1893.9" fill="#444"/>
<polygon points="638.4,2021.1 637.3,2016.6 639.5,2016.6" fill="#444"/>
<g transform="translate(635 1977.3) rotate(-90)">
<text x="0" y="0" font-size="10.4">110</text>
<text x="17.58" y="0" font-size="8.8">± 0.05</text>
</g>
<line x1="654.2" y1="1877" x2="654.2" y2="2033.5" stroke="#666" stroke-width="0.6"/>
<polygon points="654.2,1877 655.3,1881.5 653.1,1881.5" fill="#444"/>
<polygon points="654.2,2033.5 653.1,2029 655.3,2029" fill="#444"/>
<g transform="translate(650.9 1977.3) rotate(-90)">
<text x="0" y="0" font-size="10.4">130</text>
<text x="18.35" y="0" font-size="8.8">± 0.05</text>
</g>
<line x1="672" y1="1877" x2="672" y2="2075.8" stroke="#666" stroke-width="0.6"/>
<polygon points="672,1877 673.1,1881.5 670.9,1881.5" fill="#444"/>
<polygon points="672,2075.8 670.9,2071.3 673.1,2071.3" fill="#444"/>
<text x="669.3" y="1978.1" font-size="10.4" text-anchor="middle" transform="rotate(-90 669.3 1978.1)">164.98</text>
<line x1="524.9" y1="2078" x2="524.9" y2="2096.5" stroke="#5a5a5a" stroke-width="0.6"/>
<line x1="542.2" y1="2046" x2="542.2" y2="2096.5" stroke="#5a5a5a" stroke-width="0.6"/>
<line x1="500.1" y1="2092.6" x2="542.2" y2="2092.6" stroke="#5a5a5a" stroke-width="0.6"/>
<polygon points="524.9,2092.6 528.9,2091.5 528.9,2093.7" fill="#444"/>
<polygon points="542.2,2092.6 538.2,2093.7 538.2,2091.5" fill="#444"/>
<text x="511.1" y="2089.5" font-size="8.8" text-anchor="middle">15.5</text>
<line x1="488.5" y1="2078.5" x2="488.5" y2="2118" stroke="#5a5a5a" stroke-width="0.6"/>
<line x1="560.5" y1="2078.5" x2="560.5" y2="2118" stroke="#5a5a5a" stroke-width="0.6"/>
<line x1="488.5" y1="2114.3" x2="560.5" y2="2114.3" stroke="#666" stroke-width="0.6"/>
<polygon points="488.5,2114.3 493,2113.2 493,2115.4" fill="#444"/>
<polygon points="560.5,2114.3 556,2115.4 556,2113.2" fill="#444"/>
<text x="524.9" y="2110.2" font-size="8.8" text-anchor="middle">60</text>
<text x="594.3" y="2093.2" font-size="9.2" textLength="59.3" lengthAdjust="spacingAndGlyphs">2-M3xP0.5x5L</text>
<polyline points="653.6,2097.5 591.3,2097.5 543,2045" fill="none" stroke="#333" stroke-width="0.6"/>
</g>
<g id="ht200">
<text x="7.3" y="2227" font-size="21.5" textLength="87.9" lengthAdjust="spacingAndGlyphs" fill="#111">HT-200</text>
<rect x="6.6" y="2230.1" width="89.2" height="7.6" fill="#6b7fc6"/>
<line x1="102.7" y1="2234" x2="696" y2="2234" stroke="#8a8a8a" stroke-width="1"/>
<rect x="8.8" y="2342.7" width="135.2" height="135.5" fill="#fff" rx="7" stroke="#939393" stroke-width="1.2"/>
<path d="M81.49 2372.07 H91.69 V2374.24 H97.77 V2388.35 H81.49 Z" fill="#cdd4ec" stroke="#7f86ad" stroke-width="0.6"/>
<circle cx="84.74" cy="2376.41" r="1.3" fill="#fff" stroke="#333" stroke-width="0.6"/>
<circle cx="84.74" cy="2384.44" r="1.3" fill="#fff" stroke="#333" stroke-width="0.6"/>
<g transform="rotate(-12.5 23.96 2386.4)">
<text x="23.96" y="2386.4" font-size="7.8" textLength="40" lengthAdjust="spacingAndGlyphs">2-M3xP0.5</text>
</g>
<line x1="23.96" y1="2390.09" x2="84.31" y2="2376.85" stroke="#444" stroke-width="0.6"/>
<line x1="77.14" y1="2358.61" x2="77.14" y2="2392.04" stroke="#5a5a5a" stroke-width="0.5"/>
<polygon points="77.14,2376.41 76.04,2373.41 78.24,2373.41" fill="#444"/>
<polygon points="77.14,2384.44 78.24,2387.44 76.04,2387.44" fill="#444"/>
<line x1="74.97" y1="2376.41" x2="81.49" y2="2376.41" stroke="#5a5a5a" stroke-width="0.5"/>
<line x1="74.97" y1="2384.44" x2="81.49" y2="2384.44" stroke="#5a5a5a" stroke-width="0.5"/>
<text x="76.06" y="2362.3" font-size="7.8" text-anchor="middle" transform="rotate(-90 76.06 2362.3)">7</text>
<line x1="104.71" y1="2345.59" x2="104.71" y2="2389" stroke="#5a5a5a" stroke-width="0.5"/>
<polygon points="104.71,2372.07 103.61,2369.07 105.81,2369.07" fill="#444"/>
<polygon points="104.71,2388.35 105.81,2391.35 103.61,2391.35" fill="#444"/>
<line x1="98.85" y1="2372.07" x2="106.88" y2="2372.07" stroke="#5a5a5a" stroke-width="0.5"/>
<line x1="98.85" y1="2388.35" x2="106.88" y2="2388.35" stroke="#5a5a5a" stroke-width="0.5"/>
<text x="102.11" y="2357.96" font-size="7.8" text-anchor="middle" transform="rotate(-90 102.11 2357.96)">14.5</text>
<text x="110.36" y="2389.87" font-size="7.8" text-anchor="middle">7</text>
<line x1="80.4" y1="2393.34" x2="115.13" y2="2393.34" stroke="#5a5a5a" stroke-width="0.5"/>
<line x1="89.08" y1="2391.17" x2="89.08" y2="2399.85" stroke="#5a5a5a" stroke-width="0.5"/>
<line x1="97.77" y1="2391.17" x2="97.77" y2="2399.85" stroke="#5a5a5a" stroke-width="0.5"/>
<polygon points="89.08,2393.34 86.08,2394.44 86.08,2392.24" fill="#444"/>
<polygon points="97.77,2393.34 100.77,2392.24 100.77,2394.44" fill="#444"/>
<path d="M46.76 2400.29 H48.93 V2415.48 H63.47 V2417.65 H46.76 Z" fill="#cdd4ec" stroke="#7f86ad" stroke-width="0.6"/>
<line x1="38.07" y1="2397.68" x2="72.8" y2="2397.68" stroke="#5a5a5a" stroke-width="0.5"/>
<polygon points="46.76,2397.68 43.76,2398.78 43.76,2396.58" fill="#444"/>
<polygon points="48.93,2397.68 51.93,2396.58 51.93,2398.78" fill="#444"/>
<text x="64.77" y="2395.95" font-size="7.8" text-anchor="middle">1.5</text>
<line x1="32.65" y1="2400.29" x2="46.11" y2="2400.29" stroke="#5a5a5a" stroke-width="0.5"/>
<line x1="32.65" y1="2417.65" x2="46.11" y2="2417.65" stroke="#5a5a5a" stroke-width="0.5"/>
<line x1="35.9" y1="2400.29" x2="35.9" y2="2417.65" stroke="#666" stroke-width="0.5"/>
<polygon points="35.9,2400.29 37,2403.29 34.8,2403.29" fill="#444"/>
<polygon points="35.9,2417.65 34.8,2414.65 37,2414.65" fill="#444"/>
<text x="33.08" y="2409.41" font-size="7.8" text-anchor="middle" transform="rotate(-90 33.08 2409.41)">15</text>
<g transform="rotate(-16 59.78 2410.71)">
<text x="59.78" y="2410.71" font-size="7.8" textLength="18" lengthAdjust="spacingAndGlyphs">R1.5</text>
</g>
<line x1="60.87" y1="2416.57" x2="91.69" y2="2403.11" stroke="#444" stroke-width="0.6"/>
<circle cx="51.1" cy="2416.57" r="0.8" fill="#fff" stroke="#444" stroke-width="0.4"/>
<circle cx="54.79" cy="2416.57" r="0.8" fill="#fff" stroke="#444" stroke-width="0.4"/>
<circle cx="59.78" cy="2416.57" r="0.8" fill="#fff" stroke="#444" stroke-width="0.4"/>
<line x1="50.01" y1="2416.57" x2="63.47" y2="2416.57" stroke="#666" stroke-width="0.4"/>
<rect x="89.08" y="2400.29" width="8.68" height="17.36" fill="#cdd4ec" stroke="#7f86ad" stroke-width="0.6"/>
<circle cx="93.42" cy="2403.54" r="1.7" fill="#fff" stroke="#333" stroke-width="0.6"/>
<circle cx="93.42" cy="2403.54" r="0.8" fill="none" stroke="#333" stroke-width="0.4"/>
<circle cx="93.42" cy="2410.06" r="1.7" fill="#fff" stroke="#333" stroke-width="0.6"/>
<circle cx="93.42" cy="2410.06" r="0.8" fill="none" stroke="#333" stroke-width="0.4"/>
<line x1="107.53" y1="2393.78" x2="107.53" y2="2420.26" stroke="#5a5a5a" stroke-width="0.5"/>
<polygon points="107.53,2403.54 106.43,2400.54 108.63,2400.54" fill="#444"/>
<polygon points="107.53,2410.06 108.63,2413.06 106.43,2413.06" fill="#444"/>
<line x1="95.6" y1="2403.54" x2="110.36" y2="2403.54" stroke="#5a5a5a" stroke-width="0.5"/>
<line x1="95.6" y1="2410.06" x2="110.36" y2="2410.06" stroke="#5a5a5a" stroke-width="0.5"/>
<text x="105.58" y="2407.89" font-size="7.8" text-anchor="middle" transform="rotate(-90 105.58 2407.89)">6</text>
<line x1="81.49" y1="2416.57" x2="89.08" y2="2416.57" stroke="#666" stroke-width="0.4"/>
<line x1="47.19" y1="2418.74" x2="47.19" y2="2451.3" stroke="#5a5a5a" stroke-width="0.5"/>
<line x1="64.12" y1="2418.74" x2="64.12" y2="2451.3" stroke="#5a5a5a" stroke-width="0.5"/>
<line x1="47.19" y1="2448.04" x2="64.12" y2="2448.04" stroke="#666" stroke-width="0.5"/>
<polygon points="47.19,2448.04 50.19,2446.94 50.19,2449.14" fill="#444"/>
<polygon points="64.12,2448.04 61.12,2449.14 61.12,2446.94" fill="#444"/>
<text x="55.66" y="2445.87" font-size="7.8" text-anchor="middle">14.5</text>
<line x1="81.49" y1="2418.74" x2="81.49" y2="2451.3" stroke="#5a5a5a" stroke-width="0.5"/>
<line x1="97.77" y1="2418.74" x2="97.77" y2="2451.3" stroke="#5a5a5a" stroke-width="0.5"/>
<line x1="81.49" y1="2448.04" x2="123.81" y2="2448.04" stroke="#5a5a5a" stroke-width="0.5"/>
<polygon points="81.49,2448.04 84.49,2446.94 84.49,2449.14" fill="#444"/>
<polygon points="97.77,2448.04 94.77,2449.14 94.77,2446.94" fill="#444"/>
<text x="110.36" y="2445.87" font-size="7.8" text-anchor="middle">13.5</text>
<text x="77" y="2468.9" font-size="9.6" text-anchor="middle" textLength="91.4" lengthAdjust="spacingAndGlyphs" fill="#333">HT-200感應器固定座</text>
<rect x="7.6" y="2509.7" width="134.8" height="136.2" fill="#fff" rx="7" stroke="#939393" stroke-width="1.2"/>
<rect x="79.23" y="2558.27" width="26.05" height="7.16" fill="#cdd4ec" rx="1.8" stroke="#7f86ad" stroke-width="0.6"/>
<circle cx="84.01" cy="2561.96" r="1.6" fill="#fff" stroke="#333" stroke-width="0.6"/>
<circle cx="100.5" cy="2561.96" r="1.6" fill="#fff" stroke="#333" stroke-width="0.6"/>
<line x1="79.23" y1="2535.47" x2="79.23" y2="2557.83" stroke="#5a5a5a" stroke-width="0.5"/>
<line x1="105.28" y1="2535.47" x2="105.28" y2="2557.83" stroke="#5a5a5a" stroke-width="0.5"/>
<line x1="79.23" y1="2538.3" x2="105.28" y2="2538.3" stroke="#666" stroke-width="0.5"/>
<polygon points="79.23,2538.3 82.23,2537.2 82.23,2539.4" fill="#444"/>
<polygon points="105.28,2538.3 102.28,2539.4 102.28,2537.2" fill="#444"/>
<text x="92.25" y="2536.13" font-size="7.8" text-anchor="middle">23</text>
<line x1="84.01" y1="2546.98" x2="84.01" y2="2560.87" stroke="#5a5a5a" stroke-width="0.5"/>
<line x1="100.5" y1="2546.98" x2="100.5" y2="2560.87" stroke="#5a5a5a" stroke-width="0.5"/>
<line x1="84.01" y1="2549.58" x2="100.5" y2="2549.58" stroke="#666" stroke-width="0.5"/>
<polygon points="84.01,2549.58 87.01,2548.48 87.01,2550.68" fill="#444"/>
<polygon points="100.5,2549.58 97.5,2550.68 97.5,2548.48" fill="#444"/>
<text x="92.25" y="2547.41" font-size="7.8" text-anchor="middle">14</text>
<line x1="118.74" y1="2531.78" x2="118.74" y2="2569.12" stroke="#5a5a5a" stroke-width="0.5"/>
<polygon points="118.74,2558.27 117.64,2555.27 119.84,2555.27" fill="#444"/>
<polygon points="118.74,2561.96 119.84,2564.96 117.64,2564.96" fill="#444"/>
<text x="116.13" y="2541.99" font-size="7.8" text-anchor="middle" transform="rotate(-90 116.13 2541.99)">2.6</text>
<line x1="131.76" y1="2548.5" x2="131.76" y2="2569.12" stroke="#5a5a5a" stroke-width="0.5"/>
<polygon points="131.76,2558.27 130.66,2555.27 132.86,2555.27" fill="#444"/>
<polygon points="131.76,2565.43 132.86,2568.43 130.66,2568.43" fill="#444"/>
<text x="129.15" y="2584.75" font-size="7.8" text-anchor="middle" transform="rotate(-90 129.15 2584.75)">6.5</text>
<line x1="106.36" y1="2558.27" x2="133.93" y2="2558.27" stroke="#5a5a5a" stroke-width="0.5"/>
<line x1="106.36" y1="2561.96" x2="133.93" y2="2561.96" stroke="#5a5a5a" stroke-width="0.5"/>
<line x1="106.36" y1="2565.43" x2="133.93" y2="2565.43" stroke="#5a5a5a" stroke-width="0.5"/>
<line x1="79.23" y1="2574.11" x2="105.28" y2="2574.11" stroke="#555" stroke-width="0.8"/>
<line x1="82.49" y1="2572.59" x2="82.49" y2="2575.63" stroke="#666" stroke-width="0.4"/>
<line x1="102.02" y1="2572.59" x2="102.02" y2="2575.63" stroke="#666" stroke-width="0.4"/>
<rect x="89.65" y="2574.11" width="5.21" height="15.63" fill="#cdd4ec" stroke="#7f86ad" stroke-width="0.6"/>
<line x1="89.65" y1="2590.82" x2="89.65" y2="2603.41" stroke="#5a5a5a" stroke-width="0.5"/>
<line x1="94.86" y1="2590.82" x2="94.86" y2="2603.41" stroke="#5a5a5a" stroke-width="0.5"/>
<line x1="80.32" y1="2601.24" x2="111.79" y2="2601.24" stroke="#5a5a5a" stroke-width="0.5"/>
<polygon points="89.65,2601.24 86.65,2602.34 86.65,2600.14" fill="#444"/>
<polygon points="94.86,2601.24 97.86,2600.14 97.86,2602.34" fill="#444"/>
<text x="107.88" y="2599.51" font-size="7.8" text-anchor="middle">5</text>
<path d="M39.07 2573.03 H46.67 V2589.74 H44.93 V2574.54 H39.07 Z" fill="#cdd4ec" stroke="#7f86ad" stroke-width="0.6"/>
<line x1="39.07" y1="2548.5" x2="39.07" y2="2572.37" stroke="#5a5a5a" stroke-width="0.5"/>
<line x1="46.67" y1="2548.5" x2="46.67" y2="2572.37" stroke="#5a5a5a" stroke-width="0.5"/>
<line x1="41.24" y1="2560.87" x2="41.24" y2="2572.37" stroke="#5a5a5a" stroke-width="0.5"/>
<line x1="29.31" y1="2550.67" x2="71.63" y2="2550.67" stroke="#5a5a5a" stroke-width="0.5"/>
<polygon points="39.07,2550.67 36.07,2551.77 36.07,2549.57" fill="#444"/>
<polygon points="46.67,2550.67 49.67,2549.57 49.67,2551.77" fill="#444"/>
<text x="61.87" y="2548.71" font-size="7.8" text-anchor="middle">6.5</text>
<line x1="32.56" y1="2563.04" x2="71.63" y2="2563.04" stroke="#5a5a5a" stroke-width="0.5"/>
<polygon points="41.24,2563.04 38.24,2564.14 38.24,2561.94" fill="#444"/>
<polygon points="46.67,2563.04 49.67,2561.94 49.67,2564.14" fill="#444"/>
<text x="61.87" y="2561.09" font-size="7.8" text-anchor="middle">3.9</text>
<line x1="30.39" y1="2566.95" x2="30.39" y2="2582.58" stroke="#5a5a5a" stroke-width="0.5"/>
<polygon points="30.39,2573.03 29.29,2570.03 31.49,2570.03" fill="#444"/>
<polygon points="30.39,2574.76 31.49,2577.76 29.29,2577.76" fill="#444"/>
<line x1="28.22" y1="2573.46" x2="37.99" y2="2573.46" stroke="#5a5a5a" stroke-width="0.5"/>
<text x="27.57" y="2561.52" font-size="7.8" text-anchor="middle" transform="rotate(-90 27.57 2561.52)">1</text>
<line x1="19.54" y1="2573.46" x2="27.57" y2="2573.46" stroke="#5a5a5a" stroke-width="0.5"/>
<line x1="19.54" y1="2589.74" x2="44.07" y2="2589.74" stroke="#5a5a5a" stroke-width="0.5"/>
<line x1="22.36" y1="2573.46" x2="22.36" y2="2589.74" stroke="#666" stroke-width="0.5"/>
<polygon points="22.36,2573.46 23.46,2576.46 21.26,2576.46" fill="#444"/>
<polygon points="22.36,2589.74 21.26,2586.74 23.46,2586.74" fill="#444"/>
<text x="19.54" y="2582.14" font-size="7.8" text-anchor="middle" transform="rotate(-90 19.54 2582.14)">14.5</text>
<line x1="52.1" y1="2593" x2="93.34" y2="2552.19" stroke="#444" stroke-width="0.6"/>
<text x="59.26" y="2582.58" font-size="7.8" text-anchor="middle" transform="rotate(-45 59.26 2582.58)">2-ø3.5</text>
<text x="76.6" y="2636.6" font-size="9.6" text-anchor="middle" textLength="62.1" lengthAdjust="spacingAndGlyphs" fill="#333">HT-200感應片</text>
<line x1="195.9" y1="2306" x2="195.9" y2="2496" stroke="#5a5a5a" stroke-width="0.6"/>
<line x1="248.2" y1="2306" x2="248.2" y2="2357.5" stroke="#5a5a5a" stroke-width="0.6"/>
<line x1="301.8" y1="2306" x2="301.8" y2="2523.2" stroke="#777" stroke-width="0.6"/>
<line x1="282.6" y1="2330" x2="282.6" y2="2357.5" stroke="#5a5a5a" stroke-width="0.6"/>
<line x1="261.9" y1="2345" x2="261.9" y2="2357.5" stroke="#5a5a5a" stroke-width="0.6"/>
<line x1="195.9" y1="2310.2" x2="248.2" y2="2310.2" stroke="#666" stroke-width="0.6"/>
<polygon points="195.9,2310.2 200.4,2309.1 200.4,2311.3" fill="#444"/>
<polygon points="248.2,2310.2 243.7,2311.3 243.7,2309.1" fill="#444"/>
<text x="223.2" y="2308.3" font-size="10" text-anchor="middle">58</text>
<line x1="248.2" y1="2310.2" x2="301.8" y2="2310.2" stroke="#666" stroke-width="0.6"/>
<polygon points="248.2,2310.2 252.7,2309.1 252.7,2311.3" fill="#444"/>
<polygon points="301.8,2310.2 297.3,2311.3 297.3,2309.1" fill="#444"/>
<text x="275.4" y="2308.3" font-size="10" text-anchor="middle">60</text>
<line x1="248.2" y1="2334.4" x2="282.6" y2="2334.4" stroke="#666" stroke-width="0.6"/>
<polygon points="248.2,2334.4 252.7,2333.3 252.7,2335.5" fill="#444"/>
<polygon points="282.6,2334.4 278.1,2335.5 278.1,2333.3" fill="#444"/>
<text x="265.8" y="2332.2" font-size="10" text-anchor="middle">38</text>
<line x1="248.2" y1="2349.3" x2="261.9" y2="2349.3" stroke="#666" stroke-width="0.6"/>
<polygon points="248.2,2349.3 252.2,2348.2 252.2,2350.4" fill="#444"/>
<polygon points="261.9,2349.3 257.9,2350.4 257.9,2348.2" fill="#444"/>
<text x="255.6" y="2346.8" font-size="10" text-anchor="middle">15</text>
<line x1="291.4" y1="2363.3" x2="324.3" y2="2363.3" stroke="#5a5a5a" stroke-width="0.6"/>
<polygon points="298.8,2363.3 295.8,2364.4 295.8,2362.2" fill="#444"/>
<polygon points="301.8,2363.3 304.8,2362.2 304.8,2364.4" fill="#444"/>
<text x="316.9" y="2361.9" font-size="10" text-anchor="middle">3.5</text>
<path d="M282.6 2370.2 H301.8 M282.6 2523.2 H301.8" fill="none" stroke="#777" stroke-width="0.6"/>
<line x1="298.8" y1="2360" x2="298.8" y2="2510" stroke="#777" stroke-width="0.6" stroke-dasharray="5 2.5"/>
<rect x="196.4" y="2496.3" width="52.2" height="80.8" fill="#cdd4ec" stroke="#1c1c1c" stroke-width="1.1"/>
<rect x="261.9" y="2357.8" width="21.2" height="193.1" fill="#cdd4ec" rx="1" stroke="#1c1c1c" stroke-width="1.1"/>
<rect x="248.3" y="2357.8" width="13.6" height="219.3" fill="#cdd4ec" rx="1" stroke="#1c1c1c" stroke-width="1.1"/>
<line x1="248.3" y1="2401.8" x2="330" y2="2401.8" stroke="#666" stroke-width="0.6" stroke-dasharray="6 3"/>
<line x1="248.3" y1="2490.7" x2="330" y2="2490.7" stroke="#666" stroke-width="0.6" stroke-dasharray="6 3"/>
<line x1="244" y1="2446.8" x2="300" y2="2446.8" stroke="#666" stroke-width="0.5" stroke-dasharray="9 2 2 2"/>
<rect x="248.7" y="2442.6" width="6.9" height="8.3" fill="none" stroke="#666" stroke-width="0.5" stroke-dasharray="2.5 1.2"/>
<line x1="189.5" y1="2536.9" x2="274.7" y2="2536.9" stroke="#666" stroke-width="0.5" stroke-dasharray="9 2 2 2"/>
<path d="M196.4 2505.6 H203.8 V2568 H196.4" fill="none" stroke="#666" stroke-width="0.5" stroke-dasharray="3 1.5"/>
<path d="M203.8 2528.9 H241.7 V2545.2 H203.8" fill="none" stroke="#666" stroke-width="0.5" stroke-dasharray="3 1.5"/>
<line x1="241.7" y1="2467" x2="241.7" y2="2528.9" stroke="#5a5a5a" stroke-width="0.6"/>
<circle cx="294.1" cy="2440.7" r="1" fill="#333"/>
<circle cx="294.1" cy="2453.1" r="1" fill="#333"/>
<line x1="241.9" y1="2436.6" x2="261.9" y2="2436.6" stroke="#5a5a5a" stroke-width="0.6"/>
<polygon points="248.3,2436.6 245.3,2437.7 245.3,2435.5" fill="#444"/>
<polygon points="255.6,2436.6 258.6,2435.5 258.6,2437.7" fill="#444"/>
<text x="252.2" y="2435.2" font-size="10" text-anchor="middle">8</text>
<line x1="273.5" y1="2436.6" x2="307.9" y2="2436.6" stroke="#5a5a5a" stroke-width="0.6"/>
<polygon points="283.1,2436.6 280.1,2437.7 280.1,2435.5" fill="#444"/>
<polygon points="294.1,2436.6 297.1,2435.5 297.1,2437.7" fill="#444"/>
<text x="281.7" y="2435.2" font-size="10" text-anchor="middle">8.5</text>
<line x1="294.1" y1="2440.7" x2="313.5" y2="2440.7" stroke="#5a5a5a" stroke-width="0.6"/>
<line x1="294.1" y1="2453.1" x2="313.5" y2="2453.1" stroke="#5a5a5a" stroke-width="0.6"/>
<line x1="312.3" y1="2440.7" x2="312.3" y2="2453.1" stroke="#5a5a5a" stroke-width="0.6"/>
<text x="310.4" y="2447.2" font-size="7.4" text-anchor="middle" transform="rotate(-90 310.4 2447.2)">14</text>
<line x1="196.5" y1="2470.9" x2="241.7" y2="2470.9" stroke="#666" stroke-width="0.6"/>
<polygon points="196.5,2470.9 201,2469.8 201,2472" fill="#444"/>
<polygon points="241.7,2470.9 237.2,2472 237.2,2469.8" fill="#444"/>
<text x="219.3" y="2468.2" font-size="10" text-anchor="middle">50</text>
<line x1="189.6" y1="2484.7" x2="210.2" y2="2484.7" stroke="#5a5a5a" stroke-width="0.6"/>
<line x1="203.4" y1="2481" x2="203.4" y2="2505" stroke="#5a5a5a" stroke-width="0.6"/>
<polygon points="196.5,2484.7 193,2485.8 193,2483.6" fill="#444"/>
<polygon points="203.4,2484.7 206.9,2483.6 206.9,2485.8" fill="#444"/>
<text x="199.8" y="2482.5" font-size="10" text-anchor="middle">8</text>
<line x1="165" y1="2505.6" x2="196.4" y2="2505.6" stroke="#5a5a5a" stroke-width="0.6"/>
<line x1="165" y1="2568" x2="196.4" y2="2568" stroke="#5a5a5a" stroke-width="0.6"/>
<line x1="168.3" y1="2505.6" x2="168.3" y2="2568" stroke="#666" stroke-width="0.6"/>
<polygon points="168.3,2505.6 169.4,2510.1 167.2,2510.1" fill="#444"/>
<polygon points="168.3,2568 167.2,2563.5 169.4,2563.5" fill="#444"/>
<text x="166.6" y="2533.8" font-size="10" text-anchor="middle" transform="rotate(-90 166.6 2533.8)">Ø70</text>
<line x1="178.5" y1="2528.9" x2="204" y2="2528.9" stroke="#5a5a5a" stroke-width="0.6"/>
<line x1="178.5" y1="2545.2" x2="204" y2="2545.2" stroke="#5a5a5a" stroke-width="0.6"/>
<line x1="181.8" y1="2528.9" x2="181.8" y2="2545.2" stroke="#666" stroke-width="0.6"/>
<polygon points="181.8,2528.9 182.9,2532.9 180.7,2532.9" fill="#444"/>
<polygon points="181.8,2545.2 180.7,2541.2 182.9,2541.2" fill="#444"/>
<text x="180" y="2534.5" font-size="9" text-anchor="middle" transform="rotate(-90 180 2534.5)">Ø19</text>
<line x1="301.8" y1="2370.2" x2="369.7" y2="2370.2" stroke="#5a5a5a" stroke-width="0.6"/>
<line x1="283.1" y1="2523.3" x2="369.7" y2="2523.3" stroke="#5a5a5a" stroke-width="0.6"/>
<line x1="301.8" y1="2384.5" x2="349" y2="2384.5" stroke="#5a5a5a" stroke-width="0.6"/>
<line x1="301.8" y1="2508.5" x2="349" y2="2508.5" stroke="#5a5a5a" stroke-width="0.6"/>
<line x1="365.6" y1="2370.2" x2="365.6" y2="2523.3" stroke="#666" stroke-width="0.6"/>
<polygon points="365.6,2370.2 366.7,2374.7 364.5,2374.7" fill="#444"/>
<polygon points="365.6,2523.3 364.5,2518.8 366.7,2518.8" fill="#444"/>
<text x="363.2" y="2457" font-size="8.4" transform="rotate(-90 363.2 2457)">Ø170</text>
<text x="360" y="2436" font-size="3.2" transform="rotate(-90 360 2436)" fill="#555">+0.04</text>
<text x="363" y="2436" font-size="3.2" transform="rotate(-90 363 2436)" fill="#555">+0.02</text>
<line x1="345.6" y1="2384.5" x2="345.6" y2="2508.5" stroke="#666" stroke-width="0.6"/>
<polygon points="345.6,2384.5 346.7,2389 344.5,2389" fill="#444"/>
<polygon points="345.6,2508.5 344.5,2504 346.7,2504" fill="#444"/>
<text x="343.2" y="2457" font-size="8.4" transform="rotate(-90 343.2 2457)">Ø140</text>
<text x="340" y="2436" font-size="3.2" transform="rotate(-90 340 2436)" fill="#555">+0.04</text>
<text x="343" y="2436" font-size="3.2" transform="rotate(-90 343 2436)" fill="#555">+0.02</text>
<line x1="327" y1="2401.8" x2="327" y2="2490.7" stroke="#666" stroke-width="0.6"/>
<polygon points="327,2401.8 328.1,2406.3 325.9,2406.3" fill="#444"/>
<polygon points="327,2490.7 325.9,2486.2 328.1,2486.2" fill="#444"/>
<text x="324.6" y="2457" font-size="8.4" transform="rotate(-90 324.6 2457)">Ø100</text>
<text x="321.4" y="2436" font-size="3.2" transform="rotate(-90 321.4 2436)" fill="#555">+0.04</text>
<text x="324.4" y="2436" font-size="3.2" transform="rotate(-90 324.4 2436)" fill="#555">+0.02</text>
<text x="318.4" y="2540.4" font-size="9.4" textLength="73.6" lengthAdjust="spacingAndGlyphs">(2)M2.5xP0.45x4L</text>
<polyline points="393.8,2544.1 313,2544.1 300,2484 294.3,2453.5" fill="none" stroke="#333" stroke-width="0.5"/>
<path d="M342.1 2565.4 H408.9 L415.9 2572.4 V2639.5 L408.9 2646.5 H342.1 L335.1 2639.5 V2572.4 Z" fill="#cdd4ec" stroke="#1c1c1c" stroke-width="1.2"/>
<circle cx="375.5" cy="2606.1" r="13.2" fill="none" stroke="#1c1c1c" stroke-width="1.2"/>
<circle cx="375.5" cy="2606.1" r="10.4" fill="#e4e8f6" stroke="#333" stroke-width="0.8"/>
<line x1="375.5" y1="2565.4" x2="375.5" y2="2648.5" stroke="#444" stroke-width="0.5"/>
<line x1="335.1" y1="2606.1" x2="415.9" y2="2606.1" stroke="#444" stroke-width="0.5"/>
<circle cx="347.4" cy="2577.7" r="2.5" fill="#e4e8f6" stroke="#333" stroke-width="0.7"/>
<line x1="344.4" y1="2580.7" x2="350.4" y2="2574.7" stroke="#333" stroke-width="0.5"/>
<circle cx="347.4" cy="2634.1" r="2.5" fill="#e4e8f6" stroke="#333" stroke-width="0.7"/>
<line x1="344.4" y1="2637.1" x2="350.4" y2="2631.1" stroke="#333" stroke-width="0.5"/>
<circle cx="404.4" cy="2577.7" r="2.5" fill="#e4e8f6" stroke="#333" stroke-width="0.7"/>
<line x1="401.4" y1="2580.7" x2="407.4" y2="2574.7" stroke="#333" stroke-width="0.5"/>
<circle cx="404.4" cy="2634.1" r="2.5" fill="#e4e8f6" stroke="#333" stroke-width="0.7"/>
<line x1="401.4" y1="2637.1" x2="407.4" y2="2631.1" stroke="#333" stroke-width="0.5"/>
<line x1="335.1" y1="2552.5" x2="335.1" y2="2565" stroke="#5a5a5a" stroke-width="0.6"/>
<line x1="415.9" y1="2552.5" x2="415.9" y2="2565" stroke="#5a5a5a" stroke-width="0.6"/>
<line x1="335.1" y1="2556.6" x2="415.9" y2="2556.6" stroke="#666" stroke-width="0.6"/>
<polygon points="335.1,2556.6 339.1,2555.5 339.1,2557.7" fill="#444"/>
<polygon points="415.9,2556.6 411.9,2557.7 411.9,2555.5" fill="#444"/>
<text x="374.9" y="2555" font-size="7.4" text-anchor="middle">90</text>
<line x1="417" y1="2565.4" x2="445" y2="2565.4" stroke="#5a5a5a" stroke-width="0.6"/>
<line x1="417" y1="2646.5" x2="445" y2="2646.5" stroke="#5a5a5a" stroke-width="0.6"/>
<line x1="441.5" y1="2565.4" x2="441.5" y2="2646.5" stroke="#666" stroke-width="0.6"/>
<polygon points="441.5,2565.4 442.6,2569.4 440.4,2569.4" fill="#444"/>
<polygon points="441.5,2646.5 440.4,2642.5 442.6,2642.5" fill="#444"/>
<text x="438.6" y="2606.1" font-size="7.4" text-anchor="middle" transform="rotate(-90 438.6 2606.1)">90</text>
<text x="264.1" y="2602.5" font-size="10" textLength="64.6" lengthAdjust="spacingAndGlyphs">(4)M6xP1x10L</text>
<polyline points="265.5,2605.8 330.1,2605.8 347.4,2577.7" fill="none" stroke="#5a5a5a" stroke-width="0.6"/>
<text x="271.5" y="2617.1" font-size="10" textLength="51.2" lengthAdjust="spacingAndGlyphs">P.C.D. Ø90</text>
<path d="M475.8 2357.5 H629.3 Q642.3 2357.5 642.3 2370.5 V2526 Q642.3 2536.2 632.3 2536.2 H598.5 Q591.6 2536.2 591.6 2543 V2572.4 Q591.6 2576.7 587.3 2576.7 H517.2 Q512.9 2576.7 512.9 2572.4 V2543 Q512.9 2536.2 506 2536.2 H472.8 Q462.8 2536.2 462.8 2526 V2370.5 Q462.8 2357.5 475.8 2357.5 Z" fill="#cdd4ec" stroke="#1c1c1c" stroke-width="1.2"/>
<path d="M532.6 2534.2 Q537 2535.5 538 2540.5 A14.5 13 0 0 0 567 2540.5 Q568 2535.5 572.4 2534.2" fill="none" stroke="#1c1c1c" stroke-width="1.1"/>
<circle cx="552.4" cy="2446.8" r="88.8" fill="none" stroke="#1c1c1c" stroke-width="1.2"/>
<circle cx="552.4" cy="2446.8" r="84.5" fill="none" stroke="#444" stroke-width="0.5"/>
<circle cx="552.4" cy="2446.8" r="80.7" fill="none" stroke-dasharray="9 3" stroke="#555" stroke-width="0.5"/>
<circle cx="552.4" cy="2446.8" r="76" fill="none" stroke="#1c1c1c" stroke-width="1.2"/>
<circle cx="552.4" cy="2446.8" r="72" fill="none" stroke="#555" stroke-width="0.5"/>
<circle cx="552.4" cy="2446.8" r="68.7" fill="none" stroke-dasharray="9 3" stroke="#555" stroke-width="0.5"/>
<circle cx="552.4" cy="2446.8" r="62.9" fill="none" stroke="#1c1c1c" stroke-width="1.2"/>
<circle cx="552.4" cy="2446.8" r="48.3" fill="#dfe3f3" stroke="#1c1c1c" stroke-width="1.2"/>
<circle cx="552.4" cy="2446.8" r="45.3" fill="#fff" stroke="#1c1c1c" stroke-width="1"/>
<circle cx="552.4" cy="2378.1" r="2.4" fill="#dfe3f3" stroke="#333" stroke-width="0.7"/>
<circle cx="552.4" cy="2378.1" r="1.1" fill="none" stroke="#333" stroke-width="0.4"/>
<circle cx="611.9" cy="2412.45" r="2.4" fill="#dfe3f3" stroke="#333" stroke-width="0.7"/>
<circle cx="611.9" cy="2412.45" r="1.1" fill="none" stroke="#333" stroke-width="0.4"/>
<circle cx="611.9" cy="2481.15" r="2.4" fill="#dfe3f3" stroke="#333" stroke-width="0.7"/>
<circle cx="611.9" cy="2481.15" r="1.1" fill="none" stroke="#333" stroke-width="0.4"/>
<circle cx="552.4" cy="2515.5" r="2.4" fill="#dfe3f3" stroke="#333" stroke-width="0.7"/>
<circle cx="552.4" cy="2515.5" r="1.1" fill="none" stroke="#333" stroke-width="0.4"/>
<circle cx="492.9" cy="2481.15" r="2.4" fill="#dfe3f3" stroke="#333" stroke-width="0.7"/>
<circle cx="492.9" cy="2481.15" r="1.1" fill="none" stroke="#333" stroke-width="0.4"/>
<circle cx="492.9" cy="2412.45" r="2.4" fill="#dfe3f3" stroke="#333" stroke-width="0.7"/>
<circle cx="492.9" cy="2412.45" r="1.1" fill="none" stroke="#333" stroke-width="0.4"/>
<circle cx="483.5" cy="2446.8" r="2.8" fill="#fff" stroke="#1c1c1c" stroke-width="0.7"/>
<path d="M483.5 2446.8 L480.7 2446.8 A2.8 2.8 0 0 1 483.5 2444 Z M483.5 2446.8 L486.3 2446.8 A2.8 2.8 0 0 1 483.5 2449.6 Z" fill="#111"/>
<circle cx="621.3" cy="2446.8" r="2.8" fill="#fff" stroke="#1c1c1c" stroke-width="0.7"/>
<path d="M621.3 2446.8 L618.5 2446.8 A2.8 2.8 0 0 1 621.3 2444 Z M621.3 2446.8 L624.1 2446.8 A2.8 2.8 0 0 1 621.3 2449.6 Z" fill="#111"/>
<circle cx="471.7" cy="2446.8" r="2.4" fill="#e9ecf8" stroke="#555" stroke-width="0.5"/>
<circle cx="633.1" cy="2446.8" r="2.4" fill="#e9ecf8" stroke="#555" stroke-width="0.5"/>
<circle cx="476" cy="2370.6" r="5.2" fill="#e4e8f6" stroke="#333" stroke-width="0.7"/>
<circle cx="628.2" cy="2370.6" r="5.2" fill="#e4e8f6" stroke="#333" stroke-width="0.7"/>
<circle cx="475.8" cy="2522.8" r="5.2" fill="#e4e8f6" stroke="#333" stroke-width="0.7"/>
<line x1="469.6" y1="2522.8" x2="482" y2="2522.8" stroke="#555" stroke-width="0.4"/>
<line x1="475.8" y1="2516.6" x2="475.8" y2="2529" stroke="#555" stroke-width="0.4"/>
<circle cx="629" cy="2522.8" r="5.2" fill="#e4e8f6" stroke="#333" stroke-width="0.7"/>
<line x1="622.8" y1="2522.8" x2="635.2" y2="2522.8" stroke="#555" stroke-width="0.4"/>
<line x1="629" y1="2516.6" x2="629" y2="2529" stroke="#555" stroke-width="0.4"/>
<circle cx="566.1" cy="2531.7" r="0.9" fill="#333"/>
<circle cx="566.1" cy="2536.8" r="0.9" fill="#333"/>
<line x1="552.4" y1="2350" x2="552.4" y2="2581" stroke="#666" stroke-width="0.5" stroke-dasharray="9 2 2 2"/>
<line x1="443.3" y1="2446.8" x2="662" y2="2446.8" stroke="#666" stroke-width="0.5" stroke-dasharray="9 2 2 2"/>
<line x1="443.3" y1="2536.5" x2="596" y2="2536.5" stroke="#666" stroke-width="0.5" stroke-dasharray="9 2 2 2"/>
<line x1="463.5" y1="2312.5" x2="463.5" y2="2366" stroke="#5a5a5a" stroke-width="0.6"/>
<line x1="642.2" y1="2312.5" x2="642.2" y2="2366" stroke="#5a5a5a" stroke-width="0.6"/>
<line x1="476.7" y1="2334.5" x2="476.7" y2="2364" stroke="#5a5a5a" stroke-width="0.6"/>
<line x1="628.4" y1="2334.5" x2="628.4" y2="2364" stroke="#5a5a5a" stroke-width="0.6"/>
<line x1="463.5" y1="2316.9" x2="642.2" y2="2316.9" stroke="#666" stroke-width="0.6"/>
<polygon points="463.5,2316.9 468,2315.8 468,2318" fill="#444"/>
<polygon points="642.2,2316.9 637.7,2318 637.7,2315.8" fill="#444"/>
<text x="553.4" y="2315.3" font-size="10" text-anchor="middle">200</text>
<line x1="476.7" y1="2338.9" x2="628.4" y2="2338.9" stroke="#666" stroke-width="0.6"/>
<polygon points="476.7,2338.9 481.2,2337.8 481.2,2340" fill="#444"/>
<polygon points="628.4,2338.9 623.9,2340 623.9,2337.8" fill="#444"/>
<text x="553.4" y="2336.7" font-size="10" text-anchor="middle">170</text>
<text x="413.4" y="2344.2" font-size="9.8" textLength="28.6" lengthAdjust="spacingAndGlyphs">(4)ø11</text>
<polyline points="415.4,2348.3 444.2,2348.3 473.9,2368.4" fill="none" stroke="#5a5a5a" stroke-width="0.6"/>
<text x="384.3" y="2382.1" font-size="7.6" textLength="19.2" lengthAdjust="spacingAndGlyphs">(2)Ø8</text>
<text x="420" y="2382.1" font-size="7.6" textLength="24.2" lengthAdjust="spacingAndGlyphs">PINx8L</text>
<text x="405.7" y="2379" font-size="3.6" textLength="11.6" lengthAdjust="spacingAndGlyphs">+0.012</text>
<text x="405.7" y="2382.3" font-size="3.6">+0</text>
<polyline points="383.7,2386.2 458,2386.2 470.5,2446" fill="none" stroke="#5a5a5a" stroke-width="0.5"/>
<text x="385.2" y="2395.8" font-size="9.6" textLength="49.2" lengthAdjust="spacingAndGlyphs">P.C.D. ø180</text>
<line x1="443.3" y1="2536.3" x2="463" y2="2536.3" stroke="#5a5a5a" stroke-width="0.6"/>
<line x1="445.1" y1="2447.2" x2="445.1" y2="2536.3" stroke="#666" stroke-width="0.6"/>
<polygon points="445.1,2447.2 446.2,2451.7 444,2451.7" fill="#444"/>
<polygon points="445.1,2536.3 444,2531.8 446.2,2531.8" fill="#444"/>
<text x="443.8" y="2490.7" font-size="10" text-anchor="middle" transform="rotate(-90 443.8 2490.7)">99.9</text>
<text x="668.3" y="2310.6" font-size="9.8" textLength="64" lengthAdjust="spacingAndGlyphs">(6)M6xP1x10L</text>
<polyline points="722,2314.2 664.2,2314.2 612.5,2411" fill="none" stroke="#5a5a5a" stroke-width="0.6"/>
<text x="671" y="2323.5" font-size="9.8" textLength="52" lengthAdjust="spacingAndGlyphs">P.C.D. ø155</text>
<text x="671" y="2338.1" font-size="9.8" textLength="23.4" lengthAdjust="spacingAndGlyphs">(2)Ø8</text>
<text x="708.7" y="2338.1" font-size="9.8">PINx8L</text>
<text x="696.3" y="2334.4" font-size="3.2" textLength="9.7" lengthAdjust="spacingAndGlyphs">+0.012</text>
<text x="696.3" y="2338.3" font-size="3.2">+0</text>
<polyline points="722,2343.6 666.1,2343.6 621.5,2446" fill="none" stroke="#5a5a5a" stroke-width="0.6"/>
<text x="673.8" y="2352.4" font-size="9.8" textLength="52" lengthAdjust="spacingAndGlyphs">P.C.D. ø155</text>
<line x1="642.2" y1="2357.4" x2="708" y2="2357.4" stroke="#5a5a5a" stroke-width="0.6"/>
<line x1="633" y1="2371.1" x2="677.1" y2="2371.1" stroke="#5a5a5a" stroke-width="0.6"/>
<line x1="634.7" y1="2523.3" x2="677.3" y2="2523.3" stroke="#5a5a5a" stroke-width="0.6"/>
<line x1="568" y1="2532" x2="660.8" y2="2532" stroke="#5a5a5a" stroke-width="0.6"/>
<line x1="631.3" y1="2536.9" x2="692" y2="2536.9" stroke="#5a5a5a" stroke-width="0.6"/>
<line x1="592.9" y1="2577.1" x2="707.7" y2="2577.1" stroke="#5a5a5a" stroke-width="0.6"/>
<line x1="658.7" y1="2446.9" x2="658.7" y2="2532" stroke="#666" stroke-width="0.6"/>
<polygon points="658.7,2446.9 659.8,2451.4 657.6,2451.4" fill="#444"/>
<polygon points="658.7,2532 657.6,2527.5 659.8,2527.5" fill="#444"/>
<text x="657" y="2488.6" font-size="10" text-anchor="middle" transform="rotate(-90 657 2488.6)">94.5</text>
<line x1="674.7" y1="2371.1" x2="674.7" y2="2523.3" stroke="#666" stroke-width="0.6"/>
<polygon points="674.7,2371.1 675.8,2375.6 673.6,2375.6" fill="#444"/>
<polygon points="674.7,2523.3 673.6,2518.8 675.8,2518.8" fill="#444"/>
<text x="672.7" y="2445.5" font-size="10" text-anchor="middle" transform="rotate(-90 672.7 2445.5)">170</text>
<line x1="690" y1="2357.4" x2="690" y2="2536.9" stroke="#666" stroke-width="0.6"/>
<polygon points="690,2357.4 691.1,2361.9 688.9,2361.9" fill="#444"/>
<polygon points="690,2536.9 688.9,2532.4 691.1,2532.4" fill="#444"/>
<text x="688.4" y="2445.5" font-size="10" text-anchor="middle" transform="rotate(-90 688.4 2445.5)">200</text>
<line x1="704.7" y1="2357.4" x2="704.7" y2="2577.1" stroke="#666" stroke-width="0.6"/>
<polygon points="704.7,2357.4 705.8,2361.9 703.6,2361.9" fill="#444"/>
<polygon points="704.7,2577.1 703.6,2572.6 705.8,2572.6" fill="#444"/>
<text x="702.9" y="2466" font-size="10" text-anchor="middle" transform="rotate(-90 702.9 2466)">245</text>
<line x1="566.1" y1="2538" x2="566.1" y2="2567" stroke="#5a5a5a" stroke-width="0.6"/>
<line x1="552.4" y1="2556" x2="552.4" y2="2567" stroke="#5a5a5a" stroke-width="0.6"/>
<line x1="552.4" y1="2563.6" x2="566.1" y2="2563.6" stroke="#666" stroke-width="0.6"/>
<polygon points="552.4,2563.6 555.9,2562.5 555.9,2564.7" fill="#444"/>
<polygon points="566.1,2563.6 562.6,2564.7 562.6,2562.5" fill="#444"/>
<text x="559.2" y="2561.5" font-size="8.4" text-anchor="middle">16</text>
<line x1="590.5" y1="2523.2" x2="590.5" y2="2550.7" stroke="#5a5a5a" stroke-width="0.6"/>
<polygon points="590.5,2531 589.4,2527.5 591.6,2527.5" fill="#444"/>
<polygon points="590.5,2536.8 591.6,2540.3 589.4,2540.3" fill="#444"/>
<text x="587.6" y="2544" font-size="8.4" text-anchor="middle" transform="rotate(-90 587.6 2544)">6</text>
<line x1="512.9" y1="2579" x2="512.9" y2="2609" stroke="#5a5a5a" stroke-width="0.6"/>
<line x1="591.6" y1="2579" x2="591.6" y2="2609" stroke="#5a5a5a" stroke-width="0.6"/>
<line x1="512.9" y1="2605.2" x2="591.6" y2="2605.2" stroke="#666" stroke-width="0.6"/>
<polygon points="512.9,2605.2 517.4,2604.1 517.4,2606.3" fill="#444"/>
<polygon points="591.6,2605.2 587.1,2606.3 587.1,2604.1" fill="#444"/>
<text x="552.7" y="2602.5" font-size="10" text-anchor="middle">90</text>
<text x="449.4" y="2552.9" font-size="9.4" textLength="60.4" lengthAdjust="spacingAndGlyphs">(2)M3xP0.5x4L</text>
<polyline points="449,2556 510.8,2556 566,2537" fill="none" stroke="#333" stroke-width="0.5"/>
</g>
</g>
</svg>
</body>
</html>
